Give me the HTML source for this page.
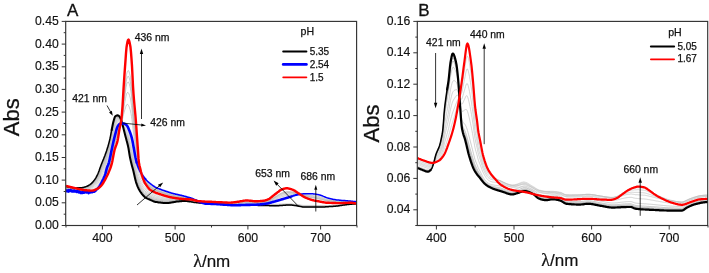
<!DOCTYPE html><html><head><meta charset="utf-8"><style>html,body{margin:0;padding:0;background:#fff;}svg{display:block;will-change:transform;}</style></head><body>
<svg width="709" height="273" viewBox="0 0 709 273" font-family='"Liberation Sans", sans-serif'>
<rect width="709" height="273" fill="#fff"/>
<g clip-path="url(#clipA)">
<path d="M66.0 186.7L66.5 186.8L67.0 186.9L67.5 187.0L68.0 187.1L68.5 187.2L69.0 187.3L69.5 187.4L70.0 187.5L70.5 187.6L71.0 187.7L71.5 187.8L72.0 187.8L72.5 187.9L73.0 187.9L73.5 188.0L74.0 188.0L74.5 188.0L75.0 188.0L75.5 188.0L76.0 188.0L76.5 188.0L77.0 188.0L77.5 188.0L78.0 188.0L78.5 188.0L79.0 188.0L79.5 188.0L80.0 188.1L80.5 188.1L81.0 188.0L81.5 188.0L82.0 187.9L82.5 187.9L83.0 187.8L83.5 187.7L84.0 187.5L84.5 187.4L85.0 187.2L85.5 187.1L86.0 187.0L86.5 186.8L87.0 186.6L87.5 186.4L88.0 186.2L88.5 185.9L89.0 185.6L89.5 185.4L90.0 185.0L90.5 184.7L91.0 184.3L91.5 183.9L92.0 183.5L92.5 183.0L93.0 182.4L93.5 181.8L94.0 181.2L94.5 180.6L95.0 179.9L95.5 179.2L96.0 178.3L96.5 177.4L97.0 176.5L97.5 175.4L98.0 174.4L98.5 173.2L99.0 172.0L99.5 170.6L100.0 169.2L100.5 167.8L101.0 166.4L101.5 165.1L102.0 163.9L102.5 162.6L103.0 161.4L103.5 160.2L104.0 159.0L104.5 157.7L105.0 156.4L105.5 155.0L106.0 153.5L106.5 152.1L107.0 150.5L107.5 148.9L108.0 147.3L108.5 145.6L109.0 143.7L109.5 141.8L110.0 139.7L110.5 137.3L111.0 134.6L111.5 131.9L112.0 129.4L112.5 126.9L113.0 124.5L113.5 122.4L114.0 120.7L114.5 119.1L115.0 117.8L115.5 117.2L116.0 116.7L116.5 116.4L117.0 116.1L117.5 116.0L118.0 116.0L118.5 116.2L119.0 116.5L119.5 117.0L120.0 117.7L120.5 118.6L121.0 119.7L121.5 121.2L122.0 122.8L122.5 124.5L123.0 126.3L123.5 128.2L124.0 130.1L124.5 132.0L125.0 133.8L125.5 135.6L126.0 137.5L126.5 139.3L127.0 141.1L127.5 143.0L128.0 145.0L128.5 147.3L129.0 150.3L129.5 153.3L130.0 156.1L130.5 158.3L131.0 160.4L131.5 162.4L132.0 164.2L132.5 166.1L133.0 168.1L133.5 170.1L134.0 172.3L134.5 174.5L135.0 176.8L135.5 178.9L136.0 180.8L136.5 182.4L137.0 183.8L137.5 185.0L138.0 186.2L138.5 187.2L139.0 188.2L139.5 189.1L140.0 190.0L140.5 190.8L141.0 191.5L141.5 192.2L142.0 192.9L142.5 193.5L143.0 194.1L143.5 194.7L144.0 195.2L144.5 195.7L145.0 196.1L145.5 196.5L146.0 196.8L146.5 197.1L147.0 197.4L147.5 197.6L148.0 197.8L148.5 198.1L149.0 198.3L149.5 198.5L150.0 198.7L150.5 199.0L151.0 199.2L151.5 199.4L152.0 199.7L152.5 199.9L153.0 200.2L153.5 200.4L154.0 200.6L154.5 200.8L155.0 200.9L155.5 201.0L156.0 201.1L156.5 201.2L157.0 201.3L157.5 201.4L158.0 201.5L158.5 201.5L159.0 201.6L159.5 201.7L160.0 201.8L160.5 201.8L161.0 201.9L161.5 202.0L162.0 202.0L162.5 202.1L163.0 202.1L163.5 202.2L164.0 202.2L164.5 202.2L165.0 202.3L165.5 202.3L166.0 202.3L166.5 202.3L167.0 202.3L167.5 202.3L168.0 202.3L168.5 202.3L169.0 202.2L169.5 202.2L170.0 202.1L170.5 202.1L171.0 202.0L171.5 201.9L172.0 201.9L172.5 201.8L173.0 201.7L173.5 201.6L174.0 201.6L174.5 201.5L175.0 201.4L175.5 201.3L176.0 201.3L176.5 201.2L177.0 201.1L177.5 201.1L178.0 201.0L178.5 201.0L179.0 201.0L179.5 200.9L180.0 200.9L180.5 200.9L181.0 200.8L181.5 200.8L182.0 200.8L182.5 200.8L183.0 200.7L183.5 200.7L184.0 200.7L184.5 200.7L185.0 200.7L185.5 200.7L186.0 200.8L186.5 200.8L187.0 200.9L187.5 200.9L188.0 201.0L188.5 201.1L189.0 201.2L189.5 201.3L190.0 201.4L190.5 201.5L191.0 201.6L191.5 201.7L192.0 201.8L192.5 201.9L193.0 202.0L193.5 202.1L194.0 202.2L194.5 202.3L195.0 202.3L195.5 202.4L196.0 202.5L196.5 202.5L197.0 202.6L197.5 202.6L198.0 202.7L198.5 202.8L199.0 202.8L199.5 202.9L200.0 202.9L200.5 203.0L201.0 203.0L201.5 203.1L202.0 203.1L202.5 203.2L203.0 203.2L203.5 203.3L204.0 203.3L204.5 203.4L205.0 203.4L205.5 203.4L206.0 203.5L206.5 203.5L207.0 203.5L207.5 203.6L208.0 203.6L208.5 203.6L209.0 203.7L209.5 203.7L210.0 203.7L210.5 203.8L211.0 203.8L211.5 203.8L212.0 203.8L212.5 203.9L213.0 203.9L213.5 203.9L214.0 203.9L214.5 204.0L215.0 204.0L215.5 204.0L216.0 204.1L216.5 204.1L217.0 204.1L217.5 204.1L218.0 204.2L218.5 204.2L219.0 204.2L219.5 204.2L220.0 204.3L220.5 204.3L221.0 204.3L221.5 204.3L222.0 204.4L222.5 204.4L223.0 204.4L223.5 204.4L224.0 204.4L224.5 204.5L225.0 204.5L225.5 204.5L226.0 204.5L226.5 204.6L227.0 204.6L227.5 204.6L228.0 204.6L228.5 204.6L229.0 204.7L229.5 204.7L230.0 204.7L230.5 204.7L231.0 204.7L231.5 204.8L232.0 204.8L232.5 204.8L233.0 204.8L233.5 204.8L234.0 204.8L234.5 204.9L235.0 204.9L235.5 204.9L236.0 204.9L236.5 204.9L237.0 204.9L237.5 204.9L238.0 205.0L238.5 205.0L239.0 205.0L239.5 205.0L240.0 205.0L240.5 205.0L241.0 205.0L241.5 205.0L242.0 205.0L242.5 205.1L243.0 205.1L243.5 205.1L244.0 205.1L244.5 205.1L245.0 205.1L245.5 205.1L246.0 205.1L246.5 205.1L247.0 205.1L247.5 205.2L248.0 205.2L248.5 205.2L249.0 205.2L249.5 205.2L250.0 205.2L250.5 205.2L251.0 205.2L251.5 205.2L252.0 205.2L252.5 205.2L253.0 205.2L253.5 205.2L254.0 205.3L254.5 205.3L255.0 205.3L255.5 205.3L256.0 205.3L256.5 205.3L257.0 205.3L257.5 205.3L258.0 205.3L258.5 205.3L259.0 205.3L259.5 205.3L260.0 205.3L260.5 205.3L261.0 205.4L261.5 205.4L262.0 205.4L262.5 205.4L263.0 205.4L263.5 205.4L264.0 205.4L264.5 205.4L265.0 205.4L265.5 205.4L266.0 205.4L266.5 205.5L267.0 205.5L267.5 205.5L268.0 205.5L268.5 205.5L269.0 205.5L269.5 205.6L270.0 205.6L270.5 205.6L271.0 205.6L271.5 205.6L272.0 205.6L272.5 205.6L273.0 205.7L273.5 205.7L274.0 205.7L274.5 205.7L275.0 205.7L275.5 205.7L276.0 205.7L276.5 205.7L277.0 205.6L277.5 205.6L278.0 205.6L278.5 205.6L279.0 205.5L279.5 205.5L280.0 205.5L280.5 205.4L281.0 205.4L281.5 205.4L282.0 205.3L282.5 205.3L283.0 205.3L283.5 205.2L284.0 205.2L284.5 205.1L285.0 205.1L285.5 205.1L286.0 205.0L286.5 205.0L287.0 205.0L287.5 205.0L288.0 205.0L288.5 204.9L289.0 204.9L289.5 204.9L290.0 204.9L290.5 204.9L291.0 205.0L291.5 205.0L292.0 205.0L292.5 205.1L293.0 205.2L293.5 205.2L294.0 205.3L294.5 205.4L295.0 205.4L295.5 205.5L296.0 205.6L296.5 205.6L297.0 205.7L297.5 205.8L298.0 205.9L298.5 206.0L299.0 206.1L299.5 206.2L300.0 206.3L300.5 206.4L301.0 206.5L301.5 206.6L302.0 206.7L302.5 206.7L303.0 206.8L303.5 206.9L304.0 206.9L304.5 206.9L305.0 206.9L305.5 206.9L306.0 206.9L306.5 206.9L307.0 206.9L307.5 206.9L308.0 206.9L308.5 206.9L309.0 206.9L309.5 206.9L310.0 206.9L310.5 206.9L311.0 206.9L311.5 206.9L312.0 206.9L312.5 206.9L313.0 206.9L313.5 206.9L314.0 206.9L314.5 206.9L315.0 206.9L315.5 206.9L316.0 206.9L316.5 206.9L317.0 206.9L317.5 206.9L318.0 206.9L318.5 206.9L319.0 206.9L319.5 206.9L320.0 206.9L320.5 206.9L321.0 206.9L321.5 206.9L322.0 206.9L322.5 206.8L323.0 206.8L323.5 206.8L324.0 206.8L324.5 206.8L325.0 206.8L325.5 206.7L326.0 206.7L326.5 206.7L327.0 206.7L327.5 206.7L328.0 206.6L328.5 206.6L329.0 206.6L329.5 206.5L330.0 206.5L330.5 206.5L331.0 206.4L331.5 206.4L332.0 206.4L332.5 206.4L333.0 206.3L333.5 206.3L334.0 206.3L334.5 206.2L335.0 206.2L335.5 206.1L336.0 206.1L336.5 206.0L337.0 206.0L337.5 205.9L338.0 205.8L338.5 205.8L339.0 205.7L339.5 205.6L340.0 205.6L340.5 205.5L341.0 205.4L341.5 205.3L342.0 205.2L342.5 205.2L343.0 205.1L343.5 205.0L344.0 204.9L344.5 204.9L345.0 204.8L345.5 204.7L346.0 204.7L346.5 204.6L347.0 204.6L347.5 204.5L348.0 204.5L348.5 204.4L349.0 204.4L349.5 204.3L350.0 204.3L350.5 204.2L351.0 204.2L351.5 204.1L352.0 204.1L352.5 204.0L353.0 204.0L353.5 204.0L354.0 203.9L354.5 203.9L355.0 203.8L355.5 203.8L356.0 203.8L356.5 203.7L357.0 203.7" fill="none" stroke="#8c8c8c" stroke-width="0.75"/>
<path d="M66.0 186.9L66.5 187.0L67.0 187.1L67.5 187.3L68.0 187.4L68.5 187.5L69.0 187.6L69.5 187.7L70.0 187.7L70.5 187.8L71.0 187.9L71.5 188.0L72.0 188.0L72.5 188.1L73.0 188.1L73.5 188.2L74.0 188.2L74.5 188.2L75.0 188.2L75.5 188.2L76.0 188.2L76.5 188.3L77.0 188.3L77.5 188.3L78.0 188.3L78.5 188.3L79.0 188.3L79.5 188.3L80.0 188.3L80.5 188.3L81.0 188.3L81.5 188.3L82.0 188.2L82.5 188.2L83.0 188.1L83.5 188.0L84.0 187.8L84.5 187.7L85.0 187.6L85.5 187.4L86.0 187.3L86.5 187.2L87.0 187.0L87.5 186.8L88.0 186.6L88.5 186.3L89.0 186.1L89.5 185.8L90.0 185.5L90.5 185.2L91.0 184.9L91.5 184.5L92.0 184.0L92.5 183.6L93.0 183.0L93.5 182.5L94.0 181.9L94.5 181.3L95.0 180.6L95.5 179.9L96.0 179.1L96.5 178.2L97.0 177.3L97.5 176.3L98.0 175.3L98.5 174.1L99.0 172.9L99.5 171.6L100.0 170.2L100.5 168.9L101.0 167.5L101.5 166.2L102.0 165.0L102.5 163.8L103.0 162.6L103.5 161.4L104.0 160.2L104.5 158.9L105.0 157.5L105.5 156.2L106.0 154.7L106.5 153.2L107.0 151.6L107.5 150.0L108.0 148.4L108.5 146.8L109.0 144.9L109.5 143.0L110.0 140.8L110.5 138.4L111.0 135.8L111.5 133.1L112.0 130.6L112.5 128.1L113.0 125.7L113.5 123.6L114.0 121.9L114.5 120.2L115.0 118.9L115.5 118.2L116.0 117.7L116.5 117.2L117.0 116.9L117.5 116.7L118.0 116.7L118.5 116.8L119.0 117.0L119.5 117.4L120.0 118.1L120.5 118.9L121.0 120.0L121.5 121.3L122.0 122.8L122.5 124.4L123.0 126.1L123.5 127.9L124.0 129.7L124.5 131.4L125.0 133.2L125.5 134.9L126.0 136.7L126.5 138.4L127.0 140.1L127.5 141.9L128.0 143.9L128.5 146.1L129.0 148.9L129.5 151.9L130.0 154.5L130.5 156.8L131.0 158.8L131.5 160.7L132.0 162.6L132.5 164.5L133.0 166.5L133.5 168.6L134.0 170.8L134.5 173.1L135.0 175.4L135.5 177.5L136.0 179.4L136.5 181.1L137.0 182.5L137.5 183.7L138.0 184.9L138.5 186.0L139.0 187.0L139.5 187.9L140.0 188.8L140.5 189.6L141.0 190.3L141.5 191.0L142.0 191.7L142.5 192.4L143.0 193.0L143.5 193.5L144.0 194.1L144.5 194.6L145.0 195.0L145.5 195.4L146.0 195.7L146.5 196.0L147.0 196.3L147.5 196.6L148.0 196.8L148.5 197.0L149.0 197.3L149.5 197.5L150.0 197.7L150.5 198.0L151.0 198.2L151.5 198.5L152.0 198.8L152.5 199.0L153.0 199.2L153.5 199.5L154.0 199.7L154.5 199.9L155.0 200.0L155.5 200.1L156.0 200.2L156.5 200.3L157.0 200.4L157.5 200.5L158.0 200.6L158.5 200.7L159.0 200.8L159.5 200.9L160.0 201.0L160.5 201.0L161.0 201.1L161.5 201.2L162.0 201.2L162.5 201.3L163.0 201.4L163.5 201.4L164.0 201.5L164.5 201.5L165.0 201.5L165.5 201.6L166.0 201.6L166.5 201.6L167.0 201.6L167.5 201.6L168.0 201.6L168.5 201.6L169.0 201.6L169.5 201.6L170.0 201.5L170.5 201.5L171.0 201.4L171.5 201.4L172.0 201.3L172.5 201.3L173.0 201.2L173.5 201.1L174.0 201.1L174.5 201.0L175.0 200.9L175.5 200.9L176.0 200.8L176.5 200.8L177.0 200.7L177.5 200.7L178.0 200.6L178.5 200.6L179.0 200.6L179.5 200.6L180.0 200.5L180.5 200.5L181.0 200.5L181.5 200.5L182.0 200.5L182.5 200.4L183.0 200.4L183.5 200.4L184.0 200.4L184.5 200.4L185.0 200.4L185.5 200.5L186.0 200.5L186.5 200.6L187.0 200.6L187.5 200.7L188.0 200.8L188.5 200.9L189.0 201.0L189.5 201.1L190.0 201.2L190.5 201.3L191.0 201.4L191.5 201.5L192.0 201.6L192.5 201.7L193.0 201.8L193.5 201.9L194.0 202.0L194.5 202.1L195.0 202.2L195.5 202.2L196.0 202.3L196.5 202.4L197.0 202.5L197.5 202.5L198.0 202.6L198.5 202.7L199.0 202.8L199.5 202.8L200.0 202.9L200.5 202.9L201.0 203.0L201.5 203.1L202.0 203.1L202.5 203.2L203.0 203.2L203.5 203.3L204.0 203.3L204.5 203.4L205.0 203.4L205.5 203.4L206.0 203.5L206.5 203.5L207.0 203.5L207.5 203.6L208.0 203.6L208.5 203.6L209.0 203.7L209.5 203.7L210.0 203.7L210.5 203.8L211.0 203.8L211.5 203.8L212.0 203.8L212.5 203.9L213.0 203.9L213.5 203.9L214.0 203.9L214.5 204.0L215.0 204.0L215.5 204.0L216.0 204.1L216.5 204.1L217.0 204.1L217.5 204.1L218.0 204.2L218.5 204.2L219.0 204.2L219.5 204.2L220.0 204.3L220.5 204.3L221.0 204.3L221.5 204.3L222.0 204.4L222.5 204.4L223.0 204.4L223.5 204.4L224.0 204.5L224.5 204.5L225.0 204.5L225.5 204.5L226.0 204.6L226.5 204.6L227.0 204.6L227.5 204.6L228.0 204.6L228.5 204.7L229.0 204.7L229.5 204.7L230.0 204.7L230.5 204.7L231.0 204.8L231.5 204.8L232.0 204.8L232.5 204.8L233.0 204.8L233.5 204.8L234.0 204.9L234.5 204.9L235.0 204.9L235.5 204.9L236.0 204.9L236.5 204.9L237.0 204.9L237.5 205.0L238.0 205.0L238.5 205.0L239.0 205.0L239.5 205.0L240.0 205.0L240.5 205.0L241.0 205.0L241.5 205.0L242.0 205.0L242.5 205.1L243.0 205.1L243.5 205.1L244.0 205.1L244.5 205.1L245.0 205.1L245.5 205.1L246.0 205.1L246.5 205.1L247.0 205.1L247.5 205.1L248.0 205.1L248.5 205.1L249.0 205.2L249.5 205.2L250.0 205.2L250.5 205.2L251.0 205.2L251.5 205.2L252.0 205.2L252.5 205.2L253.0 205.2L253.5 205.2L254.0 205.2L254.5 205.2L255.0 205.2L255.5 205.2L256.0 205.2L256.5 205.2L257.0 205.3L257.5 205.3L258.0 205.3L258.5 205.3L259.0 205.3L259.5 205.3L260.0 205.3L260.5 205.3L261.0 205.3L261.5 205.3L262.0 205.3L262.5 205.3L263.0 205.3L263.5 205.3L264.0 205.3L264.5 205.3L265.0 205.3L265.5 205.4L266.0 205.4L266.5 205.4L267.0 205.4L267.5 205.4L268.0 205.4L268.5 205.4L269.0 205.4L269.5 205.5L270.0 205.5L270.5 205.5L271.0 205.5L271.5 205.5L272.0 205.5L272.5 205.5L273.0 205.5L273.5 205.5L274.0 205.6L274.5 205.6L275.0 205.6L275.5 205.6L276.0 205.6L276.5 205.5L277.0 205.5L277.5 205.5L278.0 205.5L278.5 205.5L279.0 205.4L279.5 205.4L280.0 205.4L280.5 205.3L281.0 205.3L281.5 205.3L282.0 205.2L282.5 205.2L283.0 205.2L283.5 205.1L284.0 205.1L284.5 205.1L285.0 205.0L285.5 205.0L286.0 205.0L286.5 204.9L287.0 204.9L287.5 204.9L288.0 204.9L288.5 204.9L289.0 204.9L289.5 204.8L290.0 204.9L290.5 204.9L291.0 204.9L291.5 204.9L292.0 205.0L292.5 205.0L293.0 205.1L293.5 205.1L294.0 205.2L294.5 205.3L295.0 205.3L295.5 205.4L296.0 205.5L296.5 205.5L297.0 205.6L297.5 205.7L298.0 205.8L298.5 205.8L299.0 205.9L299.5 206.1L300.0 206.2L300.5 206.3L301.0 206.4L301.5 206.5L302.0 206.6L302.5 206.6L303.0 206.7L303.5 206.7L304.0 206.8L304.5 206.8L305.0 206.8L305.5 206.8L306.0 206.8L306.5 206.8L307.0 206.8L307.5 206.8L308.0 206.8L308.5 206.8L309.0 206.8L309.5 206.8L310.0 206.8L310.5 206.8L311.0 206.8L311.5 206.8L312.0 206.8L312.5 206.8L313.0 206.8L313.5 206.8L314.0 206.8L314.5 206.8L315.0 206.8L315.5 206.8L316.0 206.8L316.5 206.8L317.0 206.8L317.5 206.8L318.0 206.8L318.5 206.8L319.0 206.8L319.5 206.8L320.0 206.8L320.5 206.8L321.0 206.8L321.5 206.8L322.0 206.8L322.5 206.8L323.0 206.7L323.5 206.7L324.0 206.7L324.5 206.7L325.0 206.7L325.5 206.7L326.0 206.6L326.5 206.6L327.0 206.6L327.5 206.6L328.0 206.5L328.5 206.5L329.0 206.5L329.5 206.5L330.0 206.4L330.5 206.4L331.0 206.4L331.5 206.3L332.0 206.3L332.5 206.3L333.0 206.3L333.5 206.2L334.0 206.2L334.5 206.2L335.0 206.1L335.5 206.1L336.0 206.0L336.5 206.0L337.0 205.9L337.5 205.9L338.0 205.8L338.5 205.7L339.0 205.7L339.5 205.6L340.0 205.5L340.5 205.4L341.0 205.4L341.5 205.3L342.0 205.2L342.5 205.1L343.0 205.1L343.5 205.0L344.0 204.9L344.5 204.8L345.0 204.8L345.5 204.7L346.0 204.6L346.5 204.6L347.0 204.5L347.5 204.5L348.0 204.4L348.5 204.4L349.0 204.3L349.5 204.3L350.0 204.2L350.5 204.2L351.0 204.1L351.5 204.1L352.0 204.1L352.5 204.0L353.0 204.0L353.5 203.9L354.0 203.9L354.5 203.8L355.0 203.8L355.5 203.8L356.0 203.7L356.5 203.7L357.0 203.7" fill="none" stroke="#9c9c9c" stroke-width="0.75"/>
<path d="M66.0 187.2L66.5 187.3L67.0 187.4L67.5 187.5L68.0 187.6L68.5 187.7L69.0 187.8L69.5 187.9L70.0 188.0L70.5 188.0L71.0 188.1L71.5 188.2L72.0 188.2L72.5 188.3L73.0 188.3L73.5 188.4L74.0 188.4L74.5 188.4L75.0 188.4L75.5 188.5L76.0 188.5L76.5 188.5L77.0 188.5L77.5 188.5L78.0 188.5L78.5 188.5L79.0 188.5L79.5 188.5L80.0 188.6L80.5 188.6L81.0 188.6L81.5 188.5L82.0 188.5L82.5 188.4L83.0 188.4L83.5 188.3L84.0 188.2L84.5 188.0L85.0 187.9L85.5 187.8L86.0 187.7L86.5 187.5L87.0 187.4L87.5 187.2L88.0 187.0L88.5 186.8L89.0 186.5L89.5 186.3L90.0 186.0L90.5 185.7L91.0 185.4L91.5 185.0L92.0 184.6L92.5 184.1L93.0 183.6L93.5 183.1L94.0 182.5L94.5 181.9L95.0 181.3L95.5 180.6L96.0 179.8L96.5 179.0L97.0 178.1L97.5 177.1L98.0 176.1L98.5 175.1L99.0 173.9L99.5 172.6L100.0 171.3L100.5 169.9L101.0 168.6L101.5 167.3L102.0 166.1L102.5 164.9L103.0 163.7L103.5 162.6L104.0 161.3L104.5 160.1L105.0 158.7L105.5 157.3L106.0 155.8L106.5 154.3L107.0 152.7L107.5 151.1L108.0 149.6L108.5 147.9L109.0 146.1L109.5 144.1L110.0 142.0L110.5 139.6L111.0 136.9L111.5 134.3L112.0 131.8L112.5 129.3L113.0 126.9L113.5 124.8L114.0 123.0L114.5 121.4L115.0 120.0L115.5 119.2L116.0 118.6L116.5 118.1L117.0 117.6L117.5 117.4L118.0 117.3L118.5 117.4L119.0 117.5L119.5 117.9L120.0 118.5L120.5 119.3L121.0 120.2L121.5 121.5L122.0 122.9L122.5 124.3L123.0 125.9L123.5 127.6L124.0 129.3L124.5 130.9L125.0 132.6L125.5 134.2L126.0 135.9L126.5 137.5L127.0 139.2L127.5 140.9L128.0 142.7L128.5 144.9L129.0 147.6L129.5 150.5L130.0 153.0L130.5 155.2L131.0 157.2L131.5 159.1L132.0 161.0L132.5 162.9L133.0 164.9L133.5 167.1L134.0 169.3L134.5 171.7L135.0 174.0L135.5 176.2L136.0 178.1L136.5 179.8L137.0 181.2L137.5 182.5L138.0 183.6L138.5 184.7L139.0 185.8L139.5 186.7L140.0 187.6L140.5 188.4L141.0 189.1L141.5 189.8L142.0 190.5L142.5 191.2L143.0 191.8L143.5 192.4L144.0 192.9L144.5 193.4L145.0 193.9L145.5 194.3L146.0 194.6L146.5 194.9L147.0 195.2L147.5 195.5L148.0 195.8L148.5 196.0L149.0 196.3L149.5 196.5L150.0 196.8L150.5 197.0L151.0 197.3L151.5 197.5L152.0 197.8L152.5 198.1L153.0 198.3L153.5 198.6L154.0 198.8L154.5 199.0L155.0 199.1L155.5 199.3L156.0 199.4L156.5 199.5L157.0 199.6L157.5 199.7L158.0 199.8L158.5 199.9L159.0 200.0L159.5 200.1L160.0 200.2L160.5 200.2L161.0 200.3L161.5 200.4L162.0 200.5L162.5 200.5L163.0 200.6L163.5 200.7L164.0 200.7L164.5 200.8L165.0 200.8L165.5 200.9L166.0 200.9L166.5 200.9L167.0 201.0L167.5 201.0L168.0 201.0L168.5 201.0L169.0 201.0L169.5 200.9L170.0 200.9L170.5 200.9L171.0 200.8L171.5 200.8L172.0 200.8L172.5 200.7L173.0 200.7L173.5 200.6L174.0 200.6L174.5 200.5L175.0 200.5L175.5 200.4L176.0 200.4L176.5 200.3L177.0 200.3L177.5 200.3L178.0 200.2L178.5 200.2L179.0 200.2L179.5 200.2L180.0 200.2L180.5 200.2L181.0 200.1L181.5 200.1L182.0 200.1L182.5 200.1L183.0 200.1L183.5 200.1L184.0 200.1L184.5 200.1L185.0 200.2L185.5 200.2L186.0 200.2L186.5 200.3L187.0 200.4L187.5 200.4L188.0 200.5L188.5 200.6L189.0 200.7L189.5 200.8L190.0 200.9L190.5 201.0L191.0 201.1L191.5 201.3L192.0 201.4L192.5 201.5L193.0 201.6L193.5 201.7L194.0 201.8L194.5 201.9L195.0 202.0L195.5 202.1L196.0 202.2L196.5 202.3L197.0 202.4L197.5 202.4L198.0 202.5L198.5 202.6L199.0 202.7L199.5 202.8L200.0 202.8L200.5 202.9L201.0 203.0L201.5 203.0L202.0 203.1L202.5 203.2L203.0 203.2L203.5 203.3L204.0 203.3L204.5 203.4L205.0 203.4L205.5 203.4L206.0 203.5L206.5 203.5L207.0 203.6L207.5 203.6L208.0 203.6L208.5 203.6L209.0 203.7L209.5 203.7L210.0 203.7L210.5 203.8L211.0 203.8L211.5 203.8L212.0 203.8L212.5 203.9L213.0 203.9L213.5 203.9L214.0 203.9L214.5 204.0L215.0 204.0L215.5 204.0L216.0 204.1L216.5 204.1L217.0 204.1L217.5 204.1L218.0 204.2L218.5 204.2L219.0 204.2L219.5 204.2L220.0 204.3L220.5 204.3L221.0 204.3L221.5 204.3L222.0 204.4L222.5 204.4L223.0 204.4L223.5 204.4L224.0 204.5L224.5 204.5L225.0 204.5L225.5 204.5L226.0 204.6L226.5 204.6L227.0 204.6L227.5 204.6L228.0 204.7L228.5 204.7L229.0 204.7L229.5 204.7L230.0 204.7L230.5 204.8L231.0 204.8L231.5 204.8L232.0 204.8L232.5 204.8L233.0 204.9L233.5 204.9L234.0 204.9L234.5 204.9L235.0 204.9L235.5 204.9L236.0 204.9L236.5 205.0L237.0 205.0L237.5 205.0L238.0 205.0L238.5 205.0L239.0 205.0L239.5 205.0L240.0 205.0L240.5 205.0L241.0 205.0L241.5 205.0L242.0 205.0L242.5 205.1L243.0 205.1L243.5 205.1L244.0 205.1L244.5 205.1L245.0 205.1L245.5 205.1L246.0 205.1L246.5 205.1L247.0 205.1L247.5 205.1L248.0 205.1L248.5 205.1L249.0 205.1L249.5 205.1L250.0 205.1L250.5 205.2L251.0 205.2L251.5 205.2L252.0 205.2L252.5 205.2L253.0 205.2L253.5 205.2L254.0 205.2L254.5 205.2L255.0 205.2L255.5 205.2L256.0 205.2L256.5 205.2L257.0 205.2L257.5 205.2L258.0 205.2L258.5 205.2L259.0 205.2L259.5 205.2L260.0 205.2L260.5 205.2L261.0 205.2L261.5 205.2L262.0 205.2L262.5 205.3L263.0 205.3L263.5 205.3L264.0 205.3L264.5 205.3L265.0 205.3L265.5 205.3L266.0 205.3L266.5 205.3L267.0 205.3L267.5 205.3L268.0 205.3L268.5 205.3L269.0 205.3L269.5 205.4L270.0 205.4L270.5 205.4L271.0 205.4L271.5 205.4L272.0 205.4L272.5 205.4L273.0 205.4L273.5 205.4L274.0 205.4L274.5 205.4L275.0 205.4L275.5 205.4L276.0 205.4L276.5 205.4L277.0 205.4L277.5 205.4L278.0 205.4L278.5 205.3L279.0 205.3L279.5 205.3L280.0 205.3L280.5 205.2L281.0 205.2L281.5 205.2L282.0 205.1L282.5 205.1L283.0 205.1L283.5 205.0L284.0 205.0L284.5 205.0L285.0 204.9L285.5 204.9L286.0 204.9L286.5 204.9L287.0 204.8L287.5 204.8L288.0 204.8L288.5 204.8L289.0 204.8L289.5 204.8L290.0 204.8L290.5 204.8L291.0 204.8L291.5 204.8L292.0 204.9L292.5 204.9L293.0 205.0L293.5 205.0L294.0 205.1L294.5 205.2L295.0 205.2L295.5 205.3L296.0 205.4L296.5 205.4L297.0 205.5L297.5 205.6L298.0 205.7L298.5 205.7L299.0 205.8L299.5 205.9L300.0 206.1L300.5 206.2L301.0 206.3L301.5 206.4L302.0 206.4L302.5 206.5L303.0 206.6L303.5 206.6L304.0 206.6L304.5 206.6L305.0 206.6L305.5 206.6L306.0 206.6L306.5 206.6L307.0 206.6L307.5 206.6L308.0 206.6L308.5 206.6L309.0 206.6L309.5 206.6L310.0 206.6L310.5 206.6L311.0 206.6L311.5 206.6L312.0 206.6L312.5 206.6L313.0 206.6L313.5 206.6L314.0 206.6L314.5 206.6L315.0 206.7L315.5 206.7L316.0 206.7L316.5 206.7L317.0 206.7L317.5 206.7L318.0 206.7L318.5 206.7L319.0 206.7L319.5 206.7L320.0 206.7L320.5 206.7L321.0 206.7L321.5 206.7L322.0 206.7L322.5 206.7L323.0 206.6L323.5 206.6L324.0 206.6L324.5 206.6L325.0 206.6L325.5 206.6L326.0 206.6L326.5 206.5L327.0 206.5L327.5 206.5L328.0 206.5L328.5 206.4L329.0 206.4L329.5 206.4L330.0 206.4L330.5 206.3L331.0 206.3L331.5 206.3L332.0 206.3L332.5 206.2L333.0 206.2L333.5 206.2L334.0 206.1L334.5 206.1L335.0 206.1L335.5 206.0L336.0 206.0L336.5 205.9L337.0 205.9L337.5 205.8L338.0 205.7L338.5 205.7L339.0 205.6L339.5 205.5L340.0 205.5L340.5 205.4L341.0 205.3L341.5 205.2L342.0 205.2L342.5 205.1L343.0 205.0L343.5 204.9L344.0 204.9L344.5 204.8L345.0 204.7L345.5 204.7L346.0 204.6L346.5 204.6L347.0 204.5L347.5 204.4L348.0 204.4L348.5 204.3L349.0 204.3L349.5 204.3L350.0 204.2L350.5 204.2L351.0 204.1L351.5 204.1L352.0 204.0L352.5 204.0L353.0 203.9L353.5 203.9L354.0 203.9L354.5 203.8L355.0 203.8L355.5 203.8L356.0 203.7L356.5 203.7L357.0 203.6" fill="none" stroke="#a8a8a8" stroke-width="0.75"/>
<path d="M66.0 187.5L66.5 187.6L67.0 187.7L67.5 187.8L68.0 187.9L68.5 188.0L69.0 188.1L69.5 188.1L70.0 188.2L70.5 188.3L71.0 188.4L71.5 188.4L72.0 188.5L72.5 188.5L73.0 188.6L73.5 188.6L74.0 188.7L74.5 188.7L75.0 188.7L75.5 188.7L76.0 188.7L76.5 188.7L77.0 188.8L77.5 188.8L78.0 188.8L78.5 188.8L79.0 188.8L79.5 188.8L80.0 188.9L80.5 188.9L81.0 188.9L81.5 188.9L82.0 188.8L82.5 188.8L83.0 188.7L83.5 188.6L84.0 188.5L84.5 188.4L85.0 188.3L85.5 188.2L86.0 188.1L86.5 187.9L87.0 187.8L87.5 187.6L88.0 187.4L88.5 187.2L89.0 187.0L89.5 186.8L90.0 186.5L90.5 186.3L91.0 186.0L91.5 185.6L92.0 185.2L92.5 184.8L93.0 184.3L93.5 183.8L94.0 183.3L94.5 182.7L95.0 182.1L95.5 181.4L96.0 180.7L96.5 179.9L97.0 179.0L97.5 178.1L98.0 177.2L98.5 176.1L99.0 175.0L99.5 173.8L100.0 172.5L100.5 171.2L101.0 169.9L101.5 168.6L102.0 167.4L102.5 166.2L103.0 165.1L103.5 163.9L104.0 162.7L104.5 161.4L105.0 160.1L105.5 158.7L106.0 157.2L106.5 155.6L107.0 154.0L107.5 152.4L108.0 150.9L108.5 149.3L109.0 147.5L109.5 145.5L110.0 143.3L110.5 140.9L111.0 138.3L111.5 135.7L112.0 133.2L112.5 130.7L113.0 128.4L113.5 126.2L114.0 124.4L114.5 122.7L115.0 121.3L115.5 120.4L116.0 119.7L116.5 119.0L117.0 118.5L117.5 118.2L118.0 118.0L118.5 118.0L119.0 118.1L119.5 118.4L120.0 118.9L120.5 119.6L121.0 120.5L121.5 121.6L122.0 122.9L122.5 124.2L123.0 125.7L123.5 127.2L124.0 128.8L124.5 130.3L125.0 131.8L125.5 133.3L126.0 134.9L126.5 136.5L127.0 138.0L127.5 139.6L128.0 141.4L128.5 143.5L129.0 146.1L129.5 148.8L130.0 151.2L130.5 153.3L131.0 155.3L131.5 157.2L132.0 159.1L132.5 161.1L133.0 163.1L133.5 165.3L134.0 167.6L134.5 170.0L135.0 172.4L135.5 174.6L136.0 176.5L136.5 178.2L137.0 179.7L137.5 181.0L138.0 182.2L138.5 183.3L139.0 184.3L139.5 185.3L140.0 186.1L140.5 187.0L141.0 187.7L141.5 188.5L142.0 189.2L142.5 189.8L143.0 190.5L143.5 191.1L144.0 191.6L144.5 192.1L145.0 192.6L145.5 193.0L146.0 193.4L146.5 193.7L147.0 194.0L147.5 194.3L148.0 194.6L148.5 194.8L149.0 195.1L149.5 195.4L150.0 195.6L150.5 195.9L151.0 196.2L151.5 196.4L152.0 196.7L152.5 197.0L153.0 197.2L153.5 197.5L154.0 197.7L154.5 197.9L155.0 198.1L155.5 198.2L156.0 198.4L156.5 198.5L157.0 198.6L157.5 198.7L158.0 198.8L158.5 198.9L159.0 199.0L159.5 199.1L160.0 199.2L160.5 199.3L161.0 199.4L161.5 199.5L162.0 199.6L162.5 199.6L163.0 199.7L163.5 199.8L164.0 199.8L164.5 199.9L165.0 200.0L165.5 200.0L166.0 200.1L166.5 200.1L167.0 200.2L167.5 200.2L168.0 200.2L168.5 200.2L169.0 200.2L169.5 200.2L170.0 200.2L170.5 200.2L171.0 200.2L171.5 200.1L172.0 200.1L172.5 200.1L173.0 200.0L173.5 200.0L174.0 200.0L174.5 199.9L175.0 199.9L175.5 199.9L176.0 199.8L176.5 199.8L177.0 199.8L177.5 199.8L178.0 199.8L178.5 199.7L179.0 199.7L179.5 199.7L180.0 199.7L180.5 199.7L181.0 199.7L181.5 199.7L182.0 199.7L182.5 199.7L183.0 199.7L183.5 199.8L184.0 199.8L184.5 199.8L185.0 199.8L185.5 199.9L186.0 199.9L186.5 200.0L187.0 200.1L187.5 200.2L188.0 200.2L188.5 200.3L189.0 200.4L189.5 200.5L190.0 200.7L190.5 200.8L191.0 200.9L191.5 201.0L192.0 201.1L192.5 201.2L193.0 201.3L193.5 201.5L194.0 201.6L194.5 201.7L195.0 201.8L195.5 201.9L196.0 202.0L196.5 202.1L197.0 202.2L197.5 202.3L198.0 202.4L198.5 202.5L199.0 202.6L199.5 202.7L200.0 202.8L200.5 202.9L201.0 202.9L201.5 203.0L202.0 203.1L202.5 203.2L203.0 203.2L203.5 203.3L204.0 203.3L204.5 203.4L205.0 203.4L205.5 203.5L206.0 203.5L206.5 203.5L207.0 203.6L207.5 203.6L208.0 203.6L208.5 203.7L209.0 203.7L209.5 203.7L210.0 203.7L210.5 203.8L211.0 203.8L211.5 203.8L212.0 203.8L212.5 203.9L213.0 203.9L213.5 203.9L214.0 204.0L214.5 204.0L215.0 204.0L215.5 204.0L216.0 204.1L216.5 204.1L217.0 204.1L217.5 204.1L218.0 204.2L218.5 204.2L219.0 204.2L219.5 204.2L220.0 204.3L220.5 204.3L221.0 204.3L221.5 204.4L222.0 204.4L222.5 204.4L223.0 204.4L223.5 204.5L224.0 204.5L224.5 204.5L225.0 204.5L225.5 204.6L226.0 204.6L226.5 204.6L227.0 204.6L227.5 204.7L228.0 204.7L228.5 204.7L229.0 204.7L229.5 204.7L230.0 204.8L230.5 204.8L231.0 204.8L231.5 204.8L232.0 204.8L232.5 204.9L233.0 204.9L233.5 204.9L234.0 204.9L234.5 204.9L235.0 204.9L235.5 205.0L236.0 205.0L236.5 205.0L237.0 205.0L237.5 205.0L238.0 205.0L238.5 205.0L239.0 205.0L239.5 205.0L240.0 205.0L240.5 205.0L241.0 205.0L241.5 205.0L242.0 205.0L242.5 205.0L243.0 205.1L243.5 205.1L244.0 205.1L244.5 205.1L245.0 205.1L245.5 205.1L246.0 205.1L246.5 205.1L247.0 205.1L247.5 205.1L248.0 205.1L248.5 205.1L249.0 205.1L249.5 205.1L250.0 205.1L250.5 205.1L251.0 205.1L251.5 205.1L252.0 205.1L252.5 205.1L253.0 205.1L253.5 205.1L254.0 205.2L254.5 205.2L255.0 205.2L255.5 205.2L256.0 205.2L256.5 205.2L257.0 205.2L257.5 205.2L258.0 205.2L258.5 205.2L259.0 205.2L259.5 205.2L260.0 205.2L260.5 205.2L261.0 205.2L261.5 205.2L262.0 205.2L262.5 205.2L263.0 205.2L263.5 205.2L264.0 205.2L264.5 205.2L265.0 205.2L265.5 205.2L266.0 205.2L266.5 205.2L267.0 205.2L267.5 205.2L268.0 205.2L268.5 205.2L269.0 205.2L269.5 205.2L270.0 205.2L270.5 205.3L271.0 205.3L271.5 205.3L272.0 205.3L272.5 205.3L273.0 205.3L273.5 205.3L274.0 205.3L274.5 205.3L275.0 205.3L275.5 205.3L276.0 205.3L276.5 205.3L277.0 205.3L277.5 205.3L278.0 205.2L278.5 205.2L279.0 205.2L279.5 205.2L280.0 205.1L280.5 205.1L281.0 205.1L281.5 205.0L282.0 205.0L282.5 205.0L283.0 205.0L283.5 204.9L284.0 204.9L284.5 204.9L285.0 204.8L285.5 204.8L286.0 204.8L286.5 204.8L287.0 204.7L287.5 204.7L288.0 204.7L288.5 204.7L289.0 204.7L289.5 204.7L290.0 204.7L290.5 204.7L291.0 204.7L291.5 204.8L292.0 204.8L292.5 204.8L293.0 204.9L293.5 204.9L294.0 205.0L294.5 205.1L295.0 205.1L295.5 205.2L296.0 205.3L296.5 205.3L297.0 205.4L297.5 205.5L298.0 205.5L298.5 205.6L299.0 205.7L299.5 205.8L300.0 205.9L300.5 206.0L301.0 206.1L301.5 206.2L302.0 206.3L302.5 206.4L303.0 206.4L303.5 206.5L304.0 206.5L304.5 206.5L305.0 206.5L305.5 206.5L306.0 206.5L306.5 206.5L307.0 206.5L307.5 206.5L308.0 206.5L308.5 206.5L309.0 206.5L309.5 206.5L310.0 206.5L310.5 206.5L311.0 206.5L311.5 206.5L312.0 206.5L312.5 206.5L313.0 206.5L313.5 206.5L314.0 206.5L314.5 206.5L315.0 206.5L315.5 206.5L316.0 206.5L316.5 206.5L317.0 206.5L317.5 206.5L318.0 206.5L318.5 206.5L319.0 206.5L319.5 206.5L320.0 206.5L320.5 206.5L321.0 206.5L321.5 206.5L322.0 206.5L322.5 206.5L323.0 206.5L323.5 206.5L324.0 206.5L324.5 206.5L325.0 206.5L325.5 206.5L326.0 206.5L326.5 206.4L327.0 206.4L327.5 206.4L328.0 206.4L328.5 206.4L329.0 206.3L329.5 206.3L330.0 206.3L330.5 206.3L331.0 206.2L331.5 206.2L332.0 206.2L332.5 206.1L333.0 206.1L333.5 206.1L334.0 206.1L334.5 206.0L335.0 206.0L335.5 205.9L336.0 205.9L336.5 205.9L337.0 205.8L337.5 205.7L338.0 205.7L338.5 205.6L339.0 205.5L339.5 205.5L340.0 205.4L340.5 205.3L341.0 205.3L341.5 205.2L342.0 205.1L342.5 205.0L343.0 205.0L343.5 204.9L344.0 204.8L344.5 204.8L345.0 204.7L345.5 204.6L346.0 204.6L346.5 204.5L347.0 204.5L347.5 204.4L348.0 204.4L348.5 204.3L349.0 204.3L349.5 204.2L350.0 204.2L350.5 204.1L351.0 204.1L351.5 204.0L352.0 204.0L352.5 204.0L353.0 203.9L353.5 203.9L354.0 203.8L354.5 203.8L355.0 203.8L355.5 203.7L356.0 203.7L356.5 203.7L357.0 203.6" fill="none" stroke="#b0b0b0" stroke-width="0.75"/>
<path d="M66.0 187.8L66.5 187.9L67.0 188.0L67.5 188.1L68.0 188.2L68.5 188.3L69.0 188.4L69.5 188.4L70.0 188.5L70.5 188.6L71.0 188.7L71.5 188.7L72.0 188.8L72.5 188.8L73.0 188.9L73.5 188.9L74.0 188.9L74.5 189.0L75.0 189.0L75.5 189.0L76.0 189.0L76.5 189.0L77.0 189.1L77.5 189.1L78.0 189.1L78.5 189.1L79.0 189.1L79.5 189.2L80.0 189.2L80.5 189.2L81.0 189.2L81.5 189.2L82.0 189.2L82.5 189.1L83.0 189.1L83.5 189.0L84.0 188.9L84.5 188.8L85.0 188.8L85.5 188.7L86.0 188.5L86.5 188.4L87.0 188.3L87.5 188.1L88.0 188.0L88.5 187.8L89.0 187.6L89.5 187.4L90.0 187.2L90.5 186.9L91.0 186.6L91.5 186.3L92.0 186.0L92.5 185.6L93.0 185.1L93.5 184.7L94.0 184.1L94.5 183.6L95.0 183.0L95.5 182.4L96.0 181.7L96.5 180.9L97.0 180.1L97.5 179.2L98.0 178.3L98.5 177.3L99.0 176.3L99.5 175.1L100.0 173.9L100.5 172.6L101.0 171.4L101.5 170.1L102.0 168.9L102.5 167.8L103.0 166.6L103.5 165.5L104.0 164.3L104.5 163.0L105.0 161.7L105.5 160.3L106.0 158.7L106.5 157.0L107.0 155.4L107.5 153.9L108.0 152.4L108.5 150.9L109.0 149.1L109.5 147.1L110.0 144.9L110.5 142.5L111.0 139.8L111.5 137.2L112.0 134.8L112.5 132.3L113.0 130.0L113.5 127.8L114.0 126.0L114.5 124.2L115.0 122.8L115.5 121.8L116.0 121.0L116.5 120.2L117.0 119.5L117.5 119.1L118.0 118.9L118.5 118.8L119.0 118.8L119.5 119.0L120.0 119.5L120.5 120.1L121.0 120.8L121.5 121.8L122.0 123.0L122.5 124.1L123.0 125.4L123.5 126.8L124.0 128.2L124.5 129.6L125.0 131.0L125.5 132.4L126.0 133.8L126.5 135.3L127.0 136.7L127.5 138.2L128.0 139.9L128.5 141.9L129.0 144.3L129.5 146.9L130.0 149.2L130.5 151.2L131.0 153.1L131.5 155.0L132.0 156.9L132.5 158.9L133.0 161.1L133.5 163.3L134.0 165.6L134.5 168.1L135.0 170.5L135.5 172.8L136.0 174.7L136.5 176.5L137.0 177.9L137.5 179.3L138.0 180.5L138.5 181.6L139.0 182.7L139.5 183.6L140.0 184.5L140.5 185.4L141.0 186.1L141.5 186.9L142.0 187.6L142.5 188.3L143.0 188.9L143.5 189.5L144.0 190.1L144.5 190.6L145.0 191.1L145.5 191.5L146.0 191.9L146.5 192.3L147.0 192.6L147.5 192.9L148.0 193.2L148.5 193.5L149.0 193.8L149.5 194.0L150.0 194.3L150.5 194.6L151.0 194.9L151.5 195.2L152.0 195.5L152.5 195.7L153.0 196.0L153.5 196.3L154.0 196.5L154.5 196.7L155.0 196.9L155.5 197.1L156.0 197.2L156.5 197.3L157.0 197.5L157.5 197.6L158.0 197.7L158.5 197.8L159.0 197.9L159.5 198.0L160.0 198.1L160.5 198.2L161.0 198.3L161.5 198.4L162.0 198.5L162.5 198.6L163.0 198.7L163.5 198.8L164.0 198.9L164.5 198.9L165.0 199.0L165.5 199.1L166.0 199.1L166.5 199.2L167.0 199.2L167.5 199.3L168.0 199.3L168.5 199.4L169.0 199.4L169.5 199.4L170.0 199.4L170.5 199.4L171.0 199.4L171.5 199.4L172.0 199.4L172.5 199.4L173.0 199.3L173.5 199.3L174.0 199.3L174.5 199.3L175.0 199.3L175.5 199.3L176.0 199.2L176.5 199.2L177.0 199.2L177.5 199.2L178.0 199.2L178.5 199.2L179.0 199.2L179.5 199.2L180.0 199.2L180.5 199.2L181.0 199.3L181.5 199.3L182.0 199.3L182.5 199.3L183.0 199.3L183.5 199.3L184.0 199.4L184.5 199.4L185.0 199.5L185.5 199.5L186.0 199.6L186.5 199.7L187.0 199.7L187.5 199.8L188.0 199.9L188.5 200.0L189.0 200.1L189.5 200.2L190.0 200.3L190.5 200.5L191.0 200.6L191.5 200.7L192.0 200.8L192.5 200.9L193.0 201.1L193.5 201.2L194.0 201.3L194.5 201.4L195.0 201.6L195.5 201.7L196.0 201.8L196.5 201.9L197.0 202.1L197.5 202.2L198.0 202.3L198.5 202.4L199.0 202.5L199.5 202.6L200.0 202.7L200.5 202.8L201.0 202.9L201.5 203.0L202.0 203.1L202.5 203.2L203.0 203.2L203.5 203.3L204.0 203.4L204.5 203.4L205.0 203.4L205.5 203.5L206.0 203.5L206.5 203.5L207.0 203.6L207.5 203.6L208.0 203.6L208.5 203.7L209.0 203.7L209.5 203.7L210.0 203.8L210.5 203.8L211.0 203.8L211.5 203.8L212.0 203.9L212.5 203.9L213.0 203.9L213.5 203.9L214.0 204.0L214.5 204.0L215.0 204.0L215.5 204.0L216.0 204.1L216.5 204.1L217.0 204.1L217.5 204.1L218.0 204.2L218.5 204.2L219.0 204.2L219.5 204.2L220.0 204.3L220.5 204.3L221.0 204.3L221.5 204.4L222.0 204.4L222.5 204.4L223.0 204.4L223.5 204.5L224.0 204.5L224.5 204.5L225.0 204.6L225.5 204.6L226.0 204.6L226.5 204.6L227.0 204.7L227.5 204.7L228.0 204.7L228.5 204.7L229.0 204.8L229.5 204.8L230.0 204.8L230.5 204.8L231.0 204.8L231.5 204.9L232.0 204.9L232.5 204.9L233.0 204.9L233.5 204.9L234.0 204.9L234.5 205.0L235.0 205.0L235.5 205.0L236.0 205.0L236.5 205.0L237.0 205.0L237.5 205.0L238.0 205.0L238.5 205.0L239.0 205.0L239.5 205.0L240.0 205.0L240.5 205.0L241.0 205.0L241.5 205.0L242.0 205.0L242.5 205.0L243.0 205.0L243.5 205.1L244.0 205.1L244.5 205.1L245.0 205.1L245.5 205.1L246.0 205.1L246.5 205.1L247.0 205.1L247.5 205.1L248.0 205.1L248.5 205.1L249.0 205.1L249.5 205.1L250.0 205.1L250.5 205.1L251.0 205.1L251.5 205.1L252.0 205.1L252.5 205.1L253.0 205.1L253.5 205.1L254.0 205.1L254.5 205.1L255.0 205.1L255.5 205.1L256.0 205.1L256.5 205.1L257.0 205.1L257.5 205.1L258.0 205.1L258.5 205.1L259.0 205.1L259.5 205.1L260.0 205.1L260.5 205.1L261.0 205.1L261.5 205.1L262.0 205.1L262.5 205.1L263.0 205.1L263.5 205.1L264.0 205.1L264.5 205.1L265.0 205.1L265.5 205.1L266.0 205.1L266.5 205.1L267.0 205.1L267.5 205.1L268.0 205.1L268.5 205.1L269.0 205.1L269.5 205.1L270.0 205.1L270.5 205.1L271.0 205.1L271.5 205.1L272.0 205.1L272.5 205.1L273.0 205.1L273.5 205.1L274.0 205.1L274.5 205.1L275.0 205.1L275.5 205.1L276.0 205.1L276.5 205.1L277.0 205.1L277.5 205.1L278.0 205.1L278.5 205.1L279.0 205.0L279.5 205.0L280.0 205.0L280.5 205.0L281.0 204.9L281.5 204.9L282.0 204.9L282.5 204.9L283.0 204.8L283.5 204.8L284.0 204.8L284.5 204.7L285.0 204.7L285.5 204.7L286.0 204.7L286.5 204.6L287.0 204.6L287.5 204.6L288.0 204.6L288.5 204.6L289.0 204.6L289.5 204.6L290.0 204.6L290.5 204.6L291.0 204.6L291.5 204.6L292.0 204.7L292.5 204.7L293.0 204.8L293.5 204.8L294.0 204.9L294.5 204.9L295.0 205.0L295.5 205.1L296.0 205.1L296.5 205.2L297.0 205.3L297.5 205.3L298.0 205.4L298.5 205.5L299.0 205.6L299.5 205.7L300.0 205.8L300.5 205.9L301.0 206.0L301.5 206.1L302.0 206.1L302.5 206.2L303.0 206.3L303.5 206.3L304.0 206.3L304.5 206.3L305.0 206.3L305.5 206.3L306.0 206.3L306.5 206.3L307.0 206.3L307.5 206.3L308.0 206.3L308.5 206.3L309.0 206.3L309.5 206.3L310.0 206.3L310.5 206.3L311.0 206.3L311.5 206.3L312.0 206.3L312.5 206.3L313.0 206.3L313.5 206.4L314.0 206.4L314.5 206.4L315.0 206.4L315.5 206.4L316.0 206.4L316.5 206.4L317.0 206.4L317.5 206.4L318.0 206.4L318.5 206.4L319.0 206.4L319.5 206.4L320.0 206.4L320.5 206.4L321.0 206.4L321.5 206.4L322.0 206.4L322.5 206.4L323.0 206.4L323.5 206.4L324.0 206.4L324.5 206.4L325.0 206.4L325.5 206.4L326.0 206.3L326.5 206.3L327.0 206.3L327.5 206.3L328.0 206.3L328.5 206.3L329.0 206.2L329.5 206.2L330.0 206.2L330.5 206.2L331.0 206.1L331.5 206.1L332.0 206.1L332.5 206.1L333.0 206.0L333.5 206.0L334.0 206.0L334.5 205.9L335.0 205.9L335.5 205.9L336.0 205.8L336.5 205.8L337.0 205.7L337.5 205.7L338.0 205.6L338.5 205.5L339.0 205.5L339.5 205.4L340.0 205.3L340.5 205.3L341.0 205.2L341.5 205.1L342.0 205.0L342.5 205.0L343.0 204.9L343.5 204.8L344.0 204.8L344.5 204.7L345.0 204.6L345.5 204.6L346.0 204.5L346.5 204.5L347.0 204.4L347.5 204.4L348.0 204.3L348.5 204.3L349.0 204.2L349.5 204.2L350.0 204.1L350.5 204.1L351.0 204.0L351.5 204.0L352.0 204.0L352.5 203.9L353.0 203.9L353.5 203.8L354.0 203.8L354.5 203.8L355.0 203.7L355.5 203.7L356.0 203.7L356.5 203.6L357.0 203.6" fill="none" stroke="#b8b8b8" stroke-width="0.75"/>
<path d="M66.0 188.2L66.5 188.3L67.0 188.4L67.5 188.5L68.0 188.5L68.5 188.6L69.0 188.7L69.5 188.8L70.0 188.8L70.5 188.9L71.0 189.0L71.5 189.0L72.0 189.1L72.5 189.1L73.0 189.2L73.5 189.2L74.0 189.3L74.5 189.3L75.0 189.3L75.5 189.3L76.0 189.4L76.5 189.4L77.0 189.4L77.5 189.4L78.0 189.5L78.5 189.5L79.0 189.5L79.5 189.5L80.0 189.6L80.5 189.6L81.0 189.6L81.5 189.6L82.0 189.6L82.5 189.6L83.0 189.5L83.5 189.5L84.0 189.4L84.5 189.3L85.0 189.3L85.5 189.2L86.0 189.1L86.5 189.0L87.0 188.9L87.5 188.7L88.0 188.6L88.5 188.4L89.0 188.2L89.5 188.1L90.0 187.9L90.5 187.6L91.0 187.4L91.5 187.1L92.0 186.8L92.5 186.5L93.0 186.0L93.5 185.6L94.0 185.1L94.5 184.6L95.0 184.1L95.5 183.5L96.0 182.8L96.5 182.1L97.0 181.3L97.5 180.5L98.0 179.7L98.5 178.7L99.0 177.7L99.5 176.6L100.0 175.5L100.5 174.2L101.0 173.0L101.5 171.8L102.0 170.6L102.5 169.5L103.0 168.3L103.5 167.2L104.0 166.0L104.5 164.8L105.0 163.5L105.5 162.0L106.0 160.4L106.5 158.7L107.0 157.1L107.5 155.6L108.0 154.2L108.5 152.6L109.0 150.9L109.5 148.8L110.0 146.6L110.5 144.2L111.0 141.6L111.5 139.0L112.0 136.6L112.5 134.2L113.0 131.8L113.5 129.6L114.0 127.7L114.5 126.0L115.0 124.4L115.5 123.3L116.0 122.4L116.5 121.4L117.0 120.6L117.5 120.1L118.0 119.8L118.5 119.6L119.0 119.6L119.5 119.7L120.0 120.0L120.5 120.5L121.0 121.2L121.5 122.0L122.0 123.0L122.5 124.0L123.0 125.2L123.5 126.4L124.0 127.6L124.5 128.8L125.0 130.1L125.5 131.3L126.0 132.6L126.5 133.9L127.0 135.2L127.5 136.6L128.0 138.2L128.5 140.1L129.0 142.4L129.5 144.7L130.0 146.9L130.5 148.8L131.0 150.7L131.5 152.6L132.0 154.5L132.5 156.5L133.0 158.7L133.5 161.0L134.0 163.4L134.5 165.9L135.0 168.4L135.5 170.7L136.0 172.7L136.5 174.5L137.0 176.0L137.5 177.4L138.0 178.6L138.5 179.8L139.0 180.8L139.5 181.8L140.0 182.7L140.5 183.5L141.0 184.3L141.5 185.1L142.0 185.8L142.5 186.5L143.0 187.2L143.5 187.8L144.0 188.4L144.5 188.9L145.0 189.4L145.5 189.9L146.0 190.3L146.5 190.7L147.0 191.0L147.5 191.4L148.0 191.7L148.5 192.0L149.0 192.3L149.5 192.6L150.0 192.9L150.5 193.2L151.0 193.5L151.5 193.7L152.0 194.0L152.5 194.3L153.0 194.6L153.5 194.9L154.0 195.1L154.5 195.4L155.0 195.6L155.5 195.7L156.0 195.9L156.5 196.1L157.0 196.2L157.5 196.3L158.0 196.5L158.5 196.6L159.0 196.7L159.5 196.8L160.0 196.9L160.5 197.0L161.0 197.1L161.5 197.3L162.0 197.4L162.5 197.5L163.0 197.6L163.5 197.7L164.0 197.8L164.5 197.8L165.0 197.9L165.5 198.0L166.0 198.1L166.5 198.2L167.0 198.2L167.5 198.3L168.0 198.3L168.5 198.4L169.0 198.4L169.5 198.5L170.0 198.5L170.5 198.5L171.0 198.5L171.5 198.5L172.0 198.5L172.5 198.6L173.0 198.6L173.5 198.6L174.0 198.6L174.5 198.6L175.0 198.6L175.5 198.6L176.0 198.6L176.5 198.6L177.0 198.6L177.5 198.6L178.0 198.6L178.5 198.6L179.0 198.6L179.5 198.7L180.0 198.7L180.5 198.7L181.0 198.7L181.5 198.8L182.0 198.8L182.5 198.8L183.0 198.8L183.5 198.9L184.0 198.9L184.5 199.0L185.0 199.0L185.5 199.1L186.0 199.2L186.5 199.3L187.0 199.4L187.5 199.5L188.0 199.6L188.5 199.7L189.0 199.8L189.5 199.9L190.0 200.0L190.5 200.1L191.0 200.2L191.5 200.4L192.0 200.5L192.5 200.6L193.0 200.7L193.5 200.9L194.0 201.0L194.5 201.2L195.0 201.3L195.5 201.5L196.0 201.6L196.5 201.8L197.0 201.9L197.5 202.0L198.0 202.2L198.5 202.3L199.0 202.4L199.5 202.5L200.0 202.6L200.5 202.8L201.0 202.9L201.5 203.0L202.0 203.1L202.5 203.2L203.0 203.2L203.5 203.3L204.0 203.4L204.5 203.4L205.0 203.5L205.5 203.5L206.0 203.5L206.5 203.6L207.0 203.6L207.5 203.6L208.0 203.7L208.5 203.7L209.0 203.7L209.5 203.7L210.0 203.8L210.5 203.8L211.0 203.8L211.5 203.8L212.0 203.9L212.5 203.9L213.0 203.9L213.5 203.9L214.0 204.0L214.5 204.0L215.0 204.0L215.5 204.0L216.0 204.0L216.5 204.1L217.0 204.1L217.5 204.1L218.0 204.2L218.5 204.2L219.0 204.2L219.5 204.3L220.0 204.3L220.5 204.3L221.0 204.3L221.5 204.4L222.0 204.4L222.5 204.4L223.0 204.5L223.5 204.5L224.0 204.5L224.5 204.5L225.0 204.6L225.5 204.6L226.0 204.6L226.5 204.7L227.0 204.7L227.5 204.7L228.0 204.7L228.5 204.8L229.0 204.8L229.5 204.8L230.0 204.8L230.5 204.9L231.0 204.9L231.5 204.9L232.0 204.9L232.5 204.9L233.0 204.9L233.5 205.0L234.0 205.0L234.5 205.0L235.0 205.0L235.5 205.0L236.0 205.0L236.5 205.0L237.0 205.0L237.5 205.0L238.0 205.0L238.5 205.0L239.0 205.0L239.5 205.0L240.0 205.0L240.5 205.0L241.0 205.0L241.5 205.0L242.0 205.0L242.5 205.0L243.0 205.0L243.5 205.0L244.0 205.0L244.5 205.0L245.0 205.0L245.5 205.0L246.0 205.1L246.5 205.1L247.0 205.1L247.5 205.1L248.0 205.1L248.5 205.1L249.0 205.1L249.5 205.1L250.0 205.1L250.5 205.1L251.0 205.1L251.5 205.1L252.0 205.1L252.5 205.1L253.0 205.1L253.5 205.1L254.0 205.1L254.5 205.1L255.0 205.1L255.5 205.1L256.0 205.1L256.5 205.1L257.0 205.1L257.5 205.1L258.0 205.0L258.5 205.0L259.0 205.0L259.5 205.0L260.0 205.0L260.5 205.0L261.0 205.0L261.5 205.0L262.0 205.0L262.5 205.0L263.0 205.0L263.5 205.0L264.0 205.0L264.5 205.0L265.0 205.0L265.5 205.0L266.0 205.0L266.5 205.0L267.0 205.0L267.5 205.0L268.0 205.0L268.5 205.0L269.0 205.0L269.5 205.0L270.0 204.9L270.5 204.9L271.0 204.9L271.5 204.9L272.0 204.9L272.5 205.0L273.0 205.0L273.5 205.0L274.0 205.0L274.5 205.0L275.0 205.0L275.5 205.0L276.0 205.0L276.5 204.9L277.0 204.9L277.5 204.9L278.0 204.9L278.5 204.9L279.0 204.9L279.5 204.8L280.0 204.8L280.5 204.8L281.0 204.8L281.5 204.8L282.0 204.7L282.5 204.7L283.0 204.7L283.5 204.7L284.0 204.6L284.5 204.6L285.0 204.6L285.5 204.6L286.0 204.5L286.5 204.5L287.0 204.5L287.5 204.5L288.0 204.5L288.5 204.5L289.0 204.5L289.5 204.5L290.0 204.5L290.5 204.5L291.0 204.5L291.5 204.5L292.0 204.6L292.5 204.6L293.0 204.6L293.5 204.7L294.0 204.8L294.5 204.8L295.0 204.9L295.5 204.9L296.0 205.0L296.5 205.0L297.0 205.1L297.5 205.2L298.0 205.2L298.5 205.3L299.0 205.4L299.5 205.5L300.0 205.6L300.5 205.7L301.0 205.8L301.5 205.9L302.0 206.0L302.5 206.0L303.0 206.1L303.5 206.1L304.0 206.2L304.5 206.2L305.0 206.2L305.5 206.2L306.0 206.2L306.5 206.2L307.0 206.2L307.5 206.2L308.0 206.2L308.5 206.2L309.0 206.2L309.5 206.2L310.0 206.2L310.5 206.2L311.0 206.2L311.5 206.2L312.0 206.2L312.5 206.2L313.0 206.2L313.5 206.2L314.0 206.2L314.5 206.2L315.0 206.2L315.5 206.2L316.0 206.2L316.5 206.2L317.0 206.2L317.5 206.2L318.0 206.2L318.5 206.2L319.0 206.2L319.5 206.2L320.0 206.2L320.5 206.2L321.0 206.3L321.5 206.3L322.0 206.3L322.5 206.3L323.0 206.3L323.5 206.3L324.0 206.2L324.5 206.2L325.0 206.2L325.5 206.2L326.0 206.2L326.5 206.2L327.0 206.2L327.5 206.2L328.0 206.2L328.5 206.1L329.0 206.1L329.5 206.1L330.0 206.1L330.5 206.1L331.0 206.0L331.5 206.0L332.0 206.0L332.5 206.0L333.0 205.9L333.5 205.9L334.0 205.9L334.5 205.9L335.0 205.8L335.5 205.8L336.0 205.7L336.5 205.7L337.0 205.6L337.5 205.6L338.0 205.5L338.5 205.5L339.0 205.4L339.5 205.3L340.0 205.3L340.5 205.2L341.0 205.1L341.5 205.1L342.0 205.0L342.5 204.9L343.0 204.8L343.5 204.8L344.0 204.7L344.5 204.6L345.0 204.6L345.5 204.5L346.0 204.5L346.5 204.4L347.0 204.4L347.5 204.3L348.0 204.3L348.5 204.2L349.0 204.2L349.5 204.1L350.0 204.1L350.5 204.0L351.0 204.0L351.5 204.0L352.0 203.9L352.5 203.9L353.0 203.9L353.5 203.8L354.0 203.8L354.5 203.7L355.0 203.7L355.5 203.7L356.0 203.6L356.5 203.6L357.0 203.6" fill="none" stroke="#bcbcbc" stroke-width="0.75"/>
<path d="M66.0 188.6L66.5 188.7L67.0 188.8L67.5 188.9L68.0 188.9L68.5 189.0L69.0 189.1L69.5 189.2L70.0 189.2L70.5 189.3L71.0 189.3L71.5 189.4L72.0 189.4L72.5 189.5L73.0 189.5L73.5 189.6L74.0 189.6L74.5 189.6L75.0 189.7L75.5 189.7L76.0 189.7L76.5 189.8L77.0 189.8L77.5 189.8L78.0 189.8L78.5 189.9L79.0 189.9L79.5 190.0L80.0 190.0L80.5 190.0L81.0 190.0L81.5 190.1L82.0 190.1L82.5 190.0L83.0 190.0L83.5 190.0L84.0 189.9L84.5 189.9L85.0 189.8L85.5 189.7L86.0 189.7L86.5 189.6L87.0 189.5L87.5 189.4L88.0 189.3L88.5 189.1L89.0 189.0L89.5 188.8L90.0 188.6L90.5 188.5L91.0 188.3L91.5 188.0L92.0 187.8L92.5 187.4L93.0 187.1L93.5 186.6L94.0 186.2L94.5 185.7L95.0 185.2L95.5 184.7L96.0 184.1L96.5 183.4L97.0 182.7L97.5 181.9L98.0 181.1L98.5 180.2L99.0 179.3L99.5 178.3L100.0 177.2L100.5 176.0L101.0 174.9L101.5 173.7L102.0 172.5L102.5 171.4L103.0 170.3L103.5 169.2L104.0 168.0L104.5 166.8L105.0 165.5L105.5 164.0L106.0 162.3L106.5 160.5L107.0 158.9L107.5 157.4L108.0 156.1L108.5 154.6L109.0 152.8L109.5 150.8L110.0 148.6L110.5 146.1L111.0 143.5L111.5 141.0L112.0 138.6L112.5 136.2L113.0 133.8L113.5 131.6L114.0 129.7L114.5 127.9L115.0 126.3L115.5 125.0L116.0 123.9L116.5 122.8L117.0 121.9L117.5 121.2L118.0 120.8L118.5 120.6L119.0 120.4L119.5 120.5L120.0 120.7L120.5 121.1L121.0 121.6L121.5 122.3L122.0 123.1L122.5 123.9L123.0 124.8L123.5 125.9L124.0 126.9L124.5 128.0L125.0 129.0L125.5 130.1L126.0 131.2L126.5 132.4L127.0 133.5L127.5 134.9L128.0 136.4L128.5 138.1L129.0 140.2L129.5 142.4L130.0 144.4L130.5 146.2L131.0 148.0L131.5 149.9L132.0 151.7L132.5 153.8L133.0 156.1L133.5 158.5L134.0 160.9L134.5 163.5L135.0 166.1L135.5 168.4L136.0 170.5L136.5 172.3L137.0 173.9L137.5 175.3L138.0 176.6L138.5 177.7L139.0 178.8L139.5 179.8L140.0 180.7L140.5 181.5L141.0 182.4L141.5 183.1L142.0 183.9L142.5 184.6L143.0 185.3L143.5 185.9L144.0 186.5L144.5 187.1L145.0 187.6L145.5 188.0L146.0 188.5L146.5 188.9L147.0 189.3L147.5 189.6L148.0 190.0L148.5 190.3L149.0 190.6L149.5 190.9L150.0 191.2L150.5 191.5L151.0 191.9L151.5 192.2L152.0 192.5L152.5 192.8L153.0 193.1L153.5 193.4L154.0 193.6L154.5 193.9L155.0 194.1L155.5 194.3L156.0 194.5L156.5 194.6L157.0 194.8L157.5 194.9L158.0 195.1L158.5 195.2L159.0 195.3L159.5 195.5L160.0 195.6L160.5 195.7L161.0 195.8L161.5 195.9L162.0 196.1L162.5 196.2L163.0 196.3L163.5 196.4L164.0 196.5L164.5 196.6L165.0 196.7L165.5 196.8L166.0 196.9L166.5 197.0L167.0 197.1L167.5 197.2L168.0 197.2L168.5 197.3L169.0 197.4L169.5 197.4L170.0 197.5L170.5 197.5L171.0 197.6L171.5 197.6L172.0 197.6L172.5 197.7L173.0 197.7L173.5 197.7L174.0 197.7L174.5 197.7L175.0 197.8L175.5 197.8L176.0 197.8L176.5 197.8L177.0 197.9L177.5 197.9L178.0 197.9L178.5 197.9L179.0 198.0L179.5 198.0L180.0 198.1L180.5 198.1L181.0 198.1L181.5 198.2L182.0 198.2L182.5 198.3L183.0 198.3L183.5 198.4L184.0 198.4L184.5 198.5L185.0 198.6L185.5 198.7L186.0 198.7L186.5 198.8L187.0 198.9L187.5 199.0L188.0 199.1L188.5 199.3L189.0 199.4L189.5 199.5L190.0 199.6L190.5 199.7L191.0 199.9L191.5 200.0L192.0 200.1L192.5 200.3L193.0 200.4L193.5 200.5L194.0 200.7L194.5 200.9L195.0 201.0L195.5 201.2L196.0 201.4L196.5 201.5L197.0 201.7L197.5 201.9L198.0 202.0L198.5 202.2L199.0 202.3L199.5 202.4L200.0 202.6L200.5 202.7L201.0 202.8L201.5 202.9L202.0 203.1L202.5 203.2L203.0 203.3L203.5 203.3L204.0 203.4L204.5 203.4L205.0 203.5L205.5 203.5L206.0 203.5L206.5 203.6L207.0 203.6L207.5 203.6L208.0 203.7L208.5 203.7L209.0 203.7L209.5 203.8L210.0 203.8L210.5 203.8L211.0 203.8L211.5 203.8L212.0 203.9L212.5 203.9L213.0 203.9L213.5 203.9L214.0 204.0L214.5 204.0L215.0 204.0L215.5 204.0L216.0 204.0L216.5 204.1L217.0 204.1L217.5 204.1L218.0 204.2L218.5 204.2L219.0 204.2L219.5 204.3L220.0 204.3L220.5 204.3L221.0 204.4L221.5 204.4L222.0 204.4L222.5 204.5L223.0 204.5L223.5 204.5L224.0 204.5L224.5 204.6L225.0 204.6L225.5 204.6L226.0 204.6L226.5 204.7L227.0 204.7L227.5 204.7L228.0 204.8L228.5 204.8L229.0 204.8L229.5 204.8L230.0 204.9L230.5 204.9L231.0 204.9L231.5 204.9L232.0 205.0L232.5 205.0L233.0 205.0L233.5 205.0L234.0 205.0L234.5 205.0L235.0 205.0L235.5 205.0L236.0 205.0L236.5 205.0L237.0 205.1L237.5 205.1L238.0 205.1L238.5 205.1L239.0 205.0L239.5 205.0L240.0 205.0L240.5 205.0L241.0 205.0L241.5 205.0L242.0 205.0L242.5 205.0L243.0 205.0L243.5 205.0L244.0 205.0L244.5 205.0L245.0 205.0L245.5 205.0L246.0 205.0L246.5 205.0L247.0 205.0L247.5 205.0L248.0 205.0L248.5 205.0L249.0 205.0L249.5 205.0L250.0 205.0L250.5 205.0L251.0 205.0L251.5 205.0L252.0 205.0L252.5 205.0L253.0 205.0L253.5 205.0L254.0 205.0L254.5 205.0L255.0 205.0L255.5 205.0L256.0 205.0L256.5 205.0L257.0 205.0L257.5 205.0L258.0 205.0L258.5 205.0L259.0 205.0L259.5 205.0L260.0 204.9L260.5 204.9L261.0 204.9L261.5 204.9L262.0 204.9L262.5 204.9L263.0 204.9L263.5 204.9L264.0 204.9L264.5 204.9L265.0 204.8L265.5 204.8L266.0 204.8L266.5 204.8L267.0 204.8L267.5 204.8L268.0 204.8L268.5 204.8L269.0 204.8L269.5 204.8L270.0 204.8L270.5 204.8L271.0 204.8L271.5 204.8L272.0 204.8L272.5 204.8L273.0 204.8L273.5 204.8L274.0 204.8L274.5 204.8L275.0 204.8L275.5 204.8L276.0 204.8L276.5 204.7L277.0 204.7L277.5 204.7L278.0 204.7L278.5 204.7L279.0 204.7L279.5 204.7L280.0 204.6L280.5 204.6L281.0 204.6L281.5 204.6L282.0 204.6L282.5 204.5L283.0 204.5L283.5 204.5L284.0 204.5L284.5 204.5L285.0 204.4L285.5 204.4L286.0 204.4L286.5 204.4L287.0 204.4L287.5 204.4L288.0 204.4L288.5 204.4L289.0 204.3L289.5 204.3L290.0 204.3L290.5 204.4L291.0 204.4L291.5 204.4L292.0 204.4L292.5 204.5L293.0 204.5L293.5 204.6L294.0 204.6L294.5 204.7L295.0 204.7L295.5 204.8L296.0 204.8L296.5 204.9L297.0 204.9L297.5 205.0L298.0 205.1L298.5 205.2L299.0 205.2L299.5 205.3L300.0 205.4L300.5 205.5L301.0 205.6L301.5 205.7L302.0 205.8L302.5 205.8L303.0 205.9L303.5 205.9L304.0 206.0L304.5 206.0L305.0 206.0L305.5 206.0L306.0 206.0L306.5 206.0L307.0 206.0L307.5 206.0L308.0 206.0L308.5 206.0L309.0 206.0L309.5 206.0L310.0 206.0L310.5 206.0L311.0 206.0L311.5 206.0L312.0 206.0L312.5 206.0L313.0 206.0L313.5 206.0L314.0 206.0L314.5 206.0L315.0 206.0L315.5 206.0L316.0 206.0L316.5 206.0L317.0 206.0L317.5 206.0L318.0 206.0L318.5 206.0L319.0 206.0L319.5 206.1L320.0 206.1L320.5 206.1L321.0 206.1L321.5 206.1L322.0 206.1L322.5 206.1L323.0 206.1L323.5 206.1L324.0 206.1L324.5 206.1L325.0 206.1L325.5 206.1L326.0 206.1L326.5 206.1L327.0 206.1L327.5 206.0L328.0 206.0L328.5 206.0L329.0 206.0L329.5 206.0L330.0 206.0L330.5 205.9L331.0 205.9L331.5 205.9L332.0 205.9L332.5 205.9L333.0 205.8L333.5 205.8L334.0 205.8L334.5 205.8L335.0 205.7L335.5 205.7L336.0 205.6L336.5 205.6L337.0 205.5L337.5 205.5L338.0 205.4L338.5 205.4L339.0 205.3L339.5 205.2L340.0 205.2L340.5 205.1L341.0 205.0L341.5 205.0L342.0 204.9L342.5 204.8L343.0 204.8L343.5 204.7L344.0 204.6L344.5 204.6L345.0 204.5L345.5 204.5L346.0 204.4L346.5 204.4L347.0 204.3L347.5 204.3L348.0 204.2L348.5 204.2L349.0 204.1L349.5 204.1L350.0 204.0L350.5 204.0L351.0 204.0L351.5 203.9L352.0 203.9L352.5 203.8L353.0 203.8L353.5 203.8L354.0 203.7L354.5 203.7L355.0 203.7L355.5 203.6L356.0 203.6L356.5 203.6L357.0 203.6" fill="none" stroke="#c0c0c0" stroke-width="0.75"/>
<path d="M66.0 189.2L66.5 189.3L67.0 189.3L67.5 189.4L68.0 189.5L68.5 189.5L69.0 189.6L69.5 189.6L70.0 189.7L70.5 189.8L71.0 189.8L71.5 189.9L72.0 189.9L72.5 190.0L73.0 190.0L73.5 190.0L74.0 190.1L74.5 190.1L75.0 190.1L75.5 190.2L76.0 190.2L76.5 190.2L77.0 190.3L77.5 190.3L78.0 190.4L78.5 190.4L79.0 190.4L79.5 190.5L80.0 190.5L80.5 190.6L81.0 190.6L81.5 190.6L82.0 190.6L82.5 190.7L83.0 190.6L83.5 190.6L84.0 190.6L84.5 190.6L85.0 190.5L85.5 190.5L86.0 190.4L86.5 190.4L87.0 190.3L87.5 190.2L88.0 190.1L88.5 190.0L89.0 189.9L89.5 189.8L90.0 189.7L90.5 189.5L91.0 189.4L91.5 189.2L92.0 189.0L92.5 188.7L93.0 188.4L93.5 188.0L94.0 187.6L94.5 187.2L95.0 186.7L95.5 186.2L96.0 185.7L96.5 185.1L97.0 184.4L97.5 183.8L98.0 183.0L98.5 182.2L99.0 181.4L99.5 180.5L100.0 179.5L100.5 178.4L101.0 177.2L101.5 176.1L102.0 175.0L102.5 173.8L103.0 172.8L103.5 171.7L104.0 170.6L104.5 169.4L105.0 168.1L105.5 166.5L106.0 164.8L106.5 162.9L107.0 161.2L107.5 159.8L108.0 158.5L108.5 157.1L109.0 155.4L109.5 153.4L110.0 151.1L110.5 148.6L111.0 146.1L111.5 143.6L112.0 141.2L112.5 138.8L113.0 136.4L113.5 134.2L114.0 132.3L114.5 130.4L115.0 128.7L115.5 127.3L116.0 126.0L116.5 124.6L117.0 123.5L117.5 122.7L118.0 122.2L118.5 121.8L119.0 121.5L119.5 121.4L120.0 121.5L120.5 121.8L121.0 122.1L121.5 122.6L122.0 123.1L122.5 123.7L123.0 124.4L123.5 125.2L124.0 126.0L124.5 126.8L125.0 127.7L125.5 128.5L126.0 129.4L126.5 130.4L127.0 131.4L127.5 132.6L128.0 133.9L128.5 135.5L129.0 137.3L129.5 139.2L130.0 141.1L130.5 142.8L131.0 144.5L131.5 146.3L132.0 148.2L132.5 150.4L133.0 152.7L133.5 155.2L134.0 157.7L134.5 160.4L135.0 163.1L135.5 165.5L136.0 167.6L136.5 169.4L137.0 171.1L137.5 172.5L138.0 173.8L138.5 175.0L139.0 176.1L139.5 177.1L140.0 178.1L140.5 178.9L141.0 179.8L141.5 180.6L142.0 181.3L142.5 182.1L143.0 182.8L143.5 183.4L144.0 184.1L144.5 184.6L145.0 185.2L145.5 185.7L146.0 186.1L146.5 186.6L147.0 187.0L147.5 187.4L148.0 187.7L148.5 188.1L149.0 188.4L149.5 188.8L150.0 189.1L150.5 189.4L151.0 189.8L151.5 190.1L152.0 190.4L152.5 190.8L153.0 191.1L153.5 191.4L154.0 191.6L154.5 191.9L155.0 192.2L155.5 192.4L156.0 192.6L156.5 192.8L157.0 192.9L157.5 193.1L158.0 193.3L158.5 193.4L159.0 193.6L159.5 193.7L160.0 193.8L160.5 194.0L161.0 194.1L161.5 194.3L162.0 194.4L162.5 194.5L163.0 194.7L163.5 194.8L164.0 194.9L164.5 195.0L165.0 195.2L165.5 195.3L166.0 195.4L166.5 195.5L167.0 195.6L167.5 195.7L168.0 195.8L168.5 195.9L169.0 196.0L169.5 196.1L170.0 196.2L170.5 196.2L171.0 196.3L171.5 196.4L172.0 196.4L172.5 196.5L173.0 196.5L173.5 196.6L174.0 196.6L174.5 196.7L175.0 196.7L175.5 196.8L176.0 196.8L176.5 196.9L177.0 196.9L177.5 197.0L178.0 197.0L178.5 197.1L179.0 197.1L179.5 197.2L180.0 197.2L180.5 197.3L181.0 197.4L181.5 197.4L182.0 197.5L182.5 197.6L183.0 197.6L183.5 197.7L184.0 197.8L184.5 197.9L185.0 198.0L185.5 198.1L186.0 198.2L186.5 198.3L187.0 198.4L187.5 198.5L188.0 198.6L188.5 198.7L189.0 198.9L189.5 199.0L190.0 199.1L190.5 199.2L191.0 199.4L191.5 199.5L192.0 199.6L192.5 199.8L193.0 199.9L193.5 200.1L194.0 200.3L194.5 200.5L195.0 200.7L195.5 200.9L196.0 201.1L196.5 201.3L197.0 201.5L197.5 201.6L198.0 201.8L198.5 202.0L199.0 202.2L199.5 202.3L200.0 202.5L200.5 202.6L201.0 202.8L201.5 202.9L202.0 203.0L202.5 203.2L203.0 203.3L203.5 203.4L204.0 203.4L204.5 203.5L205.0 203.5L205.5 203.5L206.0 203.6L206.5 203.6L207.0 203.6L207.5 203.7L208.0 203.7L208.5 203.7L209.0 203.7L209.5 203.8L210.0 203.8L210.5 203.8L211.0 203.8L211.5 203.9L212.0 203.9L212.5 203.9L213.0 203.9L213.5 203.9L214.0 204.0L214.5 204.0L215.0 204.0L215.5 204.0L216.0 204.0L216.5 204.1L217.0 204.1L217.5 204.1L218.0 204.2L218.5 204.2L219.0 204.2L219.5 204.3L220.0 204.3L220.5 204.3L221.0 204.4L221.5 204.4L222.0 204.4L222.5 204.5L223.0 204.5L223.5 204.5L224.0 204.6L224.5 204.6L225.0 204.6L225.5 204.7L226.0 204.7L226.5 204.7L227.0 204.7L227.5 204.8L228.0 204.8L228.5 204.8L229.0 204.9L229.5 204.9L230.0 204.9L230.5 204.9L231.0 205.0L231.5 205.0L232.0 205.0L232.5 205.0L233.0 205.0L233.5 205.1L234.0 205.1L234.5 205.1L235.0 205.1L235.5 205.1L236.0 205.1L236.5 205.1L237.0 205.1L237.5 205.1L238.0 205.1L238.5 205.1L239.0 205.1L239.5 205.1L240.0 205.1L240.5 205.1L241.0 205.0L241.5 205.0L242.0 205.0L242.5 205.0L243.0 205.0L243.5 205.0L244.0 205.0L244.5 205.0L245.0 205.0L245.5 205.0L246.0 205.0L246.5 205.0L247.0 205.0L247.5 205.0L248.0 205.0L248.5 205.0L249.0 205.0L249.5 205.0L250.0 205.0L250.5 205.0L251.0 205.0L251.5 205.0L252.0 205.0L252.5 205.0L253.0 205.0L253.5 205.0L254.0 204.9L254.5 204.9L255.0 204.9L255.5 204.9L256.0 204.9L256.5 204.9L257.0 204.9L257.5 204.9L258.0 204.9L258.5 204.9L259.0 204.9L259.5 204.8L260.0 204.8L260.5 204.8L261.0 204.8L261.5 204.8L262.0 204.8L262.5 204.8L263.0 204.7L263.5 204.7L264.0 204.7L264.5 204.7L265.0 204.7L265.5 204.7L266.0 204.7L266.5 204.7L267.0 204.6L267.5 204.6L268.0 204.6L268.5 204.6L269.0 204.6L269.5 204.6L270.0 204.5L270.5 204.5L271.0 204.5L271.5 204.5L272.0 204.5L272.5 204.5L273.0 204.5L273.5 204.5L274.0 204.5L274.5 204.5L275.0 204.5L275.5 204.5L276.0 204.5L276.5 204.5L277.0 204.5L277.5 204.5L278.0 204.5L278.5 204.4L279.0 204.4L279.5 204.4L280.0 204.4L280.5 204.4L281.0 204.4L281.5 204.4L282.0 204.3L282.5 204.3L283.0 204.3L283.5 204.3L284.0 204.3L284.5 204.3L285.0 204.3L285.5 204.2L286.0 204.2L286.5 204.2L287.0 204.2L287.5 204.2L288.0 204.2L288.5 204.2L289.0 204.2L289.5 204.2L290.0 204.2L290.5 204.2L291.0 204.2L291.5 204.2L292.0 204.3L292.5 204.3L293.0 204.3L293.5 204.4L294.0 204.4L294.5 204.5L295.0 204.5L295.5 204.6L296.0 204.6L296.5 204.7L297.0 204.7L297.5 204.8L298.0 204.9L298.5 204.9L299.0 205.0L299.5 205.1L300.0 205.2L300.5 205.3L301.0 205.4L301.5 205.5L302.0 205.5L302.5 205.6L303.0 205.6L303.5 205.7L304.0 205.7L304.5 205.7L305.0 205.7L305.5 205.7L306.0 205.7L306.5 205.7L307.0 205.7L307.5 205.7L308.0 205.7L308.5 205.7L309.0 205.7L309.5 205.7L310.0 205.7L310.5 205.7L311.0 205.7L311.5 205.7L312.0 205.7L312.5 205.7L313.0 205.7L313.5 205.7L314.0 205.7L314.5 205.7L315.0 205.7L315.5 205.7L316.0 205.8L316.5 205.8L317.0 205.8L317.5 205.8L318.0 205.8L318.5 205.8L319.0 205.8L319.5 205.8L320.0 205.8L320.5 205.8L321.0 205.8L321.5 205.9L322.0 205.9L322.5 205.9L323.0 205.9L323.5 205.9L324.0 205.9L324.5 205.9L325.0 205.9L325.5 205.9L326.0 205.9L326.5 205.9L327.0 205.9L327.5 205.9L328.0 205.9L328.5 205.8L329.0 205.8L329.5 205.8L330.0 205.8L330.5 205.8L331.0 205.8L331.5 205.7L332.0 205.7L332.5 205.7L333.0 205.7L333.5 205.7L334.0 205.6L334.5 205.6L335.0 205.6L335.5 205.6L336.0 205.5L336.5 205.5L337.0 205.4L337.5 205.4L338.0 205.3L338.5 205.3L339.0 205.2L339.5 205.1L340.0 205.1L340.5 205.0L341.0 204.9L341.5 204.9L342.0 204.8L342.5 204.7L343.0 204.7L343.5 204.6L344.0 204.6L344.5 204.5L345.0 204.4L345.5 204.4L346.0 204.3L346.5 204.3L347.0 204.2L347.5 204.2L348.0 204.1L348.5 204.1L349.0 204.1L349.5 204.0L350.0 204.0L350.5 203.9L351.0 203.9L351.5 203.9L352.0 203.8L352.5 203.8L353.0 203.8L353.5 203.7L354.0 203.7L354.5 203.7L355.0 203.6L355.5 203.6L356.0 203.6L356.5 203.5L357.0 203.5" fill="none" stroke="#c4c4c4" stroke-width="0.75"/>
<path d="M66.0 189.8L66.5 189.9L67.0 189.9L67.5 190.0L68.0 190.0L68.5 190.1L69.0 190.2L69.5 190.2L70.0 190.3L70.5 190.3L71.0 190.3L71.5 190.4L72.0 190.4L72.5 190.5L73.0 190.5L73.5 190.6L74.0 190.6L74.5 190.6L75.0 190.7L75.5 190.7L76.0 190.8L76.5 190.8L77.0 190.9L77.5 190.9L78.0 191.0L78.5 191.0L79.0 191.1L79.5 191.1L80.0 191.2L80.5 191.2L81.0 191.3L81.5 191.3L82.0 191.3L82.5 191.4L83.0 191.4L83.5 191.4L84.0 191.4L84.5 191.4L85.0 191.4L85.5 191.3L86.0 191.3L86.5 191.3L87.0 191.2L87.5 191.2L88.0 191.1L88.5 191.1L89.0 191.0L89.5 190.9L90.0 190.8L90.5 190.7L91.0 190.6L91.5 190.5L92.0 190.4L92.5 190.1L93.0 189.9L93.5 189.6L94.0 189.2L94.5 188.8L95.0 188.5L95.5 188.0L96.0 187.6L96.5 187.0L97.0 186.5L97.5 185.9L98.0 185.2L98.5 184.5L99.0 183.8L99.5 183.0L100.0 182.1L100.5 181.1L101.0 180.0L101.5 178.9L102.0 177.8L102.5 176.7L103.0 175.6L103.5 174.6L104.0 173.5L104.5 172.3L105.0 171.0L105.5 169.5L106.0 167.6L106.5 165.7L107.0 164.0L107.5 162.6L108.0 161.4L108.5 160.1L109.0 158.4L109.5 156.3L110.0 154.0L110.5 151.5L111.0 149.0L111.5 146.5L112.0 144.2L112.5 141.8L113.0 139.5L113.5 137.2L114.0 135.2L114.5 133.3L115.0 131.4L115.5 129.8L116.0 128.3L116.5 126.7L117.0 125.4L117.5 124.4L118.0 123.8L118.5 123.2L119.0 122.8L119.5 122.6L120.0 122.5L120.5 122.6L121.0 122.7L121.5 122.9L122.0 123.2L122.5 123.6L123.0 124.0L123.5 124.5L124.0 125.0L124.5 125.5L125.0 126.1L125.5 126.7L126.0 127.4L126.5 128.1L127.0 128.9L127.5 129.9L128.0 131.1L128.5 132.5L129.0 134.1L129.5 135.7L130.0 137.3L130.5 138.8L131.0 140.5L131.5 142.2L132.0 144.1L132.5 146.4L133.0 148.8L133.5 151.4L134.0 154.0L134.5 156.8L135.0 159.6L135.5 162.1L136.0 164.2L136.5 166.1L137.0 167.8L137.5 169.4L138.0 170.7L138.5 171.9L139.0 173.0L139.5 174.1L140.0 175.0L140.5 175.9L141.0 176.8L141.5 177.6L142.0 178.4L142.5 179.2L143.0 179.9L143.5 180.6L144.0 181.2L144.5 181.8L145.0 182.4L145.5 182.9L146.0 183.4L146.5 183.9L147.0 184.3L147.5 184.8L148.0 185.2L148.5 185.6L149.0 185.9L149.5 186.3L150.0 186.7L150.5 187.0L151.0 187.4L151.5 187.7L152.0 188.1L152.5 188.4L153.0 188.8L153.5 189.1L154.0 189.4L154.5 189.7L155.0 189.9L155.5 190.2L156.0 190.4L156.5 190.6L157.0 190.8L157.5 191.0L158.0 191.2L158.5 191.3L159.0 191.5L159.5 191.7L160.0 191.8L160.5 192.0L161.0 192.1L161.5 192.3L162.0 192.5L162.5 192.6L163.0 192.8L163.5 192.9L164.0 193.1L164.5 193.2L165.0 193.4L165.5 193.5L166.0 193.6L166.5 193.8L167.0 193.9L167.5 194.0L168.0 194.2L168.5 194.3L169.0 194.4L169.5 194.5L170.0 194.6L170.5 194.7L171.0 194.8L171.5 194.9L172.0 195.0L172.5 195.1L173.0 195.2L173.5 195.3L174.0 195.4L174.5 195.5L175.0 195.5L175.5 195.6L176.0 195.7L176.5 195.8L177.0 195.8L177.5 195.9L178.0 196.0L178.5 196.1L179.0 196.2L179.5 196.2L180.0 196.3L180.5 196.4L181.0 196.5L181.5 196.6L182.0 196.7L182.5 196.8L183.0 196.9L183.5 197.0L184.0 197.1L184.5 197.2L185.0 197.3L185.5 197.4L186.0 197.5L186.5 197.6L187.0 197.8L187.5 197.9L188.0 198.0L188.5 198.1L189.0 198.3L189.5 198.4L190.0 198.5L190.5 198.7L191.0 198.8L191.5 198.9L192.0 199.1L192.5 199.2L193.0 199.4L193.5 199.6L194.0 199.8L194.5 200.0L195.0 200.2L195.5 200.5L196.0 200.7L196.5 200.9L197.0 201.2L197.5 201.4L198.0 201.6L198.5 201.8L199.0 202.0L199.5 202.2L200.0 202.3L200.5 202.5L201.0 202.7L201.5 202.9L202.0 203.0L202.5 203.1L203.0 203.3L203.5 203.4L204.0 203.4L204.5 203.5L205.0 203.5L205.5 203.6L206.0 203.6L206.5 203.6L207.0 203.7L207.5 203.7L208.0 203.7L208.5 203.7L209.0 203.8L209.5 203.8L210.0 203.8L210.5 203.8L211.0 203.8L211.5 203.9L212.0 203.9L212.5 203.9L213.0 203.9L213.5 203.9L214.0 204.0L214.5 204.0L215.0 204.0L215.5 204.0L216.0 204.0L216.5 204.1L217.0 204.1L217.5 204.1L218.0 204.2L218.5 204.2L219.0 204.2L219.5 204.3L220.0 204.3L220.5 204.3L221.0 204.4L221.5 204.4L222.0 204.5L222.5 204.5L223.0 204.5L223.5 204.6L224.0 204.6L224.5 204.6L225.0 204.7L225.5 204.7L226.0 204.7L226.5 204.8L227.0 204.8L227.5 204.8L228.0 204.8L228.5 204.9L229.0 204.9L229.5 204.9L230.0 205.0L230.5 205.0L231.0 205.0L231.5 205.0L232.0 205.1L232.5 205.1L233.0 205.1L233.5 205.1L234.0 205.1L234.5 205.1L235.0 205.1L235.5 205.1L236.0 205.1L236.5 205.1L237.0 205.1L237.5 205.1L238.0 205.1L238.5 205.1L239.0 205.1L239.5 205.1L240.0 205.1L240.5 205.1L241.0 205.0L241.5 205.0L242.0 205.0L242.5 205.0L243.0 205.0L243.5 205.0L244.0 205.0L244.5 205.0L245.0 205.0L245.5 205.0L246.0 205.0L246.5 205.0L247.0 205.0L247.5 205.0L248.0 205.0L248.5 204.9L249.0 204.9L249.5 204.9L250.0 204.9L250.5 204.9L251.0 204.9L251.5 204.9L252.0 204.9L252.5 204.9L253.0 204.9L253.5 204.9L254.0 204.9L254.5 204.9L255.0 204.9L255.5 204.8L256.0 204.8L256.5 204.8L257.0 204.8L257.5 204.8L258.0 204.8L258.5 204.8L259.0 204.7L259.5 204.7L260.0 204.7L260.5 204.7L261.0 204.7L261.5 204.6L262.0 204.6L262.5 204.6L263.0 204.6L263.5 204.5L264.0 204.5L264.5 204.5L265.0 204.5L265.5 204.5L266.0 204.5L266.5 204.4L267.0 204.4L267.5 204.4L268.0 204.4L268.5 204.4L269.0 204.3L269.5 204.3L270.0 204.3L270.5 204.3L271.0 204.3L271.5 204.2L272.0 204.2L272.5 204.2L273.0 204.2L273.5 204.2L274.0 204.2L274.5 204.2L275.0 204.2L275.5 204.2L276.0 204.2L276.5 204.2L277.0 204.2L277.5 204.2L278.0 204.2L278.5 204.2L279.0 204.2L279.5 204.1L280.0 204.1L280.5 204.1L281.0 204.1L281.5 204.1L282.0 204.1L282.5 204.1L283.0 204.1L283.5 204.1L284.0 204.1L284.5 204.0L285.0 204.0L285.5 204.0L286.0 204.0L286.5 204.0L287.0 204.0L287.5 204.0L288.0 204.0L288.5 204.0L289.0 204.0L289.5 204.0L290.0 204.0L290.5 204.0L291.0 204.0L291.5 204.0L292.0 204.1L292.5 204.1L293.0 204.1L293.5 204.2L294.0 204.2L294.5 204.2L295.0 204.3L295.5 204.3L296.0 204.4L296.5 204.4L297.0 204.5L297.5 204.5L298.0 204.6L298.5 204.7L299.0 204.8L299.5 204.8L300.0 204.9L300.5 205.0L301.0 205.1L301.5 205.2L302.0 205.2L302.5 205.3L303.0 205.4L303.5 205.4L304.0 205.4L304.5 205.4L305.0 205.4L305.5 205.4L306.0 205.4L306.5 205.4L307.0 205.4L307.5 205.4L308.0 205.4L308.5 205.4L309.0 205.4L309.5 205.4L310.0 205.4L310.5 205.4L311.0 205.4L311.5 205.4L312.0 205.4L312.5 205.4L313.0 205.4L313.5 205.4L314.0 205.4L314.5 205.4L315.0 205.4L315.5 205.5L316.0 205.5L316.5 205.5L317.0 205.5L317.5 205.5L318.0 205.5L318.5 205.5L319.0 205.5L319.5 205.5L320.0 205.6L320.5 205.6L321.0 205.6L321.5 205.6L322.0 205.6L322.5 205.6L323.0 205.6L323.5 205.7L324.0 205.7L324.5 205.7L325.0 205.7L325.5 205.7L326.0 205.7L326.5 205.7L327.0 205.7L327.5 205.7L328.0 205.7L328.5 205.7L329.0 205.6L329.5 205.6L330.0 205.6L330.5 205.6L331.0 205.6L331.5 205.6L332.0 205.6L332.5 205.5L333.0 205.5L333.5 205.5L334.0 205.5L334.5 205.5L335.0 205.4L335.5 205.4L336.0 205.4L336.5 205.3L337.0 205.3L337.5 205.2L338.0 205.2L338.5 205.1L339.0 205.1L339.5 205.0L340.0 205.0L340.5 204.9L341.0 204.8L341.5 204.8L342.0 204.7L342.5 204.6L343.0 204.6L343.5 204.5L344.0 204.5L344.5 204.4L345.0 204.3L345.5 204.3L346.0 204.2L346.5 204.2L347.0 204.1L347.5 204.1L348.0 204.1L348.5 204.0L349.0 204.0L349.5 203.9L350.0 203.9L350.5 203.9L351.0 203.8L351.5 203.8L352.0 203.8L352.5 203.7L353.0 203.7L353.5 203.7L354.0 203.6L354.5 203.6L355.0 203.6L355.5 203.6L356.0 203.5L356.5 203.5L357.0 203.5" fill="none" stroke="#c8c8c8" stroke-width="0.75"/>
<path d="M66.0 189.5L66.5 189.5L67.0 189.6L67.5 189.6L68.0 189.7L68.5 189.8L69.0 189.8L69.5 189.9L70.0 189.9L70.5 190.0L71.0 190.1L71.5 190.1L72.0 190.2L72.5 190.2L73.0 190.3L73.5 190.4L74.0 190.4L74.5 190.5L75.0 190.5L75.5 190.6L76.0 190.7L76.5 190.7L77.0 190.8L77.5 190.9L78.0 191.0L78.5 191.1L79.0 191.1L79.5 191.2L80.0 191.3L80.5 191.4L81.0 191.5L81.5 191.5L82.0 191.6L82.5 191.7L83.0 191.7L83.5 191.8L84.0 191.8L84.5 191.9L85.0 191.9L85.5 191.9L86.0 191.9L86.5 191.9L87.0 191.9L87.5 191.9L88.0 191.9L88.5 191.9L89.0 191.9L89.5 191.9L90.0 191.9L90.5 191.9L91.0 191.9L91.5 191.9L92.0 191.8L92.5 191.7L93.0 191.5L93.5 191.3L94.0 191.1L94.5 190.8L95.0 190.6L95.5 190.2L96.0 189.9L96.5 189.5L97.0 189.1L97.5 188.7L98.0 188.2L98.5 187.7L99.0 187.1L99.5 186.6L100.0 185.9L100.5 185.1L101.0 184.2L101.5 183.3L102.0 182.4L102.5 181.4L103.0 180.5L103.5 179.5L104.0 178.5L104.5 177.4L105.0 176.2L105.5 174.8L106.0 173.1L106.5 171.4L107.0 169.8L107.5 168.5L108.0 167.5L108.5 166.3L109.0 164.7L109.5 162.9L110.0 160.8L110.5 158.6L111.0 156.4L111.5 154.2L112.0 152.0L112.5 149.6L113.0 147.2L113.5 144.8L114.0 142.6L114.5 140.5L115.0 138.6L115.5 136.8L116.0 135.1L116.5 133.4L117.0 131.8L117.5 130.4L118.0 129.1L118.5 127.8L119.0 126.5L119.5 125.4L120.0 124.5L120.5 123.8L121.0 123.1L121.5 122.1L122.0 120.7L122.5 119.0L123.0 116.8L123.5 114.6L124.0 112.7L124.5 110.9L125.0 109.2L125.5 107.7L126.0 106.1L126.5 104.9L127.0 104.5L127.5 104.4L128.0 104.6L128.5 105.4L129.0 106.4L129.5 107.8L130.0 109.4L130.5 111.1L131.0 113.6L131.5 116.5L132.0 119.8L132.5 124.1L133.0 128.7L133.5 132.7L134.0 136.3L134.5 139.9L135.0 143.5L135.5 146.8L136.0 150.1L136.5 153.4L137.0 156.6L137.5 159.6L138.0 162.4L138.5 165.4L139.0 167.5L139.5 168.9L140.0 170.1L140.5 171.3L141.0 172.5L141.5 173.7L142.0 174.7L142.5 175.7L143.0 176.7L143.5 177.6L144.0 178.4L144.5 179.2L145.0 179.8L145.5 180.5L146.0 181.1L146.5 181.6L147.0 182.2L147.5 182.7L148.0 183.2L148.5 183.7L149.0 184.2L149.5 184.6L150.0 185.0L150.5 185.4L151.0 185.8L151.5 186.1L152.0 186.5L152.5 186.8L153.0 187.2L153.5 187.5L154.0 187.8L154.5 188.1L155.0 188.4L155.5 188.6L156.0 188.9L156.5 189.1L157.0 189.3L157.5 189.5L158.0 189.7L158.5 189.9L159.0 190.1L159.5 190.3L160.0 190.4L160.5 190.6L161.0 190.8L161.5 191.0L162.0 191.2L162.5 191.3L163.0 191.5L163.5 191.7L164.0 191.9L164.5 192.0L165.0 192.2L165.5 192.4L166.0 192.5L166.5 192.7L167.0 192.9L167.5 193.0L168.0 193.2L168.5 193.3L169.0 193.5L169.5 193.6L170.0 193.8L170.5 193.9L171.0 194.1L171.5 194.2L172.0 194.3L172.5 194.4L173.0 194.6L173.5 194.7L174.0 194.8L174.5 194.9L175.0 195.0L175.5 195.1L176.0 195.2L176.5 195.3L177.0 195.4L177.5 195.5L178.0 195.6L178.5 195.7L179.0 195.8L179.5 195.9L180.0 196.0L180.5 196.1L181.0 196.2L181.5 196.3L182.0 196.4L182.5 196.5L183.0 196.6L183.5 196.7L184.0 196.8L184.5 197.0L185.0 197.1L185.5 197.2L186.0 197.3L186.5 197.4L187.0 197.5L187.5 197.6L188.0 197.7L188.5 197.8L189.0 198.0L189.5 198.1L190.0 198.2L190.5 198.3L191.0 198.4L191.5 198.6L192.0 198.7L192.5 198.9L193.0 199.0L193.5 199.2L194.0 199.4L194.5 199.6L195.0 199.9L195.5 200.1L196.0 200.3L196.5 200.6L197.0 200.8L197.5 201.0L198.0 201.2L198.5 201.4L199.0 201.6L199.5 201.8L200.0 201.9L200.5 202.1L201.0 202.3L201.5 202.4L202.0 202.6L202.5 202.7L203.0 202.8L203.5 202.9L204.0 203.0L204.5 203.0L205.0 203.0L205.5 203.1L206.0 203.1L206.5 203.1L207.0 203.2L207.5 203.2L208.0 203.2L208.5 203.2L209.0 203.3L209.5 203.3L210.0 203.3L210.5 203.3L211.0 203.3L211.5 203.4L212.0 203.4L212.5 203.4L213.0 203.4L213.5 203.4L214.0 203.4L214.5 203.5L215.0 203.5L215.5 203.5L216.0 203.5L216.5 203.6L217.0 203.6L217.5 203.6L218.0 203.6L218.5 203.7L219.0 203.7L219.5 203.8L220.0 203.8L220.5 203.8L221.0 203.9L221.5 203.9L222.0 203.9L222.5 204.0L223.0 204.0L223.5 204.0L224.0 204.1L224.5 204.1L225.0 204.1L225.5 204.1L226.0 204.2L226.5 204.2L227.0 204.2L227.5 204.3L228.0 204.3L228.5 204.3L229.0 204.4L229.5 204.4L230.0 204.4L230.5 204.4L231.0 204.4L231.5 204.4L232.0 204.5L232.5 204.5L233.0 204.5L233.5 204.4L234.0 204.4L234.5 204.4L235.0 204.4L235.5 204.4L236.0 204.4L236.5 204.3L237.0 204.3L237.5 204.3L238.0 204.3L238.5 204.2L239.0 204.2L239.5 204.2L240.0 204.1L240.5 204.1L241.0 204.1L241.5 204.0L242.0 204.0L242.5 204.0L243.0 203.9L243.5 203.9L244.0 203.9L244.5 203.8L245.0 203.8L245.5 203.8L246.0 203.8L246.5 203.8L247.0 203.8L247.5 203.8L248.0 203.8L248.5 203.8L249.0 203.8L249.5 203.8L250.0 203.8L250.5 203.8L251.0 203.8L251.5 203.8L252.0 203.8L252.5 203.8L253.0 203.8L253.5 203.8L254.0 203.8L254.5 203.8L255.0 203.8L255.5 203.8L256.0 203.8L256.5 203.8L257.0 203.7L257.5 203.7L258.0 203.7L258.5 203.6L259.0 203.6L259.5 203.6L260.0 203.5L260.5 203.5L261.0 203.4L261.5 203.4L262.0 203.3L262.5 203.3L263.0 203.2L263.5 203.2L264.0 203.1L264.5 203.0L265.0 203.0L265.5 202.9L266.0 202.8L266.5 202.7L267.0 202.6L267.5 202.4L268.0 202.3L268.5 202.2L269.0 202.0L269.5 201.8L270.0 201.6L270.5 201.4L271.0 201.2L271.5 201.0L272.0 200.8L272.5 200.6L273.0 200.4L273.5 200.2L274.0 200.0L274.5 199.8L275.0 199.6L275.5 199.4L276.0 199.1L276.5 198.9L277.0 198.7L277.5 198.5L278.0 198.3L278.5 198.1L279.0 197.9L279.5 197.7L280.0 197.4L280.5 197.2L281.0 197.1L281.5 196.9L282.0 196.7L282.5 196.6L283.0 196.4L283.5 196.3L284.0 196.1L284.5 196.0L285.0 195.8L285.5 195.7L286.0 195.6L286.5 195.4L287.0 195.3L287.5 195.2L288.0 195.1L288.5 195.1L289.0 195.0L289.5 194.9L290.0 194.8L290.5 194.7L291.0 194.7L291.5 194.6L292.0 194.5L292.5 194.4L293.0 194.3L293.5 194.3L294.0 194.2L294.5 194.2L295.0 194.2L295.5 194.1L296.0 194.1L296.5 194.1L297.0 194.1L297.5 194.2L298.0 194.2L298.5 194.2L299.0 194.2L299.5 194.2L300.0 194.2L300.5 194.3L301.0 194.3L301.5 194.3L302.0 194.4L302.5 194.4L303.0 194.5L303.5 194.5L304.0 194.6L304.5 194.7L305.0 194.7L305.5 194.8L306.0 194.8L306.5 194.9L307.0 195.0L307.5 195.0L308.0 195.1L308.5 195.1L309.0 195.2L309.5 195.2L310.0 195.3L310.5 195.3L311.0 195.3L311.5 195.4L312.0 195.4L312.5 195.5L313.0 195.5L313.5 195.6L314.0 195.6L314.5 195.7L315.0 195.8L315.5 195.9L316.0 196.0L316.5 196.0L317.0 196.1L317.5 196.2L318.0 196.3L318.5 196.4L319.0 196.5L319.5 196.6L320.0 196.7L320.5 196.9L321.0 197.0L321.5 197.2L322.0 197.4L322.5 197.5L323.0 197.7L323.5 197.9L324.0 198.1L324.5 198.3L325.0 198.4L325.5 198.6L326.0 198.8L326.5 198.9L327.0 199.1L327.5 199.2L328.0 199.3L328.5 199.4L329.0 199.5L329.5 199.6L330.0 199.7L330.5 199.8L331.0 199.9L331.5 200.0L332.0 200.1L332.5 200.1L333.0 200.2L333.5 200.3L334.0 200.4L334.5 200.5L335.0 200.5L335.5 200.6L336.0 200.6L336.5 200.7L337.0 200.7L337.5 200.8L338.0 200.8L338.5 200.9L339.0 200.9L339.5 200.9L340.0 201.0L340.5 201.0L341.0 201.0L341.5 201.1L342.0 201.1L342.5 201.1L343.0 201.1L343.5 201.2L344.0 201.2L344.5 201.2L345.0 201.2L345.5 201.3L346.0 201.3L346.5 201.3L347.0 201.3L347.5 201.4L348.0 201.4L348.5 201.4L349.0 201.5L349.5 201.5L350.0 201.5L350.5 201.6L351.0 201.6L351.5 201.6L352.0 201.7L352.5 201.7L353.0 201.8L353.5 201.8L354.0 201.9L354.5 202.0L355.0 202.0L355.5 202.1L356.0 202.2L356.5 202.2L357.0 202.3" fill="none" stroke="#b4b4b4" stroke-width="0.7"/>
<path d="M66.0 188.8L66.5 188.9L67.0 188.9L67.5 189.0L68.0 189.1L68.5 189.1L69.0 189.2L69.5 189.3L70.0 189.4L70.5 189.4L71.0 189.5L71.5 189.6L72.0 189.7L72.5 189.7L73.0 189.8L73.5 189.9L74.0 189.9L74.5 190.0L75.0 190.1L75.5 190.2L76.0 190.2L76.5 190.3L77.0 190.4L77.5 190.5L78.0 190.6L78.5 190.7L79.0 190.7L79.5 190.8L80.0 190.9L80.5 191.0L81.0 191.1L81.5 191.2L82.0 191.2L82.5 191.3L83.0 191.4L83.5 191.4L84.0 191.5L84.5 191.5L85.0 191.6L85.5 191.6L86.0 191.6L86.5 191.6L87.0 191.6L87.5 191.7L88.0 191.7L88.5 191.7L89.0 191.7L89.5 191.7L90.0 191.7L90.5 191.6L91.0 191.6L91.5 191.6L92.0 191.6L92.5 191.5L93.0 191.3L93.5 191.1L94.0 190.9L94.5 190.7L95.0 190.4L95.5 190.1L96.0 189.8L96.5 189.5L97.0 189.1L97.5 188.7L98.0 188.3L98.5 187.8L99.0 187.3L99.5 186.7L100.0 186.1L100.5 185.3L101.0 184.5L101.5 183.7L102.0 182.8L102.5 181.9L103.0 181.0L103.5 180.1L104.0 179.1L104.5 178.0L105.0 176.9L105.5 175.6L106.0 174.0L106.5 172.4L107.0 171.0L107.5 169.8L108.0 168.7L108.5 167.5L109.0 166.0L109.5 164.3L110.0 162.4L110.5 160.3L111.0 158.2L111.5 156.2L112.0 154.0L112.5 151.7L113.0 149.2L113.5 146.7L114.0 144.4L114.5 142.3L115.0 140.5L115.5 138.8L116.0 137.1L116.5 135.5L117.0 133.9L117.5 132.4L118.0 130.9L118.5 129.2L119.0 127.5L119.5 126.0L120.0 124.9L120.5 123.9L121.0 122.9L121.5 121.4L122.0 119.2L122.5 116.6L123.0 113.2L123.5 109.8L124.0 106.8L124.5 103.9L125.0 101.2L125.5 98.7L126.0 96.1L126.5 94.1L127.0 93.1L127.5 92.5L128.0 92.4L128.5 92.9L129.0 93.9L129.5 95.4L130.0 97.1L130.5 99.1L131.0 102.0L131.5 105.6L132.0 109.7L132.5 115.0L133.0 120.6L133.5 125.4L134.0 129.5L134.5 133.4L135.0 137.3L135.5 141.1L136.0 144.9L136.5 148.9L137.0 152.9L137.5 156.6L138.0 160.2L138.5 164.0L139.0 166.7L139.5 168.2L140.0 169.6L140.5 171.0L141.0 172.4L141.5 173.6L142.0 174.8L142.5 176.0L143.0 177.1L143.5 178.0L144.0 178.9L144.5 179.7L145.0 180.4L145.5 181.1L146.0 181.8L146.5 182.4L147.0 182.9L147.5 183.5L148.0 184.0L148.5 184.5L149.0 185.0L149.5 185.5L150.0 185.9L150.5 186.3L151.0 186.6L151.5 187.0L152.0 187.3L152.5 187.7L153.0 188.0L153.5 188.3L154.0 188.6L154.5 188.9L155.0 189.1L155.5 189.4L156.0 189.6L156.5 189.8L157.0 190.0L157.5 190.2L158.0 190.4L158.5 190.6L159.0 190.8L159.5 191.0L160.0 191.1L160.5 191.3L161.0 191.5L161.5 191.7L162.0 191.9L162.5 192.0L163.0 192.2L163.5 192.4L164.0 192.5L164.5 192.7L165.0 192.9L165.5 193.0L166.0 193.2L166.5 193.4L167.0 193.5L167.5 193.7L168.0 193.8L168.5 194.0L169.0 194.1L169.5 194.3L170.0 194.4L170.5 194.5L171.0 194.7L171.5 194.8L172.0 194.9L172.5 195.0L173.0 195.2L173.5 195.3L174.0 195.4L174.5 195.5L175.0 195.6L175.5 195.7L176.0 195.8L176.5 195.9L177.0 196.0L177.5 196.1L178.0 196.2L178.5 196.3L179.0 196.3L179.5 196.4L180.0 196.5L180.5 196.6L181.0 196.7L181.5 196.8L182.0 196.9L182.5 197.0L183.0 197.1L183.5 197.2L184.0 197.3L184.5 197.4L185.0 197.5L185.5 197.5L186.0 197.6L186.5 197.7L187.0 197.8L187.5 197.9L188.0 198.0L188.5 198.1L189.0 198.2L189.5 198.3L190.0 198.4L190.5 198.5L191.0 198.6L191.5 198.8L192.0 198.9L192.5 199.0L193.0 199.2L193.5 199.4L194.0 199.6L194.5 199.8L195.0 200.0L195.5 200.2L196.0 200.4L196.5 200.6L197.0 200.8L197.5 201.0L198.0 201.2L198.5 201.4L199.0 201.5L199.5 201.7L200.0 201.8L200.5 202.0L201.0 202.1L201.5 202.2L202.0 202.3L202.5 202.5L203.0 202.6L203.5 202.6L204.0 202.7L204.5 202.7L205.0 202.8L205.5 202.8L206.0 202.8L206.5 202.9L207.0 202.9L207.5 202.9L208.0 202.9L208.5 202.9L209.0 203.0L209.5 203.0L210.0 203.0L210.5 203.0L211.0 203.0L211.5 203.1L212.0 203.1L212.5 203.1L213.0 203.1L213.5 203.1L214.0 203.2L214.5 203.2L215.0 203.2L215.5 203.2L216.0 203.3L216.5 203.3L217.0 203.3L217.5 203.3L218.0 203.4L218.5 203.4L219.0 203.4L219.5 203.5L220.0 203.5L220.5 203.5L221.0 203.6L221.5 203.6L222.0 203.6L222.5 203.7L223.0 203.7L223.5 203.7L224.0 203.7L224.5 203.8L225.0 203.8L225.5 203.8L226.0 203.9L226.5 203.9L227.0 203.9L227.5 203.9L228.0 204.0L228.5 204.0L229.0 204.0L229.5 204.0L230.0 204.1L230.5 204.1L231.0 204.1L231.5 204.1L232.0 204.1L232.5 204.1L233.0 204.1L233.5 204.1L234.0 204.0L234.5 204.0L235.0 204.0L235.5 204.0L236.0 203.9L236.5 203.9L237.0 203.9L237.5 203.8L238.0 203.8L238.5 203.8L239.0 203.7L239.5 203.7L240.0 203.6L240.5 203.6L241.0 203.5L241.5 203.5L242.0 203.4L242.5 203.4L243.0 203.3L243.5 203.3L244.0 203.3L244.5 203.2L245.0 203.2L245.5 203.2L246.0 203.2L246.5 203.2L247.0 203.1L247.5 203.1L248.0 203.2L248.5 203.2L249.0 203.2L249.5 203.2L250.0 203.2L250.5 203.2L251.0 203.2L251.5 203.3L252.0 203.3L252.5 203.3L253.0 203.3L253.5 203.3L254.0 203.3L254.5 203.3L255.0 203.3L255.5 203.3L256.0 203.3L256.5 203.3L257.0 203.3L257.5 203.2L258.0 203.2L258.5 203.2L259.0 203.1L259.5 203.1L260.0 203.1L260.5 203.0L261.0 203.0L261.5 202.9L262.0 202.9L262.5 202.8L263.0 202.8L263.5 202.7L264.0 202.7L264.5 202.6L265.0 202.5L265.5 202.4L266.0 202.3L266.5 202.2L267.0 202.0L267.5 201.9L268.0 201.8L268.5 201.6L269.0 201.4L269.5 201.2L270.0 201.0L270.5 200.8L271.0 200.5L271.5 200.3L272.0 200.0L272.5 199.8L273.0 199.5L273.5 199.3L274.0 199.1L274.5 198.8L275.0 198.6L275.5 198.3L276.0 198.1L276.5 197.8L277.0 197.6L277.5 197.4L278.0 197.1L278.5 196.9L279.0 196.6L279.5 196.4L280.0 196.1L280.5 195.9L281.0 195.7L281.5 195.5L282.0 195.3L282.5 195.2L283.0 195.0L283.5 194.9L284.0 194.7L284.5 194.6L285.0 194.4L285.5 194.3L286.0 194.2L286.5 194.1L287.0 194.0L287.5 193.9L288.0 193.9L288.5 193.8L289.0 193.8L289.5 193.7L290.0 193.7L290.5 193.6L291.0 193.6L291.5 193.6L292.0 193.5L292.5 193.5L293.0 193.5L293.5 193.5L294.0 193.5L294.5 193.5L295.0 193.5L295.5 193.6L296.0 193.7L296.5 193.7L297.0 193.8L297.5 193.9L298.0 194.0L298.5 194.0L299.0 194.1L299.5 194.2L300.0 194.3L300.5 194.3L301.0 194.4L301.5 194.5L302.0 194.6L302.5 194.7L303.0 194.8L303.5 194.9L304.0 195.0L304.5 195.1L305.0 195.2L305.5 195.3L306.0 195.4L306.5 195.5L307.0 195.6L307.5 195.7L308.0 195.7L308.5 195.8L309.0 195.9L309.5 196.0L310.0 196.0L310.5 196.1L311.0 196.2L311.5 196.2L312.0 196.3L312.5 196.3L313.0 196.4L313.5 196.5L314.0 196.5L314.5 196.6L315.0 196.7L315.5 196.8L316.0 196.9L316.5 197.0L317.0 197.1L317.5 197.2L318.0 197.3L318.5 197.3L319.0 197.4L319.5 197.5L320.0 197.7L320.5 197.8L321.0 197.9L321.5 198.1L322.0 198.2L322.5 198.4L323.0 198.6L323.5 198.7L324.0 198.9L324.5 199.1L325.0 199.2L325.5 199.4L326.0 199.5L326.5 199.6L327.0 199.8L327.5 199.9L328.0 200.0L328.5 200.0L329.0 200.1L329.5 200.2L330.0 200.3L330.5 200.4L331.0 200.5L331.5 200.5L332.0 200.6L332.5 200.7L333.0 200.7L333.5 200.8L334.0 200.9L334.5 200.9L335.0 201.0L335.5 201.0L336.0 201.1L336.5 201.1L337.0 201.2L337.5 201.2L338.0 201.3L338.5 201.3L339.0 201.3L339.5 201.4L340.0 201.4L340.5 201.4L341.0 201.4L341.5 201.5L342.0 201.5L342.5 201.5L343.0 201.5L343.5 201.5L344.0 201.5L344.5 201.6L345.0 201.6L345.5 201.6L346.0 201.6L346.5 201.6L347.0 201.6L347.5 201.7L348.0 201.7L348.5 201.7L349.0 201.7L349.5 201.7L350.0 201.8L350.5 201.8L351.0 201.8L351.5 201.9L352.0 201.9L352.5 202.0L353.0 202.0L353.5 202.1L354.0 202.1L354.5 202.2L355.0 202.3L355.5 202.3L356.0 202.4L356.5 202.5L357.0 202.6" fill="none" stroke="#b4b4b4" stroke-width="0.7"/>
<path d="M66.0 188.2L66.5 188.3L67.0 188.4L67.5 188.5L68.0 188.5L68.5 188.6L69.0 188.7L69.5 188.8L70.0 188.9L70.5 189.0L71.0 189.0L71.5 189.1L72.0 189.2L72.5 189.3L73.0 189.4L73.5 189.4L74.0 189.5L74.5 189.6L75.0 189.7L75.5 189.8L76.0 189.8L76.5 189.9L77.0 190.0L77.5 190.1L78.0 190.2L78.5 190.3L79.0 190.4L79.5 190.5L80.0 190.6L80.5 190.7L81.0 190.8L81.5 190.9L82.0 190.9L82.5 191.0L83.0 191.1L83.5 191.1L84.0 191.2L84.5 191.3L85.0 191.3L85.5 191.3L86.0 191.4L86.5 191.4L87.0 191.4L87.5 191.4L88.0 191.4L88.5 191.4L89.0 191.4L89.5 191.4L90.0 191.4L90.5 191.4L91.0 191.4L91.5 191.4L92.0 191.4L92.5 191.3L93.0 191.2L93.5 191.0L94.0 190.8L94.5 190.6L95.0 190.3L95.5 190.0L96.0 189.7L96.5 189.4L97.0 189.1L97.5 188.7L98.0 188.3L98.5 187.8L99.0 187.3L99.5 186.8L100.0 186.2L100.5 185.5L101.0 184.8L101.5 184.0L102.0 183.2L102.5 182.3L103.0 181.5L103.5 180.5L104.0 179.6L104.5 178.6L105.0 177.5L105.5 176.2L106.0 174.8L106.5 173.3L107.0 172.0L107.5 170.8L108.0 169.7L108.5 168.6L109.0 167.2L109.5 165.5L110.0 163.7L110.5 161.8L111.0 159.9L111.5 157.9L112.0 155.8L112.5 153.4L113.0 150.9L113.5 148.4L114.0 146.0L114.5 143.9L115.0 142.1L115.5 140.4L116.0 138.9L116.5 137.3L117.0 135.7L117.5 134.1L118.0 132.4L118.5 130.4L119.0 128.4L119.5 126.6L120.0 125.3L120.5 124.0L121.0 122.7L121.5 120.8L122.0 118.0L122.5 114.6L123.0 110.2L123.5 105.8L124.0 101.8L124.5 98.0L125.0 94.4L125.5 91.0L126.0 87.5L126.5 84.7L127.0 83.3L127.5 82.4L128.0 81.9L128.5 82.2L129.0 83.2L129.5 84.7L130.0 86.5L130.5 88.7L131.0 92.0L131.5 96.2L132.0 101.0L132.5 107.1L133.0 113.7L133.5 119.0L134.0 123.6L134.5 127.8L135.0 132.0L135.5 136.1L136.0 140.4L136.5 145.1L137.0 149.7L137.5 154.0L138.0 158.3L138.5 162.9L139.0 166.0L139.5 167.7L140.0 169.2L140.5 170.7L141.0 172.2L141.5 173.6L142.0 174.9L142.5 176.2L143.0 177.4L143.5 178.4L144.0 179.4L144.5 180.2L145.0 181.0L145.5 181.7L146.0 182.4L146.5 183.0L147.0 183.6L147.5 184.1L148.0 184.7L148.5 185.2L149.0 185.7L149.5 186.2L150.0 186.6L150.5 187.0L151.0 187.4L151.5 187.7L152.0 188.1L152.5 188.4L153.0 188.7L153.5 189.0L154.0 189.3L154.5 189.5L155.0 189.8L155.5 190.0L156.0 190.2L156.5 190.5L157.0 190.7L157.5 190.9L158.0 191.0L158.5 191.2L159.0 191.4L159.5 191.6L160.0 191.8L160.5 191.9L161.0 192.1L161.5 192.3L162.0 192.4L162.5 192.6L163.0 192.8L163.5 193.0L164.0 193.1L164.5 193.3L165.0 193.5L165.5 193.6L166.0 193.8L166.5 193.9L167.0 194.1L167.5 194.2L168.0 194.4L168.5 194.5L169.0 194.7L169.5 194.8L170.0 194.9L170.5 195.1L171.0 195.2L171.5 195.3L172.0 195.4L172.5 195.5L173.0 195.7L173.5 195.8L174.0 195.9L174.5 196.0L175.0 196.1L175.5 196.2L176.0 196.3L176.5 196.4L177.0 196.4L177.5 196.5L178.0 196.6L178.5 196.7L179.0 196.8L179.5 196.9L180.0 197.0L180.5 197.1L181.0 197.1L181.5 197.2L182.0 197.3L182.5 197.4L183.0 197.5L183.5 197.5L184.0 197.6L184.5 197.7L185.0 197.8L185.5 197.9L186.0 197.9L186.5 198.0L187.0 198.1L187.5 198.2L188.0 198.3L188.5 198.4L189.0 198.4L189.5 198.5L190.0 198.6L190.5 198.7L191.0 198.8L191.5 198.9L192.0 199.1L192.5 199.2L193.0 199.3L193.5 199.5L194.0 199.7L194.5 199.9L195.0 200.1L195.5 200.3L196.0 200.5L196.5 200.6L197.0 200.8L197.5 201.0L198.0 201.2L198.5 201.3L199.0 201.5L199.5 201.6L200.0 201.7L200.5 201.8L201.0 201.9L201.5 202.1L202.0 202.2L202.5 202.3L203.0 202.3L203.5 202.4L204.0 202.5L204.5 202.5L205.0 202.5L205.5 202.6L206.0 202.6L206.5 202.6L207.0 202.6L207.5 202.7L208.0 202.7L208.5 202.7L209.0 202.7L209.5 202.7L210.0 202.8L210.5 202.8L211.0 202.8L211.5 202.8L212.0 202.8L212.5 202.9L213.0 202.9L213.5 202.9L214.0 202.9L214.5 202.9L215.0 203.0L215.5 203.0L216.0 203.0L216.5 203.0L217.0 203.1L217.5 203.1L218.0 203.1L218.5 203.2L219.0 203.2L219.5 203.2L220.0 203.3L220.5 203.3L221.0 203.3L221.5 203.3L222.0 203.4L222.5 203.4L223.0 203.4L223.5 203.5L224.0 203.5L224.5 203.5L225.0 203.5L225.5 203.6L226.0 203.6L226.5 203.6L227.0 203.6L227.5 203.7L228.0 203.7L228.5 203.7L229.0 203.7L229.5 203.8L230.0 203.8L230.5 203.8L231.0 203.8L231.5 203.8L232.0 203.8L232.5 203.8L233.0 203.7L233.5 203.7L234.0 203.7L234.5 203.7L235.0 203.6L235.5 203.6L236.0 203.5L236.5 203.5L237.0 203.5L237.5 203.4L238.0 203.4L238.5 203.3L239.0 203.3L239.5 203.2L240.0 203.2L240.5 203.1L241.0 203.1L241.5 203.0L242.0 203.0L242.5 202.9L243.0 202.9L243.5 202.8L244.0 202.8L244.5 202.7L245.0 202.7L245.5 202.7L246.0 202.6L246.5 202.6L247.0 202.6L247.5 202.6L248.0 202.6L248.5 202.6L249.0 202.7L249.5 202.7L250.0 202.7L250.5 202.7L251.0 202.8L251.5 202.8L252.0 202.8L252.5 202.8L253.0 202.8L253.5 202.9L254.0 202.9L254.5 202.9L255.0 202.9L255.5 202.9L256.0 202.9L256.5 202.9L257.0 202.8L257.5 202.8L258.0 202.8L258.5 202.8L259.0 202.7L259.5 202.7L260.0 202.7L260.5 202.6L261.0 202.6L261.5 202.5L262.0 202.5L262.5 202.4L263.0 202.4L263.5 202.3L264.0 202.3L264.5 202.2L265.0 202.1L265.5 202.0L266.0 201.9L266.5 201.7L267.0 201.6L267.5 201.4L268.0 201.3L268.5 201.1L269.0 200.9L269.5 200.7L270.0 200.5L270.5 200.2L271.0 199.9L271.5 199.7L272.0 199.4L272.5 199.1L273.0 198.8L273.5 198.5L274.0 198.3L274.5 198.0L275.0 197.7L275.5 197.5L276.0 197.2L276.5 196.9L277.0 196.6L277.5 196.4L278.0 196.1L278.5 195.8L279.0 195.6L279.5 195.3L280.0 195.0L280.5 194.7L281.0 194.5L281.5 194.3L282.0 194.2L282.5 194.0L283.0 193.8L283.5 193.7L284.0 193.5L284.5 193.4L285.0 193.2L285.5 193.1L286.0 193.0L286.5 192.9L287.0 192.9L287.5 192.8L288.0 192.8L288.5 192.7L289.0 192.7L289.5 192.7L290.0 192.7L290.5 192.7L291.0 192.7L291.5 192.7L292.0 192.7L292.5 192.7L293.0 192.8L293.5 192.8L294.0 192.9L294.5 192.9L295.0 193.0L295.5 193.1L296.0 193.2L296.5 193.4L297.0 193.5L297.5 193.6L298.0 193.8L298.5 193.9L299.0 194.0L299.5 194.1L300.0 194.3L300.5 194.4L301.0 194.5L301.5 194.7L302.0 194.8L302.5 195.0L303.0 195.1L303.5 195.3L304.0 195.4L304.5 195.5L305.0 195.6L305.5 195.8L306.0 195.9L306.5 196.0L307.0 196.1L307.5 196.2L308.0 196.3L308.5 196.4L309.0 196.5L309.5 196.6L310.0 196.7L310.5 196.8L311.0 196.9L311.5 196.9L312.0 197.0L312.5 197.1L313.0 197.2L313.5 197.2L314.0 197.3L314.5 197.4L315.0 197.5L315.5 197.6L316.0 197.7L316.5 197.8L317.0 197.9L317.5 198.0L318.0 198.0L318.5 198.1L319.0 198.2L319.5 198.3L320.0 198.4L320.5 198.6L321.0 198.7L321.5 198.8L322.0 199.0L322.5 199.1L323.0 199.3L323.5 199.4L324.0 199.6L324.5 199.7L325.0 199.9L325.5 200.0L326.0 200.1L326.5 200.3L327.0 200.4L327.5 200.4L328.0 200.5L328.5 200.6L329.0 200.7L329.5 200.7L330.0 200.8L330.5 200.9L331.0 201.0L331.5 201.0L332.0 201.1L332.5 201.1L333.0 201.2L333.5 201.3L334.0 201.3L334.5 201.4L335.0 201.4L335.5 201.4L336.0 201.5L336.5 201.5L337.0 201.6L337.5 201.6L338.0 201.6L338.5 201.7L339.0 201.7L339.5 201.7L340.0 201.7L340.5 201.7L341.0 201.8L341.5 201.8L342.0 201.8L342.5 201.8L343.0 201.8L343.5 201.8L344.0 201.8L344.5 201.8L345.0 201.9L345.5 201.9L346.0 201.9L346.5 201.9L347.0 201.9L347.5 201.9L348.0 201.9L348.5 201.9L349.0 201.9L349.5 202.0L350.0 202.0L350.5 202.0L351.0 202.0L351.5 202.1L352.0 202.1L352.5 202.1L353.0 202.2L353.5 202.3L354.0 202.3L354.5 202.4L355.0 202.5L355.5 202.5L356.0 202.6L356.5 202.7L357.0 202.8" fill="none" stroke="#b4b4b4" stroke-width="0.7"/>
<path d="M66.0 187.9L66.5 188.0L67.0 188.1L67.5 188.2L68.0 188.3L68.5 188.3L69.0 188.4L69.5 188.5L70.0 188.6L70.5 188.7L71.0 188.8L71.5 188.9L72.0 189.0L72.5 189.0L73.0 189.1L73.5 189.2L74.0 189.3L74.5 189.4L75.0 189.5L75.5 189.6L76.0 189.6L76.5 189.7L77.0 189.8L77.5 189.9L78.0 190.0L78.5 190.1L79.0 190.2L79.5 190.3L80.0 190.4L80.5 190.5L81.0 190.6L81.5 190.7L82.0 190.8L82.5 190.8L83.0 190.9L83.5 191.0L84.0 191.1L84.5 191.1L85.0 191.1L85.5 191.2L86.0 191.2L86.5 191.2L87.0 191.3L87.5 191.3L88.0 191.3L88.5 191.3L89.0 191.3L89.5 191.3L90.0 191.3L90.5 191.3L91.0 191.3L91.5 191.3L92.0 191.3L92.5 191.2L93.0 191.1L93.5 190.9L94.0 190.7L94.5 190.5L95.0 190.3L95.5 190.0L96.0 189.7L96.5 189.4L97.0 189.1L97.5 188.7L98.0 188.3L98.5 187.9L99.0 187.4L99.5 186.9L100.0 186.3L100.5 185.6L101.0 184.9L101.5 184.2L102.0 183.4L102.5 182.6L103.0 181.7L103.5 180.8L104.0 179.9L104.5 178.9L105.0 177.8L105.5 176.6L106.0 175.2L106.5 173.8L107.0 172.5L107.5 171.4L108.0 170.3L108.5 169.1L109.0 167.8L109.5 166.2L110.0 164.5L110.5 162.6L111.0 160.7L111.5 158.8L112.0 156.7L112.5 154.4L113.0 151.8L113.5 149.3L114.0 146.9L114.5 144.8L115.0 142.9L115.5 141.3L116.0 139.8L116.5 138.2L117.0 136.6L117.5 135.1L118.0 133.2L118.5 131.1L119.0 128.9L119.5 127.0L120.0 125.4L120.5 124.1L121.0 122.6L121.5 120.5L122.0 117.3L122.5 113.5L123.0 108.5L123.5 103.5L124.0 99.1L124.5 94.8L125.0 90.7L125.5 86.8L126.0 82.9L126.5 79.7L127.0 78.0L127.5 76.9L128.0 76.2L128.5 76.4L129.0 77.4L129.5 78.9L130.0 80.8L130.5 83.1L131.0 86.6L131.5 91.2L132.0 96.3L132.5 102.9L133.0 109.9L133.5 115.6L134.0 120.4L134.5 124.8L135.0 129.1L135.5 133.4L136.0 138.0L136.5 143.0L137.0 147.9L137.5 152.6L138.0 157.2L138.5 162.3L139.0 165.6L139.5 167.4L140.0 168.9L140.5 170.6L141.0 172.2L141.5 173.6L142.0 175.0L142.5 176.3L143.0 177.5L143.5 178.6L144.0 179.6L144.5 180.5L145.0 181.3L145.5 182.0L146.0 182.7L146.5 183.3L147.0 183.9L147.5 184.5L148.0 185.1L148.5 185.6L149.0 186.1L149.5 186.6L150.0 187.0L150.5 187.4L151.0 187.8L151.5 188.1L152.0 188.4L152.5 188.8L153.0 189.1L153.5 189.3L154.0 189.6L154.5 189.9L155.0 190.1L155.5 190.4L156.0 190.6L156.5 190.8L157.0 191.0L157.5 191.2L158.0 191.4L158.5 191.6L159.0 191.7L159.5 191.9L160.0 192.1L160.5 192.3L161.0 192.4L161.5 192.6L162.0 192.8L162.5 192.9L163.0 193.1L163.5 193.3L164.0 193.4L164.5 193.6L165.0 193.8L165.5 193.9L166.0 194.1L166.5 194.2L167.0 194.4L167.5 194.5L168.0 194.7L168.5 194.8L169.0 195.0L169.5 195.1L170.0 195.2L170.5 195.4L171.0 195.5L171.5 195.6L172.0 195.7L172.5 195.8L173.0 195.9L173.5 196.0L174.0 196.1L174.5 196.2L175.0 196.3L175.5 196.4L176.0 196.5L176.5 196.6L177.0 196.7L177.5 196.8L178.0 196.9L178.5 197.0L179.0 197.0L179.5 197.1L180.0 197.2L180.5 197.3L181.0 197.4L181.5 197.4L182.0 197.5L182.5 197.6L183.0 197.7L183.5 197.7L184.0 197.8L184.5 197.9L185.0 198.0L185.5 198.0L186.0 198.1L186.5 198.2L187.0 198.3L187.5 198.3L188.0 198.4L188.5 198.5L189.0 198.6L189.5 198.6L190.0 198.7L190.5 198.8L191.0 198.9L191.5 199.0L192.0 199.1L192.5 199.3L193.0 199.4L193.5 199.6L194.0 199.7L194.5 199.9L195.0 200.1L195.5 200.3L196.0 200.5L196.5 200.7L197.0 200.8L197.5 201.0L198.0 201.2L198.5 201.3L199.0 201.4L199.5 201.5L200.0 201.6L200.5 201.8L201.0 201.9L201.5 202.0L202.0 202.1L202.5 202.1L203.0 202.2L203.5 202.3L204.0 202.3L204.5 202.4L205.0 202.4L205.5 202.4L206.0 202.4L206.5 202.5L207.0 202.5L207.5 202.5L208.0 202.5L208.5 202.6L209.0 202.6L209.5 202.6L210.0 202.6L210.5 202.6L211.0 202.7L211.5 202.7L212.0 202.7L212.5 202.7L213.0 202.8L213.5 202.8L214.0 202.8L214.5 202.8L215.0 202.8L215.5 202.9L216.0 202.9L216.5 202.9L217.0 202.9L217.5 203.0L218.0 203.0L218.5 203.0L219.0 203.1L219.5 203.1L220.0 203.1L220.5 203.1L221.0 203.2L221.5 203.2L222.0 203.2L222.5 203.3L223.0 203.3L223.5 203.3L224.0 203.3L224.5 203.4L225.0 203.4L225.5 203.4L226.0 203.4L226.5 203.5L227.0 203.5L227.5 203.5L228.0 203.5L228.5 203.6L229.0 203.6L229.5 203.6L230.0 203.6L230.5 203.6L231.0 203.6L231.5 203.6L232.0 203.6L232.5 203.6L233.0 203.6L233.5 203.5L234.0 203.5L234.5 203.5L235.0 203.4L235.5 203.4L236.0 203.3L236.5 203.3L237.0 203.3L237.5 203.2L238.0 203.2L238.5 203.1L239.0 203.1L239.5 203.0L240.0 203.0L240.5 202.9L241.0 202.8L241.5 202.8L242.0 202.7L242.5 202.6L243.0 202.6L243.5 202.5L244.0 202.5L244.5 202.4L245.0 202.4L245.5 202.4L246.0 202.3L246.5 202.3L247.0 202.3L247.5 202.3L248.0 202.3L248.5 202.4L249.0 202.4L249.5 202.4L250.0 202.4L250.5 202.5L251.0 202.5L251.5 202.5L252.0 202.6L252.5 202.6L253.0 202.6L253.5 202.6L254.0 202.6L254.5 202.7L255.0 202.7L255.5 202.7L256.0 202.6L256.5 202.6L257.0 202.6L257.5 202.6L258.0 202.6L258.5 202.5L259.0 202.5L259.5 202.5L260.0 202.4L260.5 202.4L261.0 202.4L261.5 202.3L262.0 202.3L262.5 202.2L263.0 202.2L263.5 202.1L264.0 202.1L264.5 202.0L265.0 201.9L265.5 201.8L266.0 201.6L266.5 201.5L267.0 201.4L267.5 201.2L268.0 201.0L268.5 200.9L269.0 200.7L269.5 200.4L270.0 200.2L270.5 199.9L271.0 199.6L271.5 199.3L272.0 199.0L272.5 198.7L273.0 198.4L273.5 198.1L274.0 197.8L274.5 197.6L275.0 197.3L275.5 197.0L276.0 196.7L276.5 196.4L277.0 196.1L277.5 195.8L278.0 195.5L278.5 195.3L279.0 195.0L279.5 194.7L280.0 194.4L280.5 194.1L281.0 193.9L281.5 193.7L282.0 193.5L282.5 193.3L283.0 193.2L283.5 193.0L284.0 192.9L284.5 192.7L285.0 192.6L285.5 192.5L286.0 192.4L286.5 192.3L287.0 192.2L287.5 192.2L288.0 192.2L288.5 192.2L289.0 192.2L289.5 192.2L290.0 192.2L290.5 192.2L291.0 192.2L291.5 192.3L292.0 192.3L292.5 192.3L293.0 192.4L293.5 192.4L294.0 192.5L294.5 192.6L295.0 192.7L295.5 192.9L296.0 193.0L296.5 193.2L297.0 193.3L297.5 193.5L298.0 193.7L298.5 193.8L299.0 194.0L299.5 194.1L300.0 194.3L300.5 194.4L301.0 194.6L301.5 194.8L302.0 194.9L302.5 195.1L303.0 195.3L303.5 195.4L304.0 195.6L304.5 195.7L305.0 195.9L305.5 196.0L306.0 196.1L306.5 196.3L307.0 196.4L307.5 196.5L308.0 196.6L308.5 196.8L309.0 196.9L309.5 197.0L310.0 197.1L310.5 197.2L311.0 197.3L311.5 197.3L312.0 197.4L312.5 197.5L313.0 197.6L313.5 197.7L314.0 197.7L314.5 197.8L315.0 197.9L315.5 198.0L316.0 198.1L316.5 198.2L317.0 198.3L317.5 198.4L318.0 198.5L318.5 198.6L319.0 198.7L319.5 198.8L320.0 198.9L320.5 199.0L321.0 199.1L321.5 199.3L322.0 199.4L322.5 199.5L323.0 199.7L323.5 199.8L324.0 200.0L324.5 200.1L325.0 200.2L325.5 200.4L326.0 200.5L326.5 200.6L327.0 200.7L327.5 200.8L328.0 200.8L328.5 200.9L329.0 201.0L329.5 201.0L330.0 201.1L330.5 201.2L331.0 201.2L331.5 201.3L332.0 201.3L332.5 201.4L333.0 201.4L333.5 201.5L334.0 201.5L334.5 201.6L335.0 201.6L335.5 201.7L336.0 201.7L336.5 201.7L337.0 201.8L337.5 201.8L338.0 201.8L338.5 201.8L339.0 201.9L339.5 201.9L340.0 201.9L340.5 201.9L341.0 201.9L341.5 202.0L342.0 202.0L342.5 202.0L343.0 202.0L343.5 202.0L344.0 202.0L344.5 202.0L345.0 202.0L345.5 202.0L346.0 202.0L346.5 202.0L347.0 202.0L347.5 202.0L348.0 202.0L348.5 202.1L349.0 202.1L349.5 202.1L350.0 202.1L350.5 202.1L351.0 202.1L351.5 202.2L352.0 202.2L352.5 202.2L353.0 202.3L353.5 202.4L354.0 202.4L354.5 202.5L355.0 202.6L355.5 202.7L356.0 202.7L356.5 202.8L357.0 202.9" fill="none" stroke="#b4b4b4" stroke-width="0.7"/>
<path d="M66.0 187.6L66.5 187.7L67.0 187.8L67.5 187.9L68.0 188.0L68.5 188.1L69.0 188.2L69.5 188.3L70.0 188.3L70.5 188.4L71.0 188.5L71.5 188.6L72.0 188.7L72.5 188.8L73.0 188.9L73.5 189.0L74.0 189.1L74.5 189.2L75.0 189.3L75.5 189.3L76.0 189.4L76.5 189.5L77.0 189.6L77.5 189.7L78.0 189.8L78.5 189.9L79.0 190.0L79.5 190.1L80.0 190.2L80.5 190.3L81.0 190.4L81.5 190.5L82.0 190.6L82.5 190.7L83.0 190.8L83.5 190.8L84.0 190.9L84.5 191.0L85.0 191.0L85.5 191.0L86.0 191.1L86.5 191.1L87.0 191.1L87.5 191.1L88.0 191.2L88.5 191.2L89.0 191.2L89.5 191.2L90.0 191.2L90.5 191.2L91.0 191.2L91.5 191.2L92.0 191.2L92.5 191.1L93.0 191.0L93.5 190.8L94.0 190.6L94.5 190.4L95.0 190.2L95.5 189.9L96.0 189.7L96.5 189.4L97.0 189.0L97.5 188.7L98.0 188.3L98.5 187.9L99.0 187.4L99.5 186.9L100.0 186.4L100.5 185.8L101.0 185.1L101.5 184.3L102.0 183.6L102.5 182.8L103.0 181.9L103.5 181.1L104.0 180.1L104.5 179.1L105.0 178.1L105.5 176.9L106.0 175.7L106.5 174.3L107.0 173.1L107.5 171.9L108.0 170.9L108.5 169.7L109.0 168.4L109.5 166.9L110.0 165.2L110.5 163.5L111.0 161.6L111.5 159.7L112.0 157.7L112.5 155.3L113.0 152.8L113.5 150.2L114.0 147.7L114.5 145.6L115.0 143.8L115.5 142.2L116.0 140.7L116.5 139.2L117.0 137.6L117.5 136.0L118.0 134.1L118.5 131.8L119.0 129.4L119.5 127.3L120.0 125.6L120.5 124.1L121.0 122.5L121.5 120.1L122.0 116.7L122.5 112.4L123.0 106.9L123.5 101.3L124.0 96.3L124.5 91.5L125.0 87.0L125.5 82.7L126.0 78.2L126.5 74.7L127.0 72.7L127.5 71.3L128.0 70.6L128.5 70.7L129.0 71.6L129.5 73.2L130.0 75.1L130.5 77.5L131.0 81.3L131.5 86.1L132.0 91.5L132.5 98.7L133.0 106.2L133.5 112.2L134.0 117.2L134.5 121.8L135.0 126.2L135.5 130.8L136.0 135.6L136.5 140.9L137.0 146.2L137.5 151.3L138.0 156.2L138.5 161.7L139.0 165.3L139.5 167.1L140.0 168.7L140.5 170.4L141.0 172.1L141.5 173.6L142.0 175.0L142.5 176.4L143.0 177.7L143.5 178.8L144.0 179.8L144.5 180.7L145.0 181.5L145.5 182.3L146.0 183.0L146.5 183.7L147.0 184.3L147.5 184.9L148.0 185.4L148.5 186.0L149.0 186.5L149.5 187.0L150.0 187.4L150.5 187.8L151.0 188.2L151.5 188.5L152.0 188.8L152.5 189.1L153.0 189.4L153.5 189.7L154.0 190.0L154.5 190.2L155.0 190.5L155.5 190.7L156.0 190.9L156.5 191.1L157.0 191.3L157.5 191.5L158.0 191.7L158.5 191.9L159.0 192.1L159.5 192.2L160.0 192.4L160.5 192.6L161.0 192.8L161.5 192.9L162.0 193.1L162.5 193.3L163.0 193.4L163.5 193.6L164.0 193.8L164.5 193.9L165.0 194.1L165.5 194.2L166.0 194.4L166.5 194.6L167.0 194.7L167.5 194.8L168.0 195.0L168.5 195.1L169.0 195.3L169.5 195.4L170.0 195.5L170.5 195.7L171.0 195.8L171.5 195.9L172.0 196.0L172.5 196.1L173.0 196.2L173.5 196.3L174.0 196.4L174.5 196.5L175.0 196.6L175.5 196.7L176.0 196.8L176.5 196.9L177.0 197.0L177.5 197.0L178.0 197.1L178.5 197.2L179.0 197.3L179.5 197.4L180.0 197.4L180.5 197.5L181.0 197.6L181.5 197.7L182.0 197.7L182.5 197.8L183.0 197.9L183.5 197.9L184.0 198.0L184.5 198.1L185.0 198.1L185.5 198.2L186.0 198.3L186.5 198.3L187.0 198.4L187.5 198.5L188.0 198.5L188.5 198.6L189.0 198.7L189.5 198.7L190.0 198.8L190.5 198.9L191.0 199.0L191.5 199.1L192.0 199.2L192.5 199.4L193.0 199.5L193.5 199.7L194.0 199.8L194.5 200.0L195.0 200.2L195.5 200.3L196.0 200.5L196.5 200.7L197.0 200.8L197.5 201.0L198.0 201.2L198.5 201.3L199.0 201.4L199.5 201.5L200.0 201.6L200.5 201.7L201.0 201.8L201.5 201.9L202.0 202.0L202.5 202.0L203.0 202.1L203.5 202.2L204.0 202.2L204.5 202.2L205.0 202.3L205.5 202.3L206.0 202.3L206.5 202.3L207.0 202.4L207.5 202.4L208.0 202.4L208.5 202.4L209.0 202.5L209.5 202.5L210.0 202.5L210.5 202.5L211.0 202.5L211.5 202.6L212.0 202.6L212.5 202.6L213.0 202.6L213.5 202.6L214.0 202.7L214.5 202.7L215.0 202.7L215.5 202.7L216.0 202.8L216.5 202.8L217.0 202.8L217.5 202.8L218.0 202.9L218.5 202.9L219.0 202.9L219.5 203.0L220.0 203.0L220.5 203.0L221.0 203.0L221.5 203.1L222.0 203.1L222.5 203.1L223.0 203.1L223.5 203.2L224.0 203.2L224.5 203.2L225.0 203.2L225.5 203.3L226.0 203.3L226.5 203.3L227.0 203.3L227.5 203.4L228.0 203.4L228.5 203.4L229.0 203.4L229.5 203.4L230.0 203.5L230.5 203.5L231.0 203.5L231.5 203.4L232.0 203.4L232.5 203.4L233.0 203.4L233.5 203.3L234.0 203.3L234.5 203.3L235.0 203.2L235.5 203.2L236.0 203.1L236.5 203.1L237.0 203.0L237.5 203.0L238.0 202.9L238.5 202.9L239.0 202.8L239.5 202.8L240.0 202.7L240.5 202.6L241.0 202.6L241.5 202.5L242.0 202.4L242.5 202.4L243.0 202.3L243.5 202.3L244.0 202.2L244.5 202.2L245.0 202.1L245.5 202.1L246.0 202.1L246.5 202.0L247.0 202.0L247.5 202.1L248.0 202.1L248.5 202.1L249.0 202.1L249.5 202.1L250.0 202.2L250.5 202.2L251.0 202.2L251.5 202.3L252.0 202.3L252.5 202.3L253.0 202.4L253.5 202.4L254.0 202.4L254.5 202.4L255.0 202.4L255.5 202.4L256.0 202.4L256.5 202.4L257.0 202.4L257.5 202.4L258.0 202.4L258.5 202.3L259.0 202.3L259.5 202.3L260.0 202.2L260.5 202.2L261.0 202.2L261.5 202.1L262.0 202.1L262.5 202.0L263.0 202.0L263.5 201.9L264.0 201.8L264.5 201.8L265.0 201.7L265.5 201.5L266.0 201.4L266.5 201.3L267.0 201.1L267.5 201.0L268.0 200.8L268.5 200.6L269.0 200.4L269.5 200.2L270.0 199.9L270.5 199.6L271.0 199.3L271.5 199.0L272.0 198.6L272.5 198.3L273.0 198.0L273.5 197.7L274.0 197.4L274.5 197.1L275.0 196.8L275.5 196.5L276.0 196.2L276.5 195.9L277.0 195.6L277.5 195.3L278.0 195.0L278.5 194.7L279.0 194.4L279.5 194.1L280.0 193.7L280.5 193.5L281.0 193.2L281.5 193.0L282.0 192.9L282.5 192.7L283.0 192.5L283.5 192.4L284.0 192.2L284.5 192.1L285.0 192.0L285.5 191.8L286.0 191.8L286.5 191.7L287.0 191.6L287.5 191.6L288.0 191.6L288.5 191.6L289.0 191.6L289.5 191.6L290.0 191.7L290.5 191.7L291.0 191.8L291.5 191.8L292.0 191.9L292.5 191.9L293.0 192.0L293.5 192.1L294.0 192.2L294.5 192.3L295.0 192.5L295.5 192.6L296.0 192.8L296.5 193.0L297.0 193.2L297.5 193.4L298.0 193.5L298.5 193.7L299.0 193.9L299.5 194.1L300.0 194.3L300.5 194.5L301.0 194.7L301.5 194.9L302.0 195.1L302.5 195.2L303.0 195.4L303.5 195.6L304.0 195.8L304.5 195.9L305.0 196.1L305.5 196.3L306.0 196.4L306.5 196.5L307.0 196.7L307.5 196.8L308.0 197.0L308.5 197.1L309.0 197.2L309.5 197.3L310.0 197.4L310.5 197.5L311.0 197.6L311.5 197.7L312.0 197.8L312.5 197.9L313.0 198.0L313.5 198.1L314.0 198.2L314.5 198.3L315.0 198.4L315.5 198.4L316.0 198.5L316.5 198.6L317.0 198.7L317.5 198.8L318.0 198.9L318.5 199.0L319.0 199.1L319.5 199.2L320.0 199.3L320.5 199.4L321.0 199.5L321.5 199.7L322.0 199.8L322.5 199.9L323.0 200.1L323.5 200.2L324.0 200.3L324.5 200.5L325.0 200.6L325.5 200.7L326.0 200.8L326.5 200.9L327.0 201.0L327.5 201.1L328.0 201.1L328.5 201.2L329.0 201.3L329.5 201.3L330.0 201.4L330.5 201.4L331.0 201.5L331.5 201.5L332.0 201.6L332.5 201.6L333.0 201.7L333.5 201.7L334.0 201.8L334.5 201.8L335.0 201.8L335.5 201.9L336.0 201.9L336.5 201.9L337.0 202.0L337.5 202.0L338.0 202.0L338.5 202.0L339.0 202.1L339.5 202.1L340.0 202.1L340.5 202.1L341.0 202.1L341.5 202.1L342.0 202.1L342.5 202.2L343.0 202.2L343.5 202.2L344.0 202.2L344.5 202.2L345.0 202.2L345.5 202.2L346.0 202.2L346.5 202.2L347.0 202.2L347.5 202.2L348.0 202.2L348.5 202.2L349.0 202.2L349.5 202.2L350.0 202.2L350.5 202.2L351.0 202.2L351.5 202.3L352.0 202.3L352.5 202.3L353.0 202.4L353.5 202.5L354.0 202.5L354.5 202.6L355.0 202.7L355.5 202.8L356.0 202.9L356.5 202.9L357.0 203.0" fill="none" stroke="#b4b4b4" stroke-width="0.7"/>
<path d="M66.0 186.4L66.5 186.5L67.0 186.6L67.5 186.8L68.0 186.9L68.5 187.0L69.0 187.1L69.5 187.2L70.0 187.3L70.5 187.4L71.0 187.5L71.5 187.5L72.0 187.6L72.5 187.7L73.0 187.7L73.5 187.7L74.0 187.8L74.5 187.8L75.0 187.8L75.5 187.8L76.0 187.8L76.5 187.8L77.0 187.8L77.5 187.8L78.0 187.8L78.5 187.8L79.0 187.8L79.5 187.8L80.0 187.8L80.5 187.8L81.0 187.8L81.5 187.7L82.0 187.7L82.5 187.6L83.0 187.5L83.5 187.4L84.0 187.2L84.5 187.1L85.0 186.9L85.5 186.8L86.0 186.6L86.5 186.4L87.0 186.2L87.5 186.0L88.0 185.8L88.5 185.5L89.0 185.2L89.5 184.9L90.0 184.6L90.5 184.2L91.0 183.8L91.5 183.4L92.0 182.9L92.5 182.4L93.0 181.8L93.5 181.2L94.0 180.6L94.5 179.9L95.0 179.2L95.5 178.4L96.0 177.6L96.5 176.6L97.0 175.6L97.5 174.6L98.0 173.5L98.5 172.3L99.0 171.0L99.5 169.6L100.0 168.1L100.5 166.7L101.0 165.3L101.5 164.0L102.0 162.7L102.5 161.5L103.0 160.3L103.5 159.1L104.0 157.8L104.5 156.5L105.0 155.2L105.5 153.8L106.0 152.4L106.5 151.0L107.0 149.4L107.5 147.8L108.0 146.2L108.5 144.4L109.0 142.6L109.5 140.6L110.0 138.5L110.5 136.1L111.0 133.4L111.5 130.7L112.0 128.2" fill="none" stroke="#000" stroke-width="1.5" stroke-linejoin="round"/><path d="M111.5 130.7L112.0 128.2L112.5 125.7L113.0 123.3L113.5 121.2L114.0 119.5L114.5 117.9L115.0 116.7L115.5 116.1L116.0 115.8L116.5 115.5L117.0 115.4L117.5 115.3L118.0 115.4L118.5 115.7L119.0 116.0L119.5 116.5L120.0 117.3L120.5 118.3L121.0 119.5L121.5 121.0L122.0 122.8L122.5 124.6L123.0 126.4L123.5 128.5L124.0 130.5L124.5 132.5L125.0 134.4L125.5 136.4L126.0 138.3L126.5 140.3L127.0 142.1L127.5 144.0L128.0 146.1L128.5 148.5L129.0 151.6L129.5 154.8L130.0 157.6L130.5 159.9L131.0 162.0L131.5 164.0L132.0 165.9L132.5 167.7L133.0 169.6L133.5 171.6L134.0 173.8L134.5 176.0L135.0 178.2L135.5 180.2L136.0 182.1L136.5 183.7L137.0 185.0L137.5 186.3L138.0 187.4L138.5 188.5L139.0 189.4L139.5 190.3L140.0 191.2L140.5 192.0L141.0 192.7L141.5 193.4L142.0 194.1L142.5 194.7L143.0 195.3L143.5 195.8L144.0 196.3L144.5 196.8L145.0 197.2L145.5 197.6L146.0 197.9L146.5 198.2L147.0 198.4L147.5 198.6L148.0 198.9L148.5 199.1L149.0 199.3L149.5 199.5L150.0 199.7L150.5 199.9L151.0 200.2L151.5 200.4L152.0 200.6L152.5 200.9L153.0 201.1L153.5 201.3L154.0 201.5L154.5 201.7L155.0 201.8L155.5 201.9L156.0 202.0L156.5 202.1L157.0 202.1L157.5 202.2L158.0 202.3L158.5 202.4L159.0 202.4L159.5 202.5L160.0 202.6L160.5 202.6L161.0 202.7L161.5 202.7L162.0 202.8L162.5 202.8L163.0 202.9L163.5 202.9L164.0 202.9L164.5 203.0L165.0 203.0L165.5 203.0L166.0 203.0L166.5 203.0L167.0 203.0L167.5 203.0L168.0 202.9L168.5 202.9L169.0 202.9L169.5 202.8L170.0 202.7L170.5 202.7L171.0 202.6L171.5 202.5L172.0 202.4L172.5 202.3L173.0 202.2L173.5 202.2L174.0 202.1L174.5 202.0L175.0 201.9L175.5 201.8L176.0 201.7L176.5 201.6L177.0 201.6L177.5 201.5L178.0 201.5L178.5 201.4L179.0 201.4L179.5 201.3L180.0 201.3L180.5 201.2L181.0 201.2L181.5 201.2L182.0 201.1L182.5 201.1L183.0 201.1L183.5 201.0L184.0 201.0L184.5 201.0L185.0 201.0L185.5 201.0L186.0 201.0L186.5 201.1L187.0 201.1L187.5 201.2L188.0 201.3L188.5 201.3L189.0 201.4L189.5 201.5L190.0 201.6" fill="none" stroke="#000" stroke-width="2.0" stroke-linejoin="round"/><path d="M189.5 201.5L190.0 201.6L190.5 201.7L191.0 201.8L191.5 201.9L192.0 202.0L192.5 202.1L193.0 202.2L193.5 202.3L194.0 202.4L194.5 202.4L195.0 202.5L195.5 202.6L196.0 202.6L196.5 202.7L197.0 202.7L197.5 202.7L198.0 202.8L198.5 202.8L199.0 202.9L199.5 202.9L200.0 203.0L200.5 203.0L201.0 203.1L201.5 203.1L202.0 203.1L202.5 203.2L203.0 203.2L203.5 203.3L204.0 203.3L204.5 203.3L205.0 203.4L205.5 203.4L206.0 203.4L206.5 203.5L207.0 203.5L207.5 203.6L208.0 203.6L208.5 203.6L209.0 203.7L209.5 203.7L210.0 203.7L210.5 203.7L211.0 203.8L211.5 203.8L212.0 203.8L212.5 203.9L213.0 203.9L213.5 203.9L214.0 203.9L214.5 204.0L215.0 204.0L215.5 204.0L216.0 204.1L216.5 204.1L217.0 204.1L217.5 204.1L218.0 204.2L218.5 204.2L219.0 204.2L219.5 204.2L220.0 204.3L220.5 204.3L221.0 204.3L221.5 204.3L222.0 204.3L222.5 204.4L223.0 204.4L223.5 204.4L224.0 204.4L224.5 204.5L225.0 204.5L225.5 204.5L226.0 204.5L226.5 204.5L227.0 204.6L227.5 204.6L228.0 204.6L228.5 204.6L229.0 204.6L229.5 204.7L230.0 204.7L230.5 204.7L231.0 204.7L231.5 204.7L232.0 204.8L232.5 204.8L233.0 204.8L233.5 204.8L234.0 204.8L234.5 204.8L235.0 204.9L235.5 204.9L236.0 204.9L236.5 204.9L237.0 204.9L237.5 204.9L238.0 204.9L238.5 205.0L239.0 205.0L239.5 205.0L240.0 205.0L240.5 205.0L241.0 205.0L241.5 205.0L242.0 205.1L242.5 205.1L243.0 205.1L243.5 205.1L244.0 205.1L244.5 205.1L245.0 205.1L245.5 205.1L246.0 205.1L246.5 205.1L247.0 205.2L247.5 205.2L248.0 205.2L248.5 205.2L249.0 205.2L249.5 205.2L250.0 205.2L250.5 205.2L251.0 205.2L251.5 205.2L252.0 205.2L252.5 205.3L253.0 205.3L253.5 205.3L254.0 205.3L254.5 205.3L255.0 205.3L255.5 205.3L256.0 205.3L256.5 205.3L257.0 205.3L257.5 205.3L258.0 205.4L258.5 205.4L259.0 205.4L259.5 205.4L260.0 205.4L260.5 205.4L261.0 205.4L261.5 205.4L262.0 205.4L262.5 205.4L263.0 205.5L263.5 205.5L264.0 205.5L264.5 205.5L265.0 205.5L265.5 205.5L266.0 205.5L266.5 205.5L267.0 205.6L267.5 205.6L268.0 205.6L268.5 205.6L269.0 205.6L269.5 205.7L270.0 205.7L270.5 205.7L271.0 205.7L271.5 205.7L272.0 205.8L272.5 205.8L273.0 205.8L273.5 205.8L274.0 205.8L274.5 205.8L275.0 205.8L275.5 205.8L276.0 205.8L276.5 205.8L277.0 205.8L277.5 205.7L278.0 205.7L278.5 205.7L279.0 205.7L279.5 205.6L280.0 205.6L280.5 205.5L281.0 205.5L281.5 205.5L282.0 205.4L282.5 205.4L283.0 205.3L283.5 205.3L284.0 205.3L284.5 205.2L285.0 205.2L285.5 205.2L286.0 205.1L286.5 205.1L287.0 205.1L287.5 205.0L288.0 205.0L288.5 205.0L289.0 205.0L289.5 205.0L290.0 205.0L290.5 205.0L291.0 205.0L291.5 205.1L292.0 205.1L292.5 205.2L293.0 205.2L293.5 205.3L294.0 205.4L294.5 205.4L295.0 205.5L295.5 205.6L296.0 205.7L296.5 205.7L297.0 205.8L297.5 205.9L298.0 206.0L298.5 206.1L299.0 206.2L299.5 206.3L300.0 206.4L300.5 206.5L301.0 206.6L301.5 206.7L302.0 206.8L302.5 206.9L303.0 206.9L303.5 207.0L304.0 207.0L304.5 207.0L305.0 207.0L305.5 207.0L306.0 207.0L306.5 207.0L307.0 207.0L307.5 207.0L308.0 207.0L308.5 207.0L309.0 207.0L309.5 207.0L310.0 207.0L310.5 207.0L311.0 207.0L311.5 207.0L312.0 207.0L312.5 207.0L313.0 207.0L313.5 207.0L314.0 207.0L314.5 207.0L315.0 207.0L315.5 207.0L316.0 207.0L316.5 207.0L317.0 207.0L317.5 207.0L318.0 207.0L318.5 207.0L319.0 207.0L319.5 207.0L320.0 207.0L320.5 207.0L321.0 207.0L321.5 207.0L322.0 207.0L322.5 206.9L323.0 206.9L323.5 206.9L324.0 206.9L324.5 206.9L325.0 206.9L325.5 206.8L326.0 206.8L326.5 206.8L327.0 206.8L327.5 206.7L328.0 206.7L328.5 206.7L329.0 206.6L329.5 206.6L330.0 206.6L330.5 206.6L331.0 206.5L331.5 206.5L332.0 206.5L332.5 206.4L333.0 206.4L333.5 206.3L334.0 206.3L334.5 206.3L335.0 206.2L335.5 206.2L336.0 206.1L336.5 206.1L337.0 206.0L337.5 206.0L338.0 205.9L338.5 205.8L339.0 205.8L339.5 205.7L340.0 205.6L340.5 205.5L341.0 205.4L341.5 205.4L342.0 205.3L342.5 205.2L343.0 205.1L343.5 205.1L344.0 205.0L344.5 204.9L345.0 204.8L345.5 204.8L346.0 204.7L346.5 204.7L347.0 204.6L347.5 204.5L348.0 204.5L348.5 204.4L349.0 204.4L349.5 204.3L350.0 204.3L350.5 204.2L351.0 204.2L351.5 204.2L352.0 204.1L352.5 204.1L353.0 204.0L353.5 204.0L354.0 203.9L354.5 203.9L355.0 203.9L355.5 203.8L356.0 203.8L356.5 203.7L357.0 203.7" fill="none" stroke="#000" stroke-width="1.5" stroke-linejoin="round"/>
<path d="M66.0 190.8L66.5 191.1L67.0 190.4L67.5 190.8L68.0 191.5L68.5 191.6L69.0 190.2L69.5 190.4L70.0 190.2L70.5 190.9L71.0 190.2L71.5 191.0L72.0 191.4L72.5 190.8L73.0 191.5L73.5 191.4L74.0 190.5L74.5 191.5L75.0 191.0L75.5 191.3L76.0 191.1L76.5 191.9L77.0 191.5L77.5 191.1L78.0 191.8L78.5 192.3L79.0 191.5L79.5 191.4L80.0 191.8L80.5 192.9L81.0 193.0L81.5 192.5L82.0 193.0L82.5 192.9L83.0 192.1L83.5 191.7L84.0 192.7L84.5 192.6L85.0 192.2L85.5 192.0L86.0 192.3L86.5 192.4L87.0 192.1L87.5 192.1L88.0 192.4L88.5 193.1L89.0 192.6L89.5 192.0L90.0 192.0L90.5 192.3L91.0 191.8L91.5 191.8L92.0 192.2L92.5 191.3L93.0 191.8L93.5 191.4L94.0 191.7L94.5 191.5L95.0 191.1L95.5 190.8L96.0 190.1L96.5 189.7L97.0 189.2L97.5 188.7L98.0 188.1L98.5 187.6L99.0 186.9L99.5 186.3L100.0 185.6L100.5 184.7L101.0 183.7L101.5 182.6L102.0 181.6L102.5 180.5L103.0 179.5L103.5 178.5L104.0 177.4L104.5 176.3L105.0 175.0L105.5 173.4L106.0 171.4L106.5 169.4L107.0 167.6L107.5 166.3L108.0 165.2L108.5 164.0L109.0 162.3L109.5 160.2L110.0 157.9L110.5 155.4L111.0 152.9L111.5 150.5L112.0 148.2L112.5 145.8L113.0 143.5L113.5 141.3L114.0 139.1L114.5 137.1L115.0 135.1L115.5 133.3L116.0 131.4L116.5 129.5L117.0 127.9L117.5 126.7L118.0 125.9L118.5 125.1L119.0 124.5L119.5 124.1L120.0 123.8L120.5 123.6L121.0 123.5L121.5 123.4L122.0 123.3L122.5 123.3L123.0 123.4L123.5 123.5L124.0 123.6L124.5 123.8L125.0 124.0L125.5 124.3L126.0 124.7L126.5 125.1L127.0 125.6L127.5 126.4L128.0 127.4L128.5 128.5L129.0 129.7L129.5 130.9L130.0 132.2L130.5 133.6L131.0 135.1L131.5 136.8L132.0 138.7L132.5 141.0L133.0 143.6L133.5 146.4L134.0 149.1L134.5 152.0L135.0 154.9L135.5 157.5L136.0 159.7L136.5 161.7L137.0 163.5" fill="none" stroke="#0000ff" stroke-width="2.6" stroke-linejoin="round"/><path d="M136.5 161.7L137.0 163.5L137.5 165.1L138.0 166.5L138.5 167.8L139.0 168.9L139.5 170.0L140.0 171.0L140.5 171.9L141.0 172.8L141.5 173.7L142.0 174.5L142.5 175.3L143.0 176.1L143.5 176.8L144.0 177.5L144.5 178.1L145.0 178.7L145.5 179.3L146.0 179.8" fill="none" stroke="#0000ff" stroke-width="2.1" stroke-linejoin="round"/><path d="M145.5 179.3L146.0 179.8L146.5 180.3L147.0 180.8L147.5 181.3L148.0 181.7L148.5 182.2L149.0 182.6L149.5 183.0L150.0 183.4L150.5 183.8L151.0 184.2L151.5 184.6L152.0 184.9L152.5 185.3L153.0 185.7L153.5 186.0L154.0 186.3L154.5 186.7L155.0 187.0L155.5 187.2L156.0 187.5L156.5 187.7L157.0 188.0L157.5 188.2L158.0 188.4L158.5 188.6L159.0 188.8L159.5 189.0L160.0 189.1L160.5 189.3L161.0 189.5L161.5 189.7L162.0 189.9L162.5 190.1L163.0 190.2L163.5 190.4L164.0 190.6L164.5 190.8L165.0 191.0L165.5 191.1L166.0 191.3L166.5 191.5L167.0 191.6L167.5 191.8L168.0 192.0L168.5 192.1L169.0 192.3L169.5 192.5L170.0 192.6L170.5 192.8L171.0 192.9L171.5 193.1L172.0 193.2L172.5 193.3L173.0 193.5L173.5 193.6L174.0 193.7L174.5 193.8L175.0 194.0L175.5 194.1L176.0 194.2L176.5 194.3L177.0 194.4L177.5 194.5L178.0 194.6L178.5 194.7L179.0 194.9L179.5 195.0L180.0 195.1L180.5 195.2L181.0 195.3L181.5 195.4L182.0 195.5L182.5 195.7L183.0 195.8L183.5 195.9L184.0 196.1L184.5 196.2L185.0 196.3L185.5 196.5L186.0 196.6L186.5 196.8L187.0 196.9L187.5 197.1L188.0 197.2L188.5 197.3L189.0 197.5L189.5 197.6L190.0 197.8L190.5 197.9L191.0 198.0L191.5 198.2L192.0 198.4L192.5 198.5L193.0 198.7L193.5 198.9L194.0 199.2L194.5 199.4L195.0 199.7L195.5 200.0L196.0 200.2" fill="none" stroke="#0000ff" stroke-width="1.6" stroke-linejoin="round"/><path d="M195.5 200.0L196.0 200.2L196.5 200.5L197.0 200.8L197.5 201.1L198.0 201.3L198.5 201.5L199.0 201.8L199.5 202.0L200.0 202.2L200.5 202.4L201.0 202.6L201.5 202.8L202.0 203.0L202.5 203.1L203.0 203.3L203.5 203.4L204.0 203.5L204.5 203.5L205.0 203.6" fill="none" stroke="#0000ff" stroke-width="2.1" stroke-linejoin="round"/><path d="M204.5 203.5L205.0 203.6L205.5 203.6L206.0 203.6L206.5 203.7L207.0 203.7L207.5 203.7L208.0 203.8L208.5 203.8L209.0 203.8L209.5 203.8L210.0 203.8L210.5 203.8L211.0 203.9L211.5 203.9L212.0 203.9L212.5 203.9L213.0 203.9L213.5 203.9L214.0 204.0L214.5 204.0L215.0 204.0L215.5 204.0L216.0 204.0L216.5 204.1L217.0 204.1L217.5 204.1L218.0 204.2L218.5 204.2L219.0 204.2L219.5 204.3L220.0 204.3L220.5 204.4L221.0 204.4L221.5 204.5L222.0 204.5L222.5 204.5L223.0 204.6L223.5 204.6L224.0 204.6L224.5 204.7L225.0 204.7L225.5 204.7L226.0 204.8L226.5 204.8L227.0 204.8L227.5 204.9L228.0 204.9L228.5 204.9L229.0 205.0L229.5 205.0L230.0 205.0L230.5 205.1L231.0 205.1L231.5 205.1L232.0 205.1L232.5 205.2L233.0 205.2L233.5 205.2L234.0 205.2L234.5 205.2L235.0 205.2L235.5 205.2L236.0 205.2L236.5 205.2L237.0 205.2L237.5 205.2L238.0 205.2L238.5 205.1L239.0 205.1L239.5 205.1L240.0 205.1L240.5 205.1L241.0 205.1L241.5 205.0L242.0 205.0L242.5 205.0L243.0 205.0L243.5 205.0L244.0 205.0L244.5 205.0L245.0 205.0L245.5 204.9L246.0 204.9L246.5 204.9L247.0 204.9L247.5 204.9L248.0 204.9L248.5 204.9L249.0 204.9L249.5 204.9L250.0 204.9L250.5 204.8L251.0 204.8L251.5 204.8L252.0 204.8L252.5 204.8L253.0 204.8L253.5 204.8L254.0 204.8L254.5 204.7L255.0 204.7L255.5 204.7L256.0 204.7L256.5 204.7L257.0 204.6L257.5 204.6L258.0 204.6L258.5 204.5L259.0 204.5L259.5 204.5L260.0 204.4L260.5 204.4L261.0 204.3L261.5 204.3L262.0 204.2L262.5 204.1L263.0 204.1L263.5 204.0L264.0 204.0L264.5 203.9L265.0 203.8L265.5 203.8L266.0 203.7L266.5 203.6L267.0 203.5L267.5 203.4L268.0 203.3L268.5 203.2L269.0 203.1L269.5 202.9L270.0 202.8L270.5 202.7L271.0 202.5L271.5 202.4L272.0 202.2L272.5 202.1L273.0 202.0L273.5 201.8L274.0 201.7L274.5 201.6L275.0 201.4L275.5 201.3L276.0 201.1L276.5 201.0L277.0 200.8L277.5 200.7L278.0 200.5L278.5 200.4L279.0 200.2L279.5 200.0L280.0 199.9L280.5 199.8L281.0 199.6L281.5 199.5L282.0 199.3L282.5 199.2L283.0 199.0L283.5 198.9L284.0 198.7L284.5 198.6L285.0 198.4L285.5 198.3L286.0 198.1L286.5 198.0L287.0 197.8L287.5 197.7L288.0 197.5L288.5 197.4L289.0 197.2L289.5 197.1L290.0 196.9L290.5 196.8L291.0 196.6L291.5 196.4L292.0 196.3" fill="none" stroke="#0000ff" stroke-width="2.6" stroke-linejoin="round"/><path d="M291.5 196.4L292.0 196.3L292.5 196.1L293.0 195.9L293.5 195.7L294.0 195.6L294.5 195.4L295.0 195.3L295.5 195.1L296.0 195.0L296.5 194.9L297.0 194.8L297.5 194.7L298.0 194.6L298.5 194.5L299.0 194.4L299.5 194.3L300.0 194.2" fill="none" stroke="#0000ff" stroke-width="2.0" stroke-linejoin="round"/><path d="M299.5 194.3L300.0 194.2L300.5 194.2L301.0 194.1L301.5 194.0L302.0 193.9L302.5 193.9L303.0 193.8L303.5 193.8L304.0 193.8L304.5 193.8L305.0 193.8L305.5 193.8L306.0 193.8L306.5 193.8L307.0 193.8L307.5 193.8L308.0 193.8L308.5 193.8L309.0 193.8L309.5 193.8L310.0 193.8L310.5 193.8L311.0 193.8L311.5 193.8L312.0 193.8L312.5 193.8L313.0 193.8L313.5 193.9L314.0 193.9L314.5 194.0L315.0 194.1L315.5 194.1L316.0 194.2L316.5 194.3L317.0 194.4L317.5 194.5L318.0 194.6L318.5 194.7L319.0 194.8L319.5 194.9L320.0 195.0L320.5 195.2L321.0 195.4L321.5 195.5L322.0 195.7L322.5 195.9L323.0 196.2L323.5 196.4L324.0 196.6L324.5 196.8L325.0 197.0L325.5 197.2L326.0 197.4L326.5 197.6L327.0 197.8L327.5 197.9L328.0 198.1L328.5 198.2L329.0 198.3L329.5 198.4L330.0 198.6L330.5 198.7L331.0 198.8L331.5 198.9L332.0 199.0L332.5 199.2L333.0 199.3L333.5 199.4L334.0 199.5L334.5 199.5L335.0 199.6L335.5 199.7L336.0 199.8L336.5 199.9L337.0 199.9L337.5 200.0L338.0 200.0L338.5 200.1L339.0 200.1L339.5 200.2L340.0 200.2L340.5 200.3L341.0 200.3L341.5 200.4L342.0 200.4L342.5 200.4L343.0 200.5L343.5 200.5L344.0 200.6L344.5 200.6L345.0 200.6L345.5 200.7L346.0 200.7L346.5 200.8L347.0 200.8L347.5 200.8L348.0 200.9L348.5 200.9L349.0 201.0L349.5 201.0L350.0 201.1L350.5 201.1L351.0 201.2L351.5 201.2L352.0 201.3L352.5 201.3L353.0 201.4L353.5 201.4L354.0 201.5L354.5 201.5L355.0 201.6L355.5 201.6L356.0 201.7L356.5 201.7L357.0 201.8" fill="none" stroke="#0000ff" stroke-width="1.5" stroke-linejoin="round"/>
<path d="M66.0 185.9L66.5 186.0L67.0 186.2L67.5 186.3L68.0 186.4L68.5 186.5L69.0 186.7L69.5 186.8L70.0 186.9L70.5 187.0L71.0 187.2L71.5 187.3L72.0 187.4L72.5 187.5L73.0 187.6L73.5 187.8L74.0 187.9L74.5 188.0L75.0 188.1L75.5 188.2L76.0 188.3L76.5 188.4L77.0 188.6L77.5 188.7L78.0 188.8L78.5 188.9L79.0 189.0L79.5 189.2L80.0 189.3L80.5 189.4L81.0 189.5L81.5 189.6L82.0 189.7L82.5 189.8L83.0 189.9L83.5 190.0L84.0 190.1L84.5 190.1L85.0 190.2L85.5 190.3L86.0 190.3L86.5 190.3L87.0 190.4L87.5 190.4L88.0 190.4L88.5 190.5L89.0 190.5L89.5 190.5L90.0 190.6L90.5 190.6L91.0 190.6L91.5 190.6L92.0 190.6L92.5 190.6L93.0 190.5L93.5 190.4L94.0 190.3L94.5 190.1L95.0 189.9L95.5 189.7L96.0 189.4L96.5 189.2L97.0 189.0L97.5 188.7L98.0 188.4L98.5 188.1L99.0 187.7L99.5 187.3L100.0 186.8L100.5 186.3L101.0 185.8L101.5 185.3L102.0 184.7L102.5 184.0L103.0 183.3L103.5 182.4L104.0 181.6L104.5 180.7L105.0 179.8L105.5 178.9L106.0 177.9L106.5 177.0L107.0 176.0L107.5 175.0L108.0 173.9L108.5 172.8L109.0 171.6L109.5 170.4L110.0 169.2L110.5 167.8L111.0 166.3L111.5 164.7L112.0 162.8L112.5 160.4L113.0 157.7L113.5 155.0L114.0 152.4L114.5 150.2L115.0 148.5L115.5 147.1L116.0 145.7L116.5 144.4L117.0 142.9L117.5 141.0L118.0 138.5L118.5 135.3L119.0 132.0L119.5 129.0L120.0 126.6L120.5 124.4L121.0 121.9L121.5 118.4L122.0 113.1L122.5 106.6L123.0 98.0L123.5 89.4L124.0 81.6L124.5 74.2L125.0 67.1L125.5 60.3L126.0 53.2L126.5 47.5L127.0 44.3L127.5 41.7L128.0 40.0L128.5 39.5L129.0 40.3L129.5 42.1L130.0 44.4L130.5 47.3L131.0 52.3L131.5 58.8L132.0 66.1L132.5 75.9L133.0 86.0L133.5 93.8L134.0 100.0L134.5 105.5L135.0 110.8L135.5 116.3L136.0 122.6L136.5 129.7L137.0 136.9L137.5 143.8L138.0 150.6L138.5 158.4L139.0 163.3L139.5 165.6L140.0 167.5L140.5 169.6L141.0 171.7L141.5 173.6L142.0 175.3L142.5 177.0L143.0 178.6L143.5 179.9L144.0 181.1L144.5 182.1L145.0 183.1L145.5 183.9L146.0 184.7L146.5 185.4L147.0 186.1L147.5 186.8L148.0 187.4L148.5 188.1L149.0 188.6L149.5 189.2L150.0 189.6L150.5 190.0L151.0 190.3L151.5 190.6L152.0 190.9L152.5 191.2L153.0 191.5L153.5 191.7L154.0 191.9L154.5 192.2L155.0 192.4L155.5 192.6L156.0 192.8L156.5 193.0L157.0 193.2L157.5 193.3L158.0 193.5L158.5 193.7L159.0 193.8L159.5 194.0L160.0 194.2L160.5 194.3L161.0 194.5L161.5 194.7L162.0 194.8L162.5 195.0L163.0 195.2L163.5 195.3L164.0 195.5L164.5 195.6L165.0 195.8L165.5 195.9L166.0 196.1L166.5 196.2L167.0 196.3L167.5 196.5L168.0 196.6L168.5 196.7L169.0 196.9L169.5 197.0L170.0 197.1L170.5 197.2L171.0 197.3L171.5 197.4L172.0 197.5L172.5 197.6L173.0 197.7L173.5 197.8L174.0 197.9L174.5 197.9L175.0 198.0L175.5 198.1L176.0 198.2L176.5 198.2L177.0 198.3L177.5 198.4L178.0 198.5L178.5 198.5L179.0 198.6L179.5 198.7L180.0 198.7L180.5 198.8L181.0 198.8L181.5 198.9L182.0 198.9L182.5 199.0L183.0 199.0L183.5 199.0L184.0 199.1L184.5 199.1L185.0 199.1L185.5 199.1L186.0 199.2L186.5 199.2L187.0 199.2L187.5 199.2L188.0 199.3L188.5 199.3L189.0 199.3L189.5 199.4L190.0 199.4L190.5 199.5L191.0 199.5L191.5 199.6L192.0 199.7L192.5 199.8L193.0 199.9L193.5 200.0L194.0 200.2L194.5 200.3L195.0 200.4L195.5 200.5L196.0 200.7L196.5 200.8L197.0 200.9L197.5 201.0L198.0 201.1L198.5 201.1L199.0 201.2L199.5 201.2L200.0 201.3L200.5 201.3L201.0 201.3L201.5 201.4L202.0 201.4L202.5 201.4L203.0 201.5L203.5 201.5L204.0 201.5L204.5 201.5L205.0 201.6L205.5 201.6L206.0 201.6L206.5 201.6L207.0 201.6L207.5 201.7L208.0 201.7L208.5 201.7L209.0 201.7L209.5 201.7L210.0 201.8L210.5 201.8L211.0 201.8L211.5 201.8L212.0 201.9L212.5 201.9L213.0 201.9L213.5 201.9L214.0 202.0L214.5 202.0L215.0 202.0L215.5 202.0L216.0 202.1L216.5 202.1L217.0 202.1L217.5 202.1L218.0 202.2L218.5 202.2L219.0 202.2L219.5 202.2L220.0 202.3L220.5 202.3L221.0 202.3L221.5 202.3L222.0 202.3L222.5 202.4L223.0 202.4L223.5 202.4L224.0 202.4L224.5 202.4L225.0 202.5L225.5 202.5L226.0 202.5L226.5 202.5L227.0 202.5L227.5 202.6L228.0 202.6L228.5 202.6L229.0 202.6L229.5 202.6L230.0 202.6L230.5 202.6L231.0 202.6L231.5 202.5L232.0 202.5L232.5 202.5L233.0 202.4L233.5 202.4L234.0 202.3L234.5 202.2L235.0 202.2L235.5 202.1L236.0 202.0L236.5 202.0L237.0 201.9L237.5 201.8L238.0 201.8L238.5 201.7L239.0 201.6L239.5 201.5L240.0 201.4L240.5 201.3L241.0 201.2L241.5 201.1L242.0 201.1L242.5 201.0L243.0 200.9L243.5 200.8L244.0 200.7L244.5 200.6L245.0 200.6L245.5 200.5L246.0 200.5L246.5 200.5L247.0 200.5L247.5 200.5L248.0 200.5L248.5 200.6L249.0 200.6L249.5 200.7L250.0 200.7L250.5 200.8L251.0 200.8L251.5 200.9L252.0 200.9L252.5 201.0L253.0 201.1L253.5 201.1L254.0 201.1L254.5 201.2L255.0 201.2L255.5 201.2L256.0 201.2L256.5 201.2L257.0 201.2L257.5 201.2L258.0 201.2L258.5 201.1L259.0 201.1L259.5 201.1L260.0 201.1L260.5 201.0L261.0 201.0L261.5 201.0L262.0 200.9L262.5 200.9L263.0 200.8L263.5 200.8L264.0 200.7L264.5 200.6L265.0 200.5L265.5 200.3L266.0 200.2L266.5 200.0L267.0 199.8L267.5 199.6L268.0 199.4L268.5 199.2L269.0 199.0L269.5 198.7L270.0 198.3L270.5 197.9L271.0 197.5L271.5 197.1L272.0 196.7L272.5 196.3L273.0 195.9L273.5 195.5L274.0 195.1L274.5 194.7L275.0 194.3L275.5 193.9L276.0 193.6L276.5 193.2L277.0 192.8L277.5 192.4L278.0 192.0L278.5 191.7L279.0 191.3L279.5 190.8L280.0 190.4L280.5 190.1L281.0 189.8L281.5 189.6L282.0 189.4L282.5 189.2L283.0 189.0L283.5 188.9L284.0 188.7L284.5 188.6L285.0 188.5L285.5 188.4L286.0 188.3L286.5 188.3L287.0 188.3L287.5 188.3L288.0 188.4L288.5 188.5L289.0 188.6L289.5 188.7L290.0 188.8L290.5 189.0L291.0 189.2L291.5 189.3L292.0 189.5L292.5 189.7L293.0 189.9L293.5 190.1L294.0 190.3L294.5 190.6L295.0 190.9L295.5 191.3L296.0 191.6L296.5 191.9L297.0 192.3L297.5 192.6L298.0 193.0L298.5 193.3L299.0 193.6L299.5 193.9L300.0 194.3L300.5 194.6L301.0 195.0L301.5 195.3L302.0 195.6L302.5 196.0L303.0 196.3L303.5 196.6L304.0 196.8L304.5 197.1L305.0 197.3L305.5 197.6L306.0 197.8L306.5 198.0L307.0 198.2L307.5 198.5L308.0 198.7L308.5 198.8L309.0 199.0L309.5 199.2L310.0 199.4L310.5 199.5L311.0 199.7L311.5 199.8L312.0 200.0L312.5 200.1L313.0 200.2L313.5 200.3L314.0 200.5L314.5 200.6L315.0 200.7L315.5 200.8L316.0 200.9L316.5 200.9L317.0 201.0L317.5 201.1L318.0 201.2L318.5 201.3L319.0 201.4L319.5 201.5L320.0 201.6L320.5 201.7L321.0 201.8L321.5 201.9L322.0 202.0L322.5 202.1L323.0 202.2L323.5 202.3L324.0 202.4L324.5 202.4L325.0 202.5L325.5 202.6L326.0 202.7L326.5 202.7L327.0 202.8L327.5 202.8L328.0 202.8L328.5 202.8L329.0 202.8L329.5 202.9L330.0 202.9L330.5 202.9L331.0 202.9L331.5 202.9L332.0 203.0L332.5 203.0L333.0 203.0L333.5 203.0L334.0 203.0L334.5 203.0L335.0 203.0L335.5 203.0L336.0 203.1L336.5 203.1L337.0 203.1L337.5 203.1L338.0 203.1L338.5 203.1L339.0 203.1L339.5 203.1L340.0 203.1L340.5 203.1L341.0 203.1L341.5 203.1L342.0 203.1L342.5 203.1L343.0 203.1L343.5 203.0L344.0 203.0L344.5 203.0L345.0 203.0L345.5 203.0L346.0 202.9L346.5 202.9L347.0 202.9L347.5 202.9L348.0 202.9L348.5 202.8L349.0 202.8L349.5 202.8L350.0 202.8L350.5 202.8L351.0 202.8L351.5 202.8L352.0 202.8L352.5 202.9L353.0 202.9L353.5 203.0L354.0 203.1L354.5 203.2L355.0 203.3L355.5 203.4L356.0 203.5L356.5 203.6L357.0 203.7" fill="none" stroke="#ff0000" stroke-width="2.4" stroke-linejoin="round"/>
</g>
<g clip-path="url(#clipB)">
<path d="M417.5 167.7L418.0 167.9L418.5 168.1L419.0 168.3L419.5 168.5L420.0 168.7L420.5 168.9L421.0 169.1L421.5 169.3L422.0 169.5L422.5 169.7L423.0 169.9L423.5 170.1L424.0 170.3L424.5 170.5L425.0 170.7L425.5 170.9L426.0 171.1L426.5 171.2L427.0 171.3L427.5 171.4L428.0 171.4L428.5 171.3L429.0 171.1L429.5 170.8L430.0 170.4L430.5 169.9L431.0 169.4L431.5 168.8L432.0 168.0L432.5 166.7L433.0 165.2L433.5 163.7L434.0 162.0L434.5 160.1L435.0 158.1L435.5 156.2L436.0 154.5L436.5 153.2L437.0 152.0L437.5 150.9L438.0 149.8L438.5 148.7L439.0 147.5L439.5 146.2L440.0 144.5L440.5 142.6L441.0 140.5L441.5 138.1L442.0 135.7L442.5 132.9L443.0 129.0L443.5 122.8L444.0 115.9L444.5 110.4L445.0 106.1L445.5 102.3L446.0 98.7L446.5 95.3L447.0 92.1L447.5 89.1L448.0 86.0L448.5 82.6L449.0 78.4L449.5 73.4L450.0 68.5L450.5 64.8L451.0 62.0L451.5 59.4L452.0 57.4L452.5 56.1L453.0 55.8L453.5 56.3L454.0 57.2L454.5 58.4L455.0 60.0L455.5 61.8L456.0 63.7L456.5 66.1L457.0 69.6L457.5 73.9L458.0 78.8L458.5 84.1L459.0 90.7L459.5 97.9L460.0 104.7L460.5 111.2L461.0 117.9L461.5 123.5L462.0 127.1L462.5 129.4L463.0 131.3L463.5 132.8L464.0 134.1L464.5 135.4L465.0 136.8L465.5 138.5L466.0 140.4L466.5 142.4L467.0 144.4L467.5 146.4L468.0 148.5L468.5 150.4L469.0 152.3L469.5 153.9L470.0 155.6L470.5 157.3L471.0 158.9L471.5 160.4L472.0 161.9L472.5 163.4L473.0 164.7L473.5 166.0L474.0 167.2L474.5 168.3L475.0 169.3L475.5 170.3L476.0 171.1L476.5 171.9L477.0 172.7L477.5 173.5L478.0 174.2L478.5 174.9L479.0 175.6L479.5 176.2L480.0 176.9L480.5 177.6L481.0 178.3L481.5 179.0L482.0 179.7L482.5 180.4L483.0 181.1L483.5 181.7L484.0 182.3L484.5 182.9L485.0 183.3L485.5 183.8L486.0 184.2L486.5 184.6L487.0 185.0L487.5 185.3L488.0 185.6L488.5 186.0L489.0 186.3L489.5 186.5L490.0 186.8L490.5 187.0L491.0 187.3L491.5 187.5L492.0 187.7L492.5 187.9L493.0 188.0L493.5 188.2L494.0 188.4L494.5 188.5L495.0 188.7L495.5 188.8L496.0 189.0L496.5 189.1L497.0 189.3L497.5 189.4L498.0 189.5L498.5 189.7L499.0 189.8L499.5 189.9L500.0 190.1L500.5 190.2L501.0 190.4L501.5 190.5L502.0 190.7L502.5 190.8L503.0 191.0L503.5 191.2L504.0 191.4L504.5 191.6L505.0 191.8L505.5 192.0L506.0 192.1L506.5 192.3L507.0 192.5L507.5 192.7L508.0 192.8L508.5 193.0L509.0 193.1L509.5 193.2L510.0 193.3L510.5 193.4L511.0 193.5L511.5 193.5L512.0 193.6L512.5 193.5L513.0 193.5L513.5 193.4L514.0 193.3L514.5 193.2L515.0 193.1L515.5 192.9L516.0 192.8L516.5 192.6L517.0 192.4L517.5 192.3L518.0 192.1L518.5 192.0L519.0 191.8L519.5 191.6L520.0 191.4L520.5 191.2L521.0 191.0L521.5 190.8L522.0 190.7L522.5 190.5L523.0 190.4L523.5 190.3L524.0 190.2L524.5 190.2L525.0 190.2L525.5 190.2L526.0 190.3L526.5 190.4L527.0 190.6L527.5 190.7L528.0 190.9L528.5 191.1L529.0 191.3L529.5 191.5L530.0 191.8L530.5 192.0L531.0 192.3L531.5 192.5L532.0 192.8L532.5 193.0L533.0 193.3L533.5 193.6L534.0 193.9L534.5 194.3L535.0 194.7L535.5 195.2L536.0 195.6L536.5 196.1L537.0 196.5L537.5 196.9L538.0 197.3L538.5 197.6L539.0 197.8L539.5 198.0L540.0 198.2L540.5 198.4L541.0 198.5L541.5 198.6L542.0 198.8L542.5 198.9L543.0 199.0L543.5 199.1L544.0 199.2L544.5 199.3L545.0 199.3L545.5 199.4L546.0 199.4L546.5 199.4L547.0 199.3L547.5 199.3L548.0 199.2L548.5 199.1L549.0 199.0L549.5 198.9L550.0 198.8L550.5 198.7L551.0 198.7L551.5 198.6L552.0 198.6L552.5 198.5L553.0 198.5L553.5 198.6L554.0 198.6L554.5 198.6L555.0 198.7L555.5 198.8L556.0 198.9L556.5 198.9L557.0 199.0L557.5 199.1L558.0 199.3L558.5 199.4L559.0 199.5L559.5 199.6L560.0 199.7L560.5 199.9L561.0 200.1L561.5 200.4L562.0 200.6L562.5 201.0L563.0 201.3L563.5 201.6L564.0 201.9L564.5 202.2L565.0 202.5L565.5 202.7L566.0 202.9L566.5 203.0L567.0 203.0L567.5 203.1L568.0 203.1L568.5 203.2L569.0 203.2L569.5 203.3L570.0 203.3L570.5 203.4L571.0 203.4L571.5 203.4L572.0 203.5L572.5 203.5L573.0 203.5L573.5 203.6L574.0 203.6L574.5 203.6L575.0 203.6L575.5 203.7L576.0 203.7L576.5 203.7L577.0 203.7L577.5 203.7L578.0 203.7L578.5 203.7L579.0 203.7L579.5 203.7L580.0 203.7L580.5 203.7L581.0 203.7L581.5 203.6L582.0 203.6L582.5 203.5L583.0 203.5L583.5 203.4L584.0 203.3L584.5 203.2L585.0 203.2L585.5 203.1L586.0 203.1L586.5 203.0L587.0 203.0L587.5 203.0L588.0 203.0L588.5 203.0L589.0 203.0L589.5 203.0L590.0 203.0L590.5 203.1L591.0 203.1L591.5 203.2L592.0 203.3L592.5 203.4L593.0 203.4L593.5 203.5L594.0 203.6L594.5 203.7L595.0 203.8L595.5 203.9L596.0 204.0L596.5 204.1L597.0 204.2L597.5 204.4L598.0 204.5L598.5 204.6L599.0 204.7L599.5 204.8L600.0 204.9L600.5 204.9L601.0 205.0L601.5 205.1L602.0 205.2L602.5 205.3L603.0 205.4L603.5 205.5L604.0 205.6L604.5 205.7L605.0 205.8L605.5 205.9L606.0 206.0L606.5 206.1L607.0 206.2L607.5 206.2L608.0 206.3L608.5 206.4L609.0 206.5L609.5 206.6L610.0 206.6L610.5 206.7L611.0 206.7L611.5 206.8L612.0 206.8L612.5 206.8L613.0 206.8L613.5 206.8L614.0 206.8L614.5 206.8L615.0 206.7L615.5 206.7L616.0 206.7L616.5 206.7L617.0 206.6L617.5 206.6L618.0 206.6L618.5 206.5L619.0 206.5L619.5 206.5L620.0 206.4L620.5 206.4L621.0 206.4L621.5 206.3L622.0 206.3L622.5 206.3L623.0 206.2L623.5 206.2L624.0 206.2L624.5 206.2L625.0 206.2L625.5 206.2L626.0 206.1L626.5 206.1L627.0 206.1L627.5 206.1L628.0 206.1L628.5 206.1L629.0 206.1L629.5 206.1L630.0 206.1L630.5 206.1L631.0 206.1L631.5 206.2L632.0 206.4L632.5 206.5L633.0 206.8L633.5 207.0L634.0 207.2L634.5 207.4L635.0 207.6L635.5 207.7L636.0 207.8L636.5 207.9L637.0 207.9L637.5 208.0L638.0 208.0L638.5 208.1L639.0 208.1L639.5 208.2L640.0 208.2L640.5 208.3L641.0 208.3L641.5 208.4L642.0 208.4L642.5 208.4L643.0 208.5L643.5 208.5L644.0 208.5L644.5 208.5L645.0 208.6L645.5 208.6L646.0 208.6L646.5 208.6L647.0 208.7L647.5 208.7L648.0 208.7L648.5 208.7L649.0 208.8L649.5 208.8L650.0 208.8L650.5 208.8L651.0 208.9L651.5 208.9L652.0 208.9L652.5 208.9L653.0 209.0L653.5 209.0L654.0 209.0L654.5 209.1L655.0 209.1L655.5 209.1L656.0 209.2L656.5 209.2L657.0 209.2L657.5 209.2L658.0 209.3L658.5 209.3L659.0 209.3L659.5 209.4L660.0 209.4L660.5 209.4L661.0 209.4L661.5 209.5L662.0 209.5L662.5 209.5L663.0 209.5L663.5 209.6L664.0 209.6L664.5 209.6L665.0 209.6L665.5 209.7L666.0 209.7L666.5 209.7L667.0 209.7L667.5 209.7L668.0 209.8L668.5 209.8L669.0 209.8L669.5 209.8L670.0 209.8L670.5 209.8L671.0 209.8L671.5 209.8L672.0 209.8L672.5 209.8L673.0 209.8L673.5 209.8L674.0 209.8L674.5 209.8L675.0 209.8L675.5 209.8L676.0 209.8L676.5 209.9L677.0 209.9L677.5 209.9L678.0 209.9L678.5 209.9L679.0 209.9L679.5 209.9L680.0 209.9L680.5 209.9L681.0 209.9L681.5 209.9L682.0 209.9L682.5 209.7L683.0 209.6L683.5 209.3L684.0 209.0L684.5 208.6L685.0 208.3L685.5 207.9L686.0 207.6L686.5 207.2L687.0 206.9L687.5 206.7L688.0 206.4L688.5 206.2L689.0 205.9L689.5 205.7L690.0 205.5L690.5 205.2L691.0 205.0L691.5 204.8L692.0 204.6L692.5 204.4L693.0 204.2L693.5 204.0L694.0 203.9L694.5 203.7L695.0 203.6L695.5 203.5L696.0 203.3L696.5 203.2L697.0 203.1L697.5 203.0L698.0 202.8L698.5 202.7L699.0 202.6L699.5 202.5L700.0 202.4L700.5 202.3L701.0 202.2L701.5 202.1L702.0 202.0L702.5 201.9L703.0 201.8L703.5 201.7L704.0 201.7L704.5 201.6L705.0 201.6L705.5 201.5L706.0 201.5L706.5 201.4L707.0 201.4L707.5 201.4L708.0 201.4" fill="none" stroke="#707070" stroke-width="0.65"/>
<path d="M417.5 167.4L418.0 167.6L418.5 167.8L419.0 168.0L419.5 168.2L420.0 168.4L420.5 168.6L421.0 168.8L421.5 169.0L422.0 169.2L422.5 169.4L423.0 169.6L423.5 169.8L424.0 170.0L424.5 170.2L425.0 170.4L425.5 170.6L426.0 170.8L426.5 170.9L427.0 171.0L427.5 171.1L428.0 171.1L428.5 171.0L429.0 170.8L429.5 170.5L430.0 170.1L430.5 169.7L431.0 169.2L431.5 168.6L432.0 167.8L432.5 166.6L433.0 165.2L433.5 163.7L434.0 162.0L434.5 160.1L435.0 158.2L435.5 156.4L436.0 154.8L436.5 153.4L437.0 152.3L437.5 151.2L438.0 150.2L438.5 149.1L439.0 147.9L439.5 146.6L440.0 145.0L440.5 143.2L441.0 141.1L441.5 138.8L442.0 136.3L442.5 133.6L443.0 129.8L443.5 123.8L444.0 117.1L444.5 111.7L445.0 107.6L445.5 103.8L446.0 100.4L446.5 97.0L447.0 93.8L447.5 90.9L448.0 87.9L448.5 84.5L449.0 80.4L449.5 75.5L450.0 70.7L450.5 67.0L451.0 64.3L451.5 61.8L452.0 59.7L452.5 58.4L453.0 58.1L453.5 58.5L454.0 59.3L454.5 60.5L455.0 61.9L455.5 63.6L456.0 65.4L456.5 67.6L457.0 70.9L457.5 75.0L458.0 79.6L458.5 84.7L459.0 91.0L459.5 97.9L460.0 104.3L460.5 110.6L461.0 116.9L461.5 122.3L462.0 125.7L462.5 127.8L463.0 129.5L463.5 130.8L464.0 132.0L464.5 133.1L465.0 134.4L465.5 135.9L466.0 137.6L466.5 139.4L467.0 141.3L467.5 143.3L468.0 145.3L468.5 147.2L469.0 149.0L469.5 150.8L470.0 152.5L470.5 154.2L471.0 155.9L471.5 157.5L472.0 159.1L472.5 160.7L473.0 162.2L473.5 163.6L474.0 165.0L474.5 166.2L475.0 167.4L475.5 168.4L476.0 169.3L476.5 170.2L477.0 171.1L477.5 171.9L478.0 172.8L478.5 173.6L479.0 174.3L479.5 175.0L480.0 175.8L480.5 176.5L481.0 177.3L481.5 178.0L482.0 178.8L482.5 179.6L483.0 180.3L483.5 180.9L484.0 181.6L484.5 182.2L485.0 182.7L485.5 183.1L486.0 183.6L486.5 184.0L487.0 184.4L487.5 184.8L488.0 185.1L488.5 185.4L489.0 185.7L489.5 186.0L490.0 186.2L490.5 186.5L491.0 186.7L491.5 186.9L492.0 187.1L492.5 187.2L493.0 187.4L493.5 187.5L494.0 187.7L494.5 187.8L495.0 188.0L495.5 188.1L496.0 188.2L496.5 188.3L497.0 188.4L497.5 188.6L498.0 188.7L498.5 188.8L499.0 188.9L499.5 189.1L500.0 189.2L500.5 189.3L501.0 189.5L501.5 189.6L502.0 189.8L502.5 190.0L503.0 190.2L503.5 190.3L504.0 190.5L504.5 190.7L505.0 190.9L505.5 191.1L506.0 191.3L506.5 191.5L507.0 191.7L507.5 191.8L508.0 192.0L508.5 192.1L509.0 192.3L509.5 192.4L510.0 192.5L510.5 192.6L511.0 192.6L511.5 192.7L512.0 192.7L512.5 192.7L513.0 192.7L513.5 192.6L514.0 192.5L514.5 192.4L515.0 192.2L515.5 192.1L516.0 191.9L516.5 191.7L517.0 191.6L517.5 191.4L518.0 191.2L518.5 191.1L519.0 190.9L519.5 190.7L520.0 190.5L520.5 190.3L521.0 190.1L521.5 189.9L522.0 189.7L522.5 189.6L523.0 189.4L523.5 189.3L524.0 189.3L524.5 189.3L525.0 189.3L525.5 189.3L526.0 189.4L526.5 189.5L527.0 189.7L527.5 189.9L528.0 190.0L528.5 190.3L529.0 190.5L529.5 190.7L530.0 191.0L530.5 191.2L531.0 191.5L531.5 191.7L532.0 192.0L532.5 192.2L533.0 192.5L533.5 192.8L534.0 193.2L534.5 193.6L535.0 194.0L535.5 194.4L536.0 194.9L536.5 195.3L537.0 195.7L537.5 196.1L538.0 196.5L538.5 196.8L539.0 197.0L539.5 197.2L540.0 197.4L540.5 197.5L541.0 197.7L541.5 197.8L542.0 198.0L542.5 198.1L543.0 198.2L543.5 198.3L544.0 198.4L544.5 198.5L545.0 198.5L545.5 198.6L546.0 198.6L546.5 198.6L547.0 198.5L547.5 198.5L548.0 198.4L548.5 198.3L549.0 198.2L549.5 198.1L550.0 198.1L550.5 198.0L551.0 197.9L551.5 197.8L552.0 197.8L552.5 197.8L553.0 197.8L553.5 197.8L554.0 197.8L554.5 197.9L555.0 198.0L555.5 198.0L556.0 198.1L556.5 198.2L557.0 198.3L557.5 198.4L558.0 198.5L558.5 198.6L559.0 198.7L559.5 198.8L560.0 198.9L560.5 199.1L561.0 199.3L561.5 199.6L562.0 199.9L562.5 200.2L563.0 200.5L563.5 200.8L564.0 201.1L564.5 201.4L565.0 201.7L565.5 201.9L566.0 202.1L566.5 202.2L567.0 202.2L567.5 202.3L568.0 202.3L568.5 202.4L569.0 202.4L569.5 202.5L570.0 202.5L570.5 202.5L571.0 202.6L571.5 202.6L572.0 202.6L572.5 202.7L573.0 202.7L573.5 202.7L574.0 202.7L574.5 202.8L575.0 202.8L575.5 202.8L576.0 202.8L576.5 202.8L577.0 202.8L577.5 202.9L578.0 202.9L578.5 202.9L579.0 202.9L579.5 202.9L580.0 202.9L580.5 202.8L581.0 202.8L581.5 202.8L582.0 202.7L582.5 202.7L583.0 202.6L583.5 202.5L584.0 202.5L584.5 202.4L585.0 202.3L585.5 202.3L586.0 202.2L586.5 202.2L587.0 202.1L587.5 202.1L588.0 202.1L588.5 202.1L589.0 202.1L589.5 202.2L590.0 202.2L590.5 202.2L591.0 202.3L591.5 202.4L592.0 202.4L592.5 202.5L593.0 202.6L593.5 202.7L594.0 202.8L594.5 202.9L595.0 203.0L595.5 203.1L596.0 203.2L596.5 203.3L597.0 203.4L597.5 203.5L598.0 203.6L598.5 203.7L599.0 203.8L599.5 203.9L600.0 204.0L600.5 204.1L601.0 204.2L601.5 204.3L602.0 204.4L602.5 204.4L603.0 204.5L603.5 204.6L604.0 204.7L604.5 204.8L605.0 204.9L605.5 205.0L606.0 205.1L606.5 205.2L607.0 205.3L607.5 205.4L608.0 205.5L608.5 205.6L609.0 205.7L609.5 205.7L610.0 205.8L610.5 205.9L611.0 205.9L611.5 205.9L612.0 206.0L612.5 206.0L613.0 206.0L613.5 206.0L614.0 206.0L614.5 206.0L615.0 205.9L615.5 205.9L616.0 205.9L616.5 205.9L617.0 205.8L617.5 205.8L618.0 205.8L618.5 205.7L619.0 205.7L619.5 205.6L620.0 205.6L620.5 205.5L621.0 205.5L621.5 205.5L622.0 205.4L622.5 205.4L623.0 205.3L623.5 205.3L624.0 205.3L624.5 205.3L625.0 205.3L625.5 205.2L626.0 205.2L626.5 205.2L627.0 205.2L627.5 205.2L628.0 205.2L628.5 205.1L629.0 205.1L629.5 205.1L630.0 205.1L630.5 205.1L631.0 205.2L631.5 205.3L632.0 205.4L632.5 205.6L633.0 205.8L633.5 206.0L634.0 206.2L634.5 206.4L635.0 206.6L635.5 206.8L636.0 206.9L636.5 206.9L637.0 207.0L637.5 207.0L638.0 207.1L638.5 207.1L639.0 207.2L639.5 207.2L640.0 207.3L640.5 207.3L641.0 207.3L641.5 207.4L642.0 207.4L642.5 207.4L643.0 207.5L643.5 207.5L644.0 207.5L644.5 207.5L645.0 207.6L645.5 207.6L646.0 207.6L646.5 207.7L647.0 207.7L647.5 207.7L648.0 207.7L648.5 207.8L649.0 207.8L649.5 207.8L650.0 207.9L650.5 207.9L651.0 207.9L651.5 207.9L652.0 208.0L652.5 208.0L653.0 208.0L653.5 208.1L654.0 208.1L654.5 208.1L655.0 208.2L655.5 208.2L656.0 208.2L656.5 208.3L657.0 208.3L657.5 208.3L658.0 208.4L658.5 208.4L659.0 208.4L659.5 208.5L660.0 208.5L660.5 208.5L661.0 208.6L661.5 208.6L662.0 208.6L662.5 208.6L663.0 208.7L663.5 208.7L664.0 208.7L664.5 208.8L665.0 208.8L665.5 208.8L666.0 208.8L666.5 208.9L667.0 208.9L667.5 208.9L668.0 208.9L668.5 208.9L669.0 209.0L669.5 209.0L670.0 209.0L670.5 209.0L671.0 209.0L671.5 209.0L672.0 209.0L672.5 209.0L673.0 209.0L673.5 209.1L674.0 209.1L674.5 209.1L675.0 209.1L675.5 209.1L676.0 209.1L676.5 209.1L677.0 209.1L677.5 209.1L678.0 209.1L678.5 209.1L679.0 209.1L679.5 209.1L680.0 209.1L680.5 209.1L681.0 209.2L681.5 209.2L682.0 209.1L682.5 209.0L683.0 208.8L683.5 208.6L684.0 208.3L684.5 207.9L685.0 207.6L685.5 207.2L686.0 206.9L686.5 206.5L687.0 206.3L687.5 206.0L688.0 205.8L688.5 205.5L689.0 205.3L689.5 205.0L690.0 204.8L690.5 204.6L691.0 204.4L691.5 204.1L692.0 203.9L692.5 203.7L693.0 203.6L693.5 203.4L694.0 203.2L694.5 203.1L695.0 202.9L695.5 202.8L696.0 202.7L696.5 202.6L697.0 202.4L697.5 202.3L698.0 202.2L698.5 202.1L699.0 201.9L699.5 201.8L700.0 201.7L700.5 201.6L701.0 201.5L701.5 201.4L702.0 201.3L702.5 201.3L703.0 201.2L703.5 201.1L704.0 201.0L704.5 201.0L705.0 200.9L705.5 200.9L706.0 200.8L706.5 200.8L707.0 200.7L707.5 200.7L708.0 200.7" fill="none" stroke="#8a8a8a" stroke-width="0.65"/>
<path d="M417.5 167.0L418.0 167.2L418.5 167.4L419.0 167.6L419.5 167.8L420.0 168.0L420.5 168.2L421.0 168.4L421.5 168.6L422.0 168.8L422.5 169.0L423.0 169.2L423.5 169.4L424.0 169.6L424.5 169.8L425.0 170.0L425.5 170.2L426.0 170.4L426.5 170.5L427.0 170.6L427.5 170.7L428.0 170.7L428.5 170.6L429.0 170.5L429.5 170.2L430.0 169.8L430.5 169.4L431.0 168.9L431.5 168.4L432.0 167.6L432.5 166.4L433.0 165.1L433.5 163.7L434.0 162.0L434.5 160.2L435.0 158.4L435.5 156.6L436.0 155.1L436.5 153.8L437.0 152.7L437.5 151.6L438.0 150.6L438.5 149.6L439.0 148.5L439.5 147.2L440.0 145.6L440.5 143.8L441.0 141.8L441.5 139.6L442.0 137.2L442.5 134.6L443.0 131.0L443.5 125.2L444.0 118.7L444.5 113.5L445.0 109.5L445.5 105.9L446.0 102.5L446.5 99.2L447.0 96.2L447.5 93.3L448.0 90.3L448.5 87.1L449.0 83.1L449.5 78.3L450.0 73.6L450.5 70.1L451.0 67.4L451.5 64.9L452.0 62.8L452.5 61.5L453.0 61.2L453.5 61.5L454.0 62.1L454.5 63.2L455.0 64.5L455.5 66.0L456.0 67.6L456.5 69.6L457.0 72.7L457.5 76.5L458.0 80.7L458.5 85.5L459.0 91.4L459.5 97.9L460.0 103.9L460.5 109.7L461.0 115.7L461.5 120.6L462.0 123.7L462.5 125.6L463.0 127.0L463.5 128.1L464.0 129.1L464.5 130.1L465.0 131.1L465.5 132.4L466.0 133.8L466.5 135.4L467.0 137.1L467.5 139.0L468.0 141.0L468.5 142.9L469.0 144.8L469.5 146.5L470.0 148.3L470.5 150.1L471.0 151.9L471.5 153.6L472.0 155.3L472.5 157.0L473.0 158.7L473.5 160.3L474.0 161.9L474.5 163.4L475.0 164.7L475.5 165.9L476.0 167.0L476.5 168.0L477.0 168.9L477.5 169.9L478.0 171.0L478.5 171.8L479.0 172.7L479.5 173.4L480.0 174.2L480.5 175.1L481.0 175.9L481.5 176.8L482.0 177.6L482.5 178.4L483.0 179.2L483.5 179.9L484.0 180.6L484.5 181.2L485.0 181.8L485.5 182.3L486.0 182.8L486.5 183.2L487.0 183.7L487.5 184.0L488.0 184.4L488.5 184.7L489.0 185.0L489.5 185.3L490.0 185.5L490.5 185.7L491.0 185.9L491.5 186.1L492.0 186.2L492.5 186.3L493.0 186.5L493.5 186.6L494.0 186.7L494.5 186.8L495.0 186.9L495.5 187.0L496.0 187.1L496.5 187.2L497.0 187.3L497.5 187.4L498.0 187.5L498.5 187.6L499.0 187.7L499.5 187.8L500.0 187.9L500.5 188.0L501.0 188.2L501.5 188.3L502.0 188.5L502.5 188.7L503.0 188.9L503.5 189.1L504.0 189.3L504.5 189.5L505.0 189.6L505.5 189.8L506.0 190.0L506.5 190.2L507.0 190.4L507.5 190.6L508.0 190.7L508.5 190.9L509.0 191.0L509.5 191.1L510.0 191.2L510.5 191.3L511.0 191.4L511.5 191.4L512.0 191.5L512.5 191.5L513.0 191.4L513.5 191.3L514.0 191.2L514.5 191.1L515.0 191.0L515.5 190.8L516.0 190.6L516.5 190.5L517.0 190.3L517.5 190.1L518.0 189.9L518.5 189.8L519.0 189.6L519.5 189.4L520.0 189.1L520.5 188.9L521.0 188.7L521.5 188.5L522.0 188.3L522.5 188.2L523.0 188.0L523.5 187.9L524.0 187.9L524.5 187.9L525.0 187.9L525.5 188.0L526.0 188.1L526.5 188.2L527.0 188.4L527.5 188.6L528.0 188.8L528.5 189.0L529.0 189.2L529.5 189.5L530.0 189.8L530.5 190.0L531.0 190.3L531.5 190.6L532.0 190.8L532.5 191.1L533.0 191.4L533.5 191.7L534.0 192.0L534.5 192.4L535.0 192.9L535.5 193.3L536.0 193.7L536.5 194.2L537.0 194.6L537.5 195.0L538.0 195.3L538.5 195.6L539.0 195.9L539.5 196.0L540.0 196.2L540.5 196.4L541.0 196.5L541.5 196.6L542.0 196.8L542.5 196.9L543.0 197.0L543.5 197.1L544.0 197.2L544.5 197.3L545.0 197.3L545.5 197.4L546.0 197.4L546.5 197.4L547.0 197.4L547.5 197.3L548.0 197.2L548.5 197.2L549.0 197.1L549.5 197.0L550.0 196.9L550.5 196.8L551.0 196.8L551.5 196.7L552.0 196.7L552.5 196.7L553.0 196.7L553.5 196.7L554.0 196.7L554.5 196.8L555.0 196.8L555.5 196.9L556.0 197.0L556.5 197.1L557.0 197.1L557.5 197.2L558.0 197.3L558.5 197.5L559.0 197.6L559.5 197.7L560.0 197.8L560.5 198.0L561.0 198.2L561.5 198.4L562.0 198.7L562.5 199.0L563.0 199.3L563.5 199.6L564.0 199.9L564.5 200.2L565.0 200.5L565.5 200.7L566.0 200.8L566.5 200.9L567.0 201.0L567.5 201.0L568.0 201.1L568.5 201.1L569.0 201.2L569.5 201.2L570.0 201.3L570.5 201.3L571.0 201.3L571.5 201.4L572.0 201.4L572.5 201.4L573.0 201.5L573.5 201.5L574.0 201.5L574.5 201.5L575.0 201.5L575.5 201.6L576.0 201.6L576.5 201.6L577.0 201.6L577.5 201.6L578.0 201.6L578.5 201.6L579.0 201.6L579.5 201.6L580.0 201.6L580.5 201.6L581.0 201.5L581.5 201.5L582.0 201.5L582.5 201.4L583.0 201.3L583.5 201.3L584.0 201.2L584.5 201.1L585.0 201.1L585.5 201.0L586.0 201.0L586.5 200.9L587.0 200.9L587.5 200.9L588.0 200.9L588.5 200.9L589.0 200.9L589.5 200.9L590.0 200.9L590.5 201.0L591.0 201.0L591.5 201.1L592.0 201.2L592.5 201.2L593.0 201.3L593.5 201.4L594.0 201.5L594.5 201.6L595.0 201.7L595.5 201.8L596.0 201.9L596.5 202.0L597.0 202.1L597.5 202.2L598.0 202.4L598.5 202.5L599.0 202.6L599.5 202.7L600.0 202.8L600.5 202.9L601.0 202.9L601.5 203.0L602.0 203.1L602.5 203.2L603.0 203.3L603.5 203.4L604.0 203.5L604.5 203.6L605.0 203.7L605.5 203.8L606.0 203.9L606.5 204.0L607.0 204.1L607.5 204.2L608.0 204.3L608.5 204.4L609.0 204.5L609.5 204.6L610.0 204.6L610.5 204.7L611.0 204.7L611.5 204.8L612.0 204.8L612.5 204.8L613.0 204.8L613.5 204.8L614.0 204.8L614.5 204.8L615.0 204.8L615.5 204.7L616.0 204.7L616.5 204.7L617.0 204.6L617.5 204.6L618.0 204.6L618.5 204.5L619.0 204.5L619.5 204.4L620.0 204.4L620.5 204.3L621.0 204.2L621.5 204.2L622.0 204.2L622.5 204.1L623.0 204.1L623.5 204.0L624.0 204.0L624.5 204.0L625.0 204.0L625.5 203.9L626.0 203.9L626.5 203.9L627.0 203.9L627.5 203.9L628.0 203.8L628.5 203.8L629.0 203.8L629.5 203.8L630.0 203.8L630.5 203.8L631.0 203.9L631.5 204.0L632.0 204.1L632.5 204.3L633.0 204.5L633.5 204.7L634.0 204.9L634.5 205.1L635.0 205.3L635.5 205.4L636.0 205.5L636.5 205.6L637.0 205.6L637.5 205.7L638.0 205.7L638.5 205.8L639.0 205.8L639.5 205.9L640.0 205.9L640.5 205.9L641.0 206.0L641.5 206.0L642.0 206.1L642.5 206.1L643.0 206.1L643.5 206.1L644.0 206.2L644.5 206.2L645.0 206.2L645.5 206.2L646.0 206.3L646.5 206.3L647.0 206.3L647.5 206.4L648.0 206.4L648.5 206.4L649.0 206.4L649.5 206.5L650.0 206.5L650.5 206.5L651.0 206.6L651.5 206.6L652.0 206.6L652.5 206.7L653.0 206.7L653.5 206.7L654.0 206.8L654.5 206.8L655.0 206.8L655.5 206.9L656.0 206.9L656.5 206.9L657.0 207.0L657.5 207.0L658.0 207.1L658.5 207.1L659.0 207.1L659.5 207.2L660.0 207.2L660.5 207.2L661.0 207.3L661.5 207.3L662.0 207.3L662.5 207.4L663.0 207.4L663.5 207.5L664.0 207.5L664.5 207.5L665.0 207.6L665.5 207.6L666.0 207.6L666.5 207.7L667.0 207.7L667.5 207.7L668.0 207.7L668.5 207.8L669.0 207.8L669.5 207.8L670.0 207.8L670.5 207.8L671.0 207.9L671.5 207.9L672.0 207.9L672.5 207.9L673.0 207.9L673.5 207.9L674.0 207.9L674.5 208.0L675.0 208.0L675.5 208.0L676.0 208.0L676.5 208.0L677.0 208.0L677.5 208.0L678.0 208.1L678.5 208.1L679.0 208.1L679.5 208.1L680.0 208.1L680.5 208.1L681.0 208.1L681.5 208.1L682.0 208.1L682.5 208.0L683.0 207.8L683.5 207.5L684.0 207.3L684.5 206.9L685.0 206.6L685.5 206.2L686.0 205.9L686.5 205.5L687.0 205.3L687.5 205.0L688.0 204.8L688.5 204.5L689.0 204.3L689.5 204.1L690.0 203.8L690.5 203.6L691.0 203.4L691.5 203.2L692.0 203.0L692.5 202.8L693.0 202.6L693.5 202.4L694.0 202.3L694.5 202.1L695.0 202.0L695.5 201.8L696.0 201.7L696.5 201.6L697.0 201.4L697.5 201.3L698.0 201.2L698.5 201.1L699.0 201.0L699.5 200.9L700.0 200.7L700.5 200.6L701.0 200.6L701.5 200.5L702.0 200.4L702.5 200.3L703.0 200.2L703.5 200.1L704.0 200.1L704.5 200.0L705.0 200.0L705.5 199.9L706.0 199.9L706.5 199.8L707.0 199.8L707.5 199.8L708.0 199.8" fill="none" stroke="#a0a0a0" stroke-width="0.65"/>
<path d="M417.5 166.2L418.0 166.4L418.5 166.6L419.0 166.8L419.5 167.0L420.0 167.2L420.5 167.4L421.0 167.6L421.5 167.8L422.0 168.0L422.5 168.2L423.0 168.4L423.5 168.6L424.0 168.8L424.5 169.0L425.0 169.2L425.5 169.4L426.0 169.6L426.5 169.7L427.0 169.8L427.5 169.9L428.0 170.0L428.5 169.9L429.0 169.7L429.5 169.5L430.0 169.2L430.5 168.8L431.0 168.4L431.5 167.9L432.0 167.2L432.5 166.1L433.0 164.9L433.5 163.6L434.0 162.1L434.5 160.4L435.0 158.7L435.5 157.1L436.0 155.7L436.5 154.5L437.0 153.5L437.5 152.5L438.0 151.6L438.5 150.6L439.0 149.6L439.5 148.3L440.0 146.9L440.5 145.2L441.0 143.3L441.5 141.3L442.0 139.1L442.5 136.6L443.0 133.2L443.5 127.9L444.0 121.9L444.5 117.1L445.0 113.4L445.5 110.0L446.0 106.8L446.5 103.7L447.0 100.8L447.5 98.0L448.0 95.2L448.5 92.1L449.0 88.3L449.5 83.8L450.0 79.5L450.5 76.1L451.0 73.6L451.5 71.1L452.0 69.1L452.5 67.8L453.0 67.3L453.5 67.4L454.0 67.8L454.5 68.6L455.0 69.6L455.5 70.7L456.0 72.0L456.5 73.6L457.0 76.1L457.5 79.3L458.0 83.0L458.5 87.0L459.0 92.2L459.5 97.8L460.0 103.0L460.5 108.0L461.0 113.1L461.5 117.3L462.0 119.8L462.5 121.2L463.0 122.2L463.5 122.8L464.0 123.4L464.5 123.9L465.0 124.5L465.5 125.3L466.0 126.3L466.5 127.5L467.0 128.9L467.5 130.5L468.0 132.4L468.5 134.3L469.0 136.2L469.5 138.1L470.0 140.0L470.5 141.9L471.0 143.9L471.5 145.8L472.0 147.8L472.5 149.8L473.0 151.8L473.5 153.8L474.0 155.8L474.5 157.8L475.0 159.5L475.5 161.0L476.0 162.2L476.5 163.4L477.0 164.6L477.5 165.9L478.0 167.3L478.5 168.3L479.0 169.3L479.5 170.2L480.0 171.2L480.5 172.2L481.0 173.2L481.5 174.2L482.0 175.2L482.5 176.2L483.0 177.1L483.5 177.9L484.0 178.6L484.5 179.4L485.0 180.0L485.5 180.6L486.0 181.2L486.5 181.7L487.0 182.2L487.5 182.6L488.0 183.0L488.5 183.3L489.0 183.6L489.5 183.9L490.0 184.1L490.5 184.3L491.0 184.5L491.5 184.6L492.0 184.7L492.5 184.8L493.0 184.9L493.5 185.0L494.0 185.1L494.5 185.2L495.0 185.2L495.5 185.3L496.0 185.4L496.5 185.4L497.0 185.5L497.5 185.6L498.0 185.6L498.5 185.7L499.0 185.8L499.5 185.9L500.0 186.0L500.5 186.2L501.0 186.3L501.5 186.4L502.0 186.6L502.5 186.8L503.0 187.0L503.5 187.2L504.0 187.4L504.5 187.6L505.0 187.8L505.5 188.0L506.0 188.2L506.5 188.4L507.0 188.6L507.5 188.8L508.0 188.9L508.5 189.1L509.0 189.2L509.5 189.3L510.0 189.4L510.5 189.5L511.0 189.6L511.5 189.7L512.0 189.7L512.5 189.7L513.0 189.6L513.5 189.6L514.0 189.5L514.5 189.3L515.0 189.2L515.5 189.0L516.0 188.9L516.5 188.7L517.0 188.5L517.5 188.3L518.0 188.1L518.5 188.0L519.0 187.7L519.5 187.5L520.0 187.3L520.5 187.1L521.0 186.9L521.5 186.7L522.0 186.5L522.5 186.3L523.0 186.2L523.5 186.1L524.0 186.0L524.5 186.0L525.0 186.1L525.5 186.2L526.0 186.3L526.5 186.4L527.0 186.6L527.5 186.8L528.0 187.1L528.5 187.3L529.0 187.6L529.5 187.9L530.0 188.2L530.5 188.5L531.0 188.8L531.5 189.0L532.0 189.3L532.5 189.6L533.0 189.9L533.5 190.2L534.0 190.5L534.5 190.9L535.0 191.3L535.5 191.7L536.0 192.2L536.5 192.6L537.0 193.0L537.5 193.3L538.0 193.7L538.5 194.0L539.0 194.2L539.5 194.4L540.0 194.5L540.5 194.7L541.0 194.8L541.5 195.0L542.0 195.1L542.5 195.2L543.0 195.3L543.5 195.4L544.0 195.5L544.5 195.6L545.0 195.6L545.5 195.7L546.0 195.7L546.5 195.7L547.0 195.7L547.5 195.6L548.0 195.6L548.5 195.5L549.0 195.5L549.5 195.4L550.0 195.3L550.5 195.2L551.0 195.2L551.5 195.1L552.0 195.1L552.5 195.1L553.0 195.1L553.5 195.1L554.0 195.2L554.5 195.2L555.0 195.3L555.5 195.3L556.0 195.4L556.5 195.5L557.0 195.6L557.5 195.7L558.0 195.8L558.5 195.9L559.0 196.0L559.5 196.1L560.0 196.2L560.5 196.3L561.0 196.5L561.5 196.8L562.0 197.1L562.5 197.4L563.0 197.7L563.5 198.0L564.0 198.3L564.5 198.5L565.0 198.8L565.5 199.0L566.0 199.1L566.5 199.2L567.0 199.3L567.5 199.3L568.0 199.3L568.5 199.4L569.0 199.4L569.5 199.5L570.0 199.5L570.5 199.5L571.0 199.6L571.5 199.6L572.0 199.6L572.5 199.6L573.0 199.7L573.5 199.7L574.0 199.7L574.5 199.7L575.0 199.7L575.5 199.7L576.0 199.7L576.5 199.8L577.0 199.8L577.5 199.8L578.0 199.8L578.5 199.8L579.0 199.8L579.5 199.8L580.0 199.8L580.5 199.7L581.0 199.7L581.5 199.7L582.0 199.6L582.5 199.6L583.0 199.5L583.5 199.4L584.0 199.4L584.5 199.3L585.0 199.3L585.5 199.2L586.0 199.1L586.5 199.1L587.0 199.1L587.5 199.1L588.0 199.1L588.5 199.1L589.0 199.1L589.5 199.1L590.0 199.1L590.5 199.2L591.0 199.2L591.5 199.3L592.0 199.4L592.5 199.4L593.0 199.5L593.5 199.6L594.0 199.7L594.5 199.8L595.0 199.9L595.5 200.0L596.0 200.1L596.5 200.2L597.0 200.3L597.5 200.4L598.0 200.5L598.5 200.6L599.0 200.7L599.5 200.8L600.0 200.9L600.5 201.0L601.0 201.1L601.5 201.2L602.0 201.3L602.5 201.4L603.0 201.5L603.5 201.6L604.0 201.7L604.5 201.8L605.0 201.9L605.5 202.0L606.0 202.1L606.5 202.2L607.0 202.3L607.5 202.4L608.0 202.5L608.5 202.6L609.0 202.7L609.5 202.8L610.0 202.8L610.5 202.9L611.0 203.0L611.5 203.0L612.0 203.0L612.5 203.0L613.0 203.0L613.5 203.0L614.0 203.0L614.5 203.0L615.0 203.0L615.5 202.9L616.0 202.9L616.5 202.9L617.0 202.8L617.5 202.8L618.0 202.7L618.5 202.6L619.0 202.6L619.5 202.5L620.0 202.4L620.5 202.3L621.0 202.3L621.5 202.2L622.0 202.1L622.5 202.1L623.0 202.0L623.5 202.0L624.0 201.9L624.5 201.9L625.0 201.8L625.5 201.8L626.0 201.8L626.5 201.7L627.0 201.7L627.5 201.7L628.0 201.6L628.5 201.6L629.0 201.6L629.5 201.6L630.0 201.6L630.5 201.6L631.0 201.6L631.5 201.7L632.0 201.8L632.5 202.0L633.0 202.2L633.5 202.4L634.0 202.6L634.5 202.8L635.0 202.9L635.5 203.0L636.0 203.1L636.5 203.2L637.0 203.2L637.5 203.3L638.0 203.3L638.5 203.4L639.0 203.4L639.5 203.5L640.0 203.5L640.5 203.5L641.0 203.6L641.5 203.6L642.0 203.6L642.5 203.7L643.0 203.7L643.5 203.7L644.0 203.7L644.5 203.8L645.0 203.8L645.5 203.8L646.0 203.9L646.5 203.9L647.0 203.9L647.5 204.0L648.0 204.0L648.5 204.1L649.0 204.1L649.5 204.2L650.0 204.2L650.5 204.2L651.0 204.3L651.5 204.3L652.0 204.4L652.5 204.4L653.0 204.5L653.5 204.5L654.0 204.6L654.5 204.6L655.0 204.7L655.5 204.7L656.0 204.8L656.5 204.8L657.0 204.9L657.5 204.9L658.0 205.0L658.5 205.0L659.0 205.1L659.5 205.1L660.0 205.2L660.5 205.2L661.0 205.3L661.5 205.3L662.0 205.3L662.5 205.4L663.0 205.4L663.5 205.5L664.0 205.5L664.5 205.6L665.0 205.6L665.5 205.7L666.0 205.7L666.5 205.8L667.0 205.8L667.5 205.9L668.0 205.9L668.5 205.9L669.0 206.0L669.5 206.0L670.0 206.1L670.5 206.1L671.0 206.1L671.5 206.1L672.0 206.2L672.5 206.2L673.0 206.2L673.5 206.2L674.0 206.3L674.5 206.3L675.0 206.3L675.5 206.3L676.0 206.4L676.5 206.4L677.0 206.4L677.5 206.4L678.0 206.5L678.5 206.5L679.0 206.5L679.5 206.5L680.0 206.5L680.5 206.5L681.0 206.5L681.5 206.5L682.0 206.5L682.5 206.4L683.0 206.2L683.5 206.0L684.0 205.7L684.5 205.4L685.0 205.1L685.5 204.8L686.0 204.4L686.5 204.1L687.0 203.8L687.5 203.6L688.0 203.4L688.5 203.1L689.0 202.9L689.5 202.6L690.0 202.4L690.5 202.2L691.0 202.0L691.5 201.8L692.0 201.6L692.5 201.4L693.0 201.2L693.5 201.0L694.0 200.9L694.5 200.7L695.0 200.6L695.5 200.4L696.0 200.3L696.5 200.2L697.0 200.0L697.5 199.9L698.0 199.8L698.5 199.7L699.0 199.6L699.5 199.4L700.0 199.3L700.5 199.3L701.0 199.2L701.5 199.1L702.0 199.0L702.5 198.9L703.0 198.8L703.5 198.8L704.0 198.7L704.5 198.6L705.0 198.6L705.5 198.5L706.0 198.5L706.5 198.5L707.0 198.4L707.5 198.4L708.0 198.4" fill="none" stroke="#b4b4b4" stroke-width="0.65"/>
<path d="M417.5 164.4L418.0 164.6L418.5 164.8L419.0 165.0L419.5 165.3L420.0 165.5L420.5 165.7L421.0 165.9L421.5 166.1L422.0 166.2L422.5 166.4L423.0 166.6L423.5 166.8L424.0 167.0L424.5 167.2L425.0 167.4L425.5 167.6L426.0 167.8L426.5 167.9L427.0 168.1L427.5 168.2L428.0 168.2L428.5 168.2L429.0 168.1L429.5 168.0L430.0 167.7L430.5 167.5L431.0 167.1L431.5 166.8L432.0 166.2L432.5 165.4L433.0 164.4L433.5 163.4L434.0 162.2L434.5 160.9L435.0 159.6L435.5 158.2L436.0 157.1L436.5 156.1L437.0 155.3L437.5 154.5L438.0 153.7L438.5 152.9L439.0 152.0L439.5 151.0L440.0 149.8L440.5 148.3L441.0 146.7L441.5 145.0L442.0 143.1L442.5 141.1L443.0 138.3L443.5 133.9L444.0 129.1L444.5 125.2L445.0 122.1L445.5 119.2L446.0 116.4L446.5 113.7L447.0 111.2L447.5 108.7L448.0 106.2L448.5 103.5L449.0 100.2L449.5 96.4L450.0 92.7L450.5 89.7L451.0 87.4L451.5 85.2L452.0 83.2L452.5 81.8L453.0 81.1L453.5 80.7L454.0 80.6L454.5 80.7L455.0 81.0L455.5 81.4L456.0 81.9L456.5 82.6L457.0 83.9L457.5 85.8L458.0 88.0L458.5 90.5L459.0 93.9L459.5 97.6L460.0 100.9L460.5 104.2L461.0 107.4L461.5 109.9L462.0 111.1L462.5 111.4L463.0 111.2L463.5 110.9L464.0 110.5L464.5 110.1L465.0 109.7L465.5 109.5L466.0 109.4L466.5 109.6L467.0 110.3L467.5 111.4L468.0 113.0L468.5 114.9L469.0 116.9L469.5 119.0L470.0 121.3L470.5 123.6L471.0 125.8L471.5 128.2L472.0 130.8L472.5 133.5L473.0 136.3L473.5 139.2L474.0 142.2L474.5 145.1L475.0 147.7L475.5 149.8L476.0 151.6L476.5 153.2L477.0 154.9L477.5 156.9L478.0 158.9L478.5 160.5L479.0 161.8L479.5 163.1L480.0 164.3L480.5 165.6L481.0 167.0L481.5 168.4L482.0 169.8L482.5 171.1L483.0 172.2L483.5 173.3L484.0 174.2L484.5 175.2L485.0 176.0L485.5 176.8L486.0 177.6L486.5 178.2L487.0 178.9L487.5 179.4L488.0 179.9L488.5 180.3L489.0 180.6L489.5 180.9L490.0 181.2L490.5 181.4L491.0 181.6L491.5 181.7L492.0 181.9L492.5 182.0L493.0 182.0L493.5 182.1L494.0 182.2L494.5 182.2L495.0 182.3L495.5 182.3L496.0 182.4L496.5 182.5L497.0 182.5L497.5 182.6L498.0 182.7L498.5 182.8L499.0 182.9L499.5 183.0L500.0 183.1L500.5 183.3L501.0 183.4L501.5 183.6L502.0 183.8L502.5 184.0L503.0 184.2L503.5 184.4L504.0 184.7L504.5 184.9L505.0 185.1L505.5 185.3L506.0 185.5L506.5 185.7L507.0 185.9L507.5 186.1L508.0 186.3L508.5 186.4L509.0 186.6L509.5 186.7L510.0 186.8L510.5 186.9L511.0 187.0L511.5 187.1L512.0 187.1L512.5 187.1L513.0 187.1L513.5 187.0L514.0 187.0L514.5 186.9L515.0 186.7L515.5 186.6L516.0 186.4L516.5 186.3L517.0 186.1L517.5 185.9L518.0 185.7L518.5 185.5L519.0 185.3L519.5 185.1L520.0 184.9L520.5 184.7L521.0 184.5L521.5 184.3L522.0 184.1L522.5 184.0L523.0 183.9L523.5 183.8L524.0 183.8L524.5 183.8L525.0 183.9L525.5 184.0L526.0 184.2L526.5 184.3L527.0 184.5L527.5 184.8L528.0 185.0L528.5 185.3L529.0 185.6L529.5 185.9L530.0 186.2L530.5 186.5L531.0 186.8L531.5 187.2L532.0 187.4L532.5 187.7L533.0 188.0L533.5 188.3L534.0 188.6L534.5 189.0L535.0 189.4L535.5 189.7L536.0 190.1L536.5 190.4L537.0 190.8L537.5 191.1L538.0 191.4L538.5 191.7L539.0 191.9L539.5 192.0L540.0 192.2L540.5 192.3L541.0 192.4L541.5 192.6L542.0 192.7L542.5 192.8L543.0 192.9L543.5 193.0L544.0 193.1L544.5 193.2L545.0 193.2L545.5 193.3L546.0 193.3L546.5 193.3L547.0 193.3L547.5 193.3L548.0 193.3L548.5 193.2L549.0 193.2L549.5 193.1L550.0 193.1L550.5 193.1L551.0 193.0L551.5 193.0L552.0 193.0L552.5 193.0L553.0 193.0L553.5 193.0L554.0 193.1L554.5 193.1L555.0 193.2L555.5 193.2L556.0 193.3L556.5 193.4L557.0 193.4L557.5 193.5L558.0 193.6L558.5 193.7L559.0 193.8L559.5 193.9L560.0 194.0L560.5 194.1L561.0 194.3L561.5 194.5L562.0 194.8L562.5 195.1L563.0 195.3L563.5 195.6L564.0 195.9L564.5 196.1L565.0 196.3L565.5 196.5L566.0 196.7L566.5 196.7L567.0 196.8L567.5 196.8L568.0 196.8L568.5 196.9L569.0 196.9L569.5 196.9L570.0 196.9L570.5 197.0L571.0 197.0L571.5 197.0L572.0 197.0L572.5 197.0L573.0 197.0L573.5 197.0L574.0 197.0L574.5 197.1L575.0 197.1L575.5 197.1L576.0 197.1L576.5 197.1L577.0 197.1L577.5 197.1L578.0 197.0L578.5 197.0L579.0 197.0L579.5 197.0L580.0 197.0L580.5 197.0L581.0 197.0L581.5 196.9L582.0 196.9L582.5 196.8L583.0 196.8L583.5 196.7L584.0 196.7L584.5 196.6L585.0 196.6L585.5 196.5L586.0 196.5L586.5 196.4L587.0 196.4L587.5 196.4L588.0 196.4L588.5 196.4L589.0 196.4L589.5 196.4L590.0 196.5L590.5 196.5L591.0 196.6L591.5 196.6L592.0 196.7L592.5 196.7L593.0 196.8L593.5 196.9L594.0 197.0L594.5 197.1L595.0 197.2L595.5 197.3L596.0 197.4L596.5 197.5L597.0 197.6L597.5 197.7L598.0 197.8L598.5 197.9L599.0 198.0L599.5 198.1L600.0 198.2L600.5 198.3L601.0 198.4L601.5 198.5L602.0 198.5L602.5 198.6L603.0 198.7L603.5 198.8L604.0 198.9L604.5 199.0L605.0 199.1L605.5 199.2L606.0 199.3L606.5 199.4L607.0 199.5L607.5 199.6L608.0 199.7L608.5 199.8L609.0 199.9L609.5 199.9L610.0 200.0L610.5 200.1L611.0 200.1L611.5 200.2L612.0 200.2L612.5 200.2L613.0 200.2L613.5 200.2L614.0 200.1L614.5 200.1L615.0 200.0L615.5 200.0L616.0 199.9L616.5 199.9L617.0 199.8L617.5 199.7L618.0 199.6L618.5 199.5L619.0 199.4L619.5 199.2L620.0 199.1L620.5 199.0L621.0 198.8L621.5 198.7L622.0 198.6L622.5 198.5L623.0 198.4L623.5 198.3L624.0 198.2L624.5 198.1L625.0 198.0L625.5 197.9L626.0 197.8L626.5 197.7L627.0 197.7L627.5 197.6L628.0 197.6L628.5 197.5L629.0 197.5L629.5 197.4L630.0 197.4L630.5 197.4L631.0 197.4L631.5 197.4L632.0 197.5L632.5 197.6L633.0 197.7L633.5 197.9L634.0 198.0L634.5 198.1L635.0 198.2L635.5 198.3L636.0 198.4L636.5 198.4L637.0 198.4L637.5 198.5L638.0 198.5L638.5 198.6L639.0 198.6L639.5 198.7L640.0 198.7L640.5 198.7L641.0 198.8L641.5 198.8L642.0 198.8L642.5 198.9L643.0 198.9L643.5 198.9L644.0 198.9L644.5 199.0L645.0 199.0L645.5 199.1L646.0 199.1L646.5 199.2L647.0 199.3L647.5 199.4L648.0 199.5L648.5 199.6L649.0 199.6L649.5 199.7L650.0 199.8L650.5 199.9L651.0 200.0L651.5 200.1L652.0 200.2L652.5 200.2L653.0 200.3L653.5 200.4L654.0 200.5L654.5 200.6L655.0 200.7L655.5 200.8L656.0 200.9L656.5 201.0L657.0 201.1L657.5 201.1L658.0 201.2L658.5 201.3L659.0 201.4L659.5 201.5L660.0 201.6L660.5 201.7L661.0 201.7L661.5 201.8L662.0 201.9L662.5 202.0L663.0 202.1L663.5 202.2L664.0 202.2L664.5 202.3L665.0 202.4L665.5 202.5L666.0 202.6L666.5 202.6L667.0 202.7L667.5 202.8L668.0 202.9L668.5 202.9L669.0 203.0L669.5 203.1L670.0 203.2L670.5 203.2L671.0 203.3L671.5 203.3L672.0 203.4L672.5 203.4L673.0 203.5L673.5 203.5L674.0 203.6L674.5 203.6L675.0 203.7L675.5 203.7L676.0 203.8L676.5 203.8L677.0 203.9L677.5 203.9L678.0 204.0L678.5 204.0L679.0 204.0L679.5 204.1L680.0 204.1L680.5 204.1L681.0 204.1L681.5 204.1L682.0 204.1L682.5 204.0L683.0 203.9L683.5 203.7L684.0 203.4L684.5 203.2L685.0 202.9L685.5 202.6L686.0 202.3L686.5 202.0L687.0 201.7L687.5 201.5L688.0 201.3L688.5 201.0L689.0 200.8L689.5 200.6L690.0 200.4L690.5 200.1L691.0 199.9L691.5 199.7L692.0 199.6L692.5 199.4L693.0 199.2L693.5 199.0L694.0 198.8L694.5 198.7L695.0 198.5L695.5 198.4L696.0 198.2L696.5 198.1L697.0 198.0L697.5 197.8L698.0 197.7L698.5 197.6L699.0 197.5L699.5 197.4L700.0 197.3L700.5 197.2L701.0 197.1L701.5 197.1L702.0 197.0L702.5 196.9L703.0 196.9L703.5 196.8L704.0 196.7L704.5 196.7L705.0 196.6L705.5 196.6L706.0 196.6L706.5 196.5L707.0 196.5L707.5 196.5L708.0 196.5" fill="none" stroke="#bcbcbc" stroke-width="0.65"/>
<path d="M417.5 163.0L418.0 163.2L418.5 163.4L419.0 163.7L419.5 163.9L420.0 164.1L420.5 164.3L421.0 164.5L421.5 164.7L422.0 164.9L422.5 165.0L423.0 165.2L423.5 165.4L424.0 165.6L424.5 165.8L425.0 166.0L425.5 166.2L426.0 166.4L426.5 166.5L427.0 166.7L427.5 166.8L428.0 166.9L428.5 166.9L429.0 166.8L429.5 166.8L430.0 166.6L430.5 166.4L431.0 166.2L431.5 165.9L432.0 165.5L432.5 164.9L433.0 164.1L433.5 163.3L434.0 162.3L434.5 161.3L435.0 160.2L435.5 159.1L436.0 158.2L436.5 157.4L437.0 156.7L437.5 156.0L438.0 155.3L438.5 154.6L439.0 153.9L439.5 153.0L440.0 152.0L440.5 150.8L441.0 149.4L441.5 147.9L442.0 146.3L442.5 144.6L443.0 142.2L443.5 138.7L444.0 134.8L444.5 131.5L445.0 128.8L445.5 126.3L446.0 123.9L446.5 121.5L447.0 119.2L447.5 117.0L448.0 114.7L448.5 112.3L449.0 109.5L449.5 106.2L450.0 102.9L450.5 100.3L451.0 98.2L451.5 96.1L452.0 94.2L452.5 92.7L453.0 91.8L453.5 91.1L454.0 90.6L454.5 90.2L455.0 90.0L455.5 89.8L456.0 89.6L456.5 89.5L457.0 90.0L457.5 90.9L458.0 92.0L458.5 93.3L459.0 95.2L459.5 97.4L460.0 99.4L460.5 101.2L461.0 102.9L461.5 104.2L462.0 104.3L462.5 103.7L463.0 102.7L463.5 101.6L464.0 100.4L464.5 99.4L465.0 98.2L465.5 97.1L466.0 96.2L466.5 95.7L467.0 95.8L467.5 96.6L468.0 98.0L468.5 99.8L469.0 101.9L469.5 104.2L470.0 106.7L470.5 109.3L471.0 111.8L471.5 114.5L472.0 117.6L472.5 120.9L473.0 124.2L473.5 127.8L474.0 131.6L474.5 135.2L475.0 138.5L475.5 141.1L476.0 143.3L476.5 145.3L477.0 147.4L477.5 149.8L478.0 152.4L478.5 154.4L479.0 156.0L479.5 157.5L480.0 159.0L480.5 160.6L481.0 162.2L481.5 163.9L482.0 165.5L482.5 167.1L483.0 168.5L483.5 169.7L484.0 170.8L484.5 171.9L485.0 172.9L485.5 173.9L486.0 174.7L486.5 175.6L487.0 176.3L487.5 176.9L488.0 177.5L488.5 177.9L489.0 178.3L489.5 178.6L490.0 178.9L490.5 179.2L491.0 179.3L491.5 179.5L492.0 179.6L492.5 179.7L493.0 179.8L493.5 179.8L494.0 179.9L494.5 179.9L495.0 180.0L495.5 180.0L496.0 180.1L496.5 180.1L497.0 180.2L497.5 180.3L498.0 180.4L498.5 180.5L499.0 180.6L499.5 180.7L500.0 180.8L500.5 181.0L501.0 181.1L501.5 181.3L502.0 181.5L502.5 181.8L503.0 182.0L503.5 182.3L504.0 182.5L504.5 182.7L505.0 182.9L505.5 183.2L506.0 183.4L506.5 183.6L507.0 183.8L507.5 184.0L508.0 184.2L508.5 184.3L509.0 184.5L509.5 184.6L510.0 184.7L510.5 184.8L511.0 184.9L511.5 185.0L512.0 185.0L512.5 185.1L513.0 185.1L513.5 185.0L514.0 185.0L514.5 184.9L515.0 184.8L515.5 184.6L516.0 184.5L516.5 184.3L517.0 184.2L517.5 184.0L518.0 183.8L518.5 183.6L519.0 183.4L519.5 183.2L520.0 183.0L520.5 182.8L521.0 182.6L521.5 182.4L522.0 182.3L522.5 182.2L523.0 182.1L523.5 182.0L524.0 182.0L524.5 182.1L525.0 182.1L525.5 182.3L526.0 182.4L526.5 182.6L527.0 182.9L527.5 183.1L528.0 183.4L528.5 183.7L529.0 184.0L529.5 184.4L530.0 184.7L530.5 185.0L531.0 185.3L531.5 185.6L532.0 185.9L532.5 186.2L533.0 186.5L533.5 186.8L534.0 187.1L534.5 187.4L535.0 187.8L535.5 188.1L536.0 188.4L536.5 188.8L537.0 189.1L537.5 189.3L538.0 189.6L538.5 189.8L539.0 190.0L539.5 190.2L540.0 190.3L540.5 190.4L541.0 190.5L541.5 190.7L542.0 190.8L542.5 190.9L543.0 191.0L543.5 191.1L544.0 191.2L544.5 191.2L545.0 191.3L545.5 191.3L546.0 191.4L546.5 191.4L547.0 191.4L547.5 191.4L548.0 191.4L548.5 191.4L549.0 191.4L549.5 191.4L550.0 191.4L550.5 191.3L551.0 191.3L551.5 191.3L552.0 191.3L552.5 191.3L553.0 191.3L553.5 191.4L554.0 191.4L554.5 191.5L555.0 191.5L555.5 191.6L556.0 191.6L556.5 191.7L557.0 191.7L557.5 191.8L558.0 191.9L558.5 192.0L559.0 192.1L559.5 192.2L560.0 192.2L560.5 192.4L561.0 192.5L561.5 192.7L562.0 193.0L562.5 193.2L563.0 193.5L563.5 193.7L564.0 194.0L564.5 194.2L565.0 194.4L565.5 194.6L566.0 194.7L566.5 194.8L567.0 194.8L567.5 194.8L568.0 194.8L568.5 194.8L569.0 194.9L569.5 194.9L570.0 194.9L570.5 194.9L571.0 194.9L571.5 194.9L572.0 194.9L572.5 194.9L573.0 194.9L573.5 194.9L574.0 194.9L574.5 194.9L575.0 194.9L575.5 194.9L576.0 194.9L576.5 194.9L577.0 194.9L577.5 194.9L578.0 194.9L578.5 194.9L579.0 194.9L579.5 194.9L580.0 194.8L580.5 194.8L581.0 194.8L581.5 194.8L582.0 194.7L582.5 194.7L583.0 194.6L583.5 194.6L584.0 194.5L584.5 194.5L585.0 194.4L585.5 194.4L586.0 194.4L586.5 194.3L587.0 194.3L587.5 194.3L588.0 194.3L588.5 194.3L589.0 194.3L589.5 194.3L590.0 194.4L590.5 194.4L591.0 194.4L591.5 194.5L592.0 194.5L592.5 194.6L593.0 194.7L593.5 194.8L594.0 194.8L594.5 194.9L595.0 195.0L595.5 195.1L596.0 195.2L596.5 195.3L597.0 195.4L597.5 195.5L598.0 195.6L598.5 195.7L599.0 195.8L599.5 195.9L600.0 196.0L600.5 196.1L601.0 196.2L601.5 196.3L602.0 196.3L602.5 196.4L603.0 196.5L603.5 196.6L604.0 196.7L604.5 196.8L605.0 196.9L605.5 197.0L606.0 197.1L606.5 197.2L607.0 197.3L607.5 197.4L608.0 197.4L608.5 197.5L609.0 197.6L609.5 197.7L610.0 197.8L610.5 197.8L611.0 197.9L611.5 197.9L612.0 197.9L612.5 197.9L613.0 197.9L613.5 197.9L614.0 197.8L614.5 197.8L615.0 197.7L615.5 197.6L616.0 197.6L616.5 197.5L617.0 197.4L617.5 197.3L618.0 197.1L618.5 197.0L619.0 196.8L619.5 196.7L620.0 196.5L620.5 196.3L621.0 196.1L621.5 196.0L622.0 195.8L622.5 195.7L623.0 195.5L623.5 195.4L624.0 195.2L624.5 195.1L625.0 195.0L625.5 194.8L626.0 194.7L626.5 194.6L627.0 194.5L627.5 194.4L628.0 194.4L628.5 194.3L629.0 194.2L629.5 194.2L630.0 194.1L630.5 194.0L631.0 194.0L631.5 194.0L632.0 194.1L632.5 194.2L633.0 194.2L633.5 194.3L634.0 194.4L634.5 194.5L635.0 194.6L635.5 194.7L636.0 194.7L636.5 194.7L637.0 194.7L637.5 194.7L638.0 194.8L638.5 194.8L639.0 194.9L639.5 194.9L640.0 194.9L640.5 195.0L641.0 195.0L641.5 195.1L642.0 195.1L642.5 195.1L643.0 195.2L643.5 195.2L644.0 195.2L644.5 195.2L645.0 195.3L645.5 195.4L646.0 195.5L646.5 195.6L647.0 195.7L647.5 195.8L648.0 195.9L648.5 196.0L649.0 196.2L649.5 196.3L650.0 196.4L650.5 196.5L651.0 196.6L651.5 196.7L652.0 196.8L652.5 197.0L653.0 197.1L653.5 197.2L654.0 197.4L654.5 197.5L655.0 197.6L655.5 197.7L656.0 197.8L656.5 198.0L657.0 198.1L657.5 198.2L658.0 198.3L658.5 198.4L659.0 198.5L659.5 198.6L660.0 198.8L660.5 198.9L661.0 199.0L661.5 199.1L662.0 199.2L662.5 199.3L663.0 199.4L663.5 199.5L664.0 199.6L664.5 199.7L665.0 199.9L665.5 200.0L666.0 200.1L666.5 200.2L667.0 200.3L667.5 200.4L668.0 200.5L668.5 200.6L669.0 200.7L669.5 200.8L670.0 200.9L670.5 200.9L671.0 201.0L671.5 201.1L672.0 201.2L672.5 201.2L673.0 201.3L673.5 201.4L674.0 201.5L674.5 201.5L675.0 201.6L675.5 201.7L676.0 201.7L676.5 201.8L677.0 201.9L677.5 201.9L678.0 202.0L678.5 202.0L679.0 202.1L679.5 202.1L680.0 202.1L680.5 202.2L681.0 202.2L681.5 202.2L682.0 202.2L682.5 202.1L683.0 202.0L683.5 201.8L684.0 201.6L684.5 201.4L685.0 201.1L685.5 200.8L686.0 200.5L686.5 200.3L687.0 200.0L687.5 199.8L688.0 199.6L688.5 199.4L689.0 199.1L689.5 198.9L690.0 198.7L690.5 198.5L691.0 198.3L691.5 198.1L692.0 197.9L692.5 197.8L693.0 197.6L693.5 197.4L694.0 197.2L694.5 197.1L695.0 196.9L695.5 196.8L696.0 196.6L696.5 196.5L697.0 196.3L697.5 196.2L698.0 196.1L698.5 196.0L699.0 195.9L699.5 195.8L700.0 195.7L700.5 195.6L701.0 195.5L701.5 195.5L702.0 195.4L702.5 195.3L703.0 195.3L703.5 195.2L704.0 195.2L704.5 195.1L705.0 195.1L705.5 195.0L706.0 195.0L706.5 195.0L707.0 195.0L707.5 195.0L708.0 195.0" fill="none" stroke="#bcbcbc" stroke-width="0.65"/>
<path d="M417.5 161.8L418.0 162.0L418.5 162.2L419.0 162.5L419.5 162.7L420.0 162.9L420.5 163.1L421.0 163.3L421.5 163.5L422.0 163.7L422.5 163.9L423.0 164.0L423.5 164.2L424.0 164.4L424.5 164.6L425.0 164.8L425.5 165.0L426.0 165.2L426.5 165.3L427.0 165.5L427.5 165.6L428.0 165.7L428.5 165.8L429.0 165.8L429.5 165.7L430.0 165.6L430.5 165.5L431.0 165.4L431.5 165.2L432.0 164.9L432.5 164.4L433.0 163.8L433.5 163.2L434.0 162.4L434.5 161.6L435.0 160.7L435.5 159.9L436.0 159.1L436.5 158.5L437.0 157.8L437.5 157.3L438.0 156.7L438.5 156.1L439.0 155.5L439.5 154.7L440.0 153.9L440.5 152.8L441.0 151.7L441.5 150.4L442.0 149.0L442.5 147.6L443.0 145.6L443.5 142.7L444.0 139.6L444.5 136.9L445.0 134.6L445.5 132.5L446.0 130.4L446.5 128.2L447.0 126.2L447.5 124.1L448.0 122.1L448.5 119.9L449.0 117.4L449.5 114.5L450.0 111.7L450.5 109.4L451.0 107.4L451.5 105.4L452.0 103.6L452.5 102.1L453.0 100.9L453.5 100.0L454.0 99.1L454.5 98.3L455.0 97.6L455.5 96.9L456.0 96.2L456.5 95.5L457.0 95.2L457.5 95.2L458.0 95.3L458.5 95.6L459.0 96.4L459.5 97.3L460.0 98.0L460.5 98.6L461.0 99.1L461.5 99.2L462.0 98.5L462.5 97.1L463.0 95.4L463.5 93.6L464.0 91.8L464.5 90.2L465.0 88.4L465.5 86.6L466.0 85.0L466.5 83.8L467.0 83.4L467.5 83.8L468.0 85.1L468.5 86.9L469.0 89.1L469.5 91.5L470.0 94.2L470.5 97.0L471.0 99.8L471.5 102.8L472.0 106.3L472.5 110.0L473.0 113.9L473.5 118.0L474.0 122.4L474.5 126.7L475.0 130.6L475.5 133.6L476.0 136.2L476.5 138.5L477.0 140.9L477.5 143.8L478.0 146.9L478.5 149.1L479.0 151.0L479.5 152.7L480.0 154.4L480.5 156.2L481.0 158.1L481.5 160.1L482.0 161.9L482.5 163.7L483.0 165.2L483.5 166.6L484.0 167.9L484.5 169.1L485.0 170.2L485.5 171.3L486.0 172.3L486.5 173.3L487.0 174.1L487.5 174.8L488.0 175.5L488.5 176.0L489.0 176.5L489.5 176.9L490.0 177.3L490.5 177.6L491.0 177.9L491.5 178.1L492.0 178.3L492.5 178.5L493.0 178.6L493.5 178.7L494.0 178.9L494.5 179.0L495.0 179.1L495.5 179.3L496.0 179.4L496.5 179.5L497.0 179.7L497.5 179.8L498.0 180.0L498.5 180.1L499.0 180.3L499.5 180.5L500.0 180.7L500.5 180.9L501.0 181.1L501.5 181.3L502.0 181.5L502.5 181.8L503.0 182.0L503.5 182.3L504.0 182.5L504.5 182.8L505.0 183.0L505.5 183.2L506.0 183.5L506.5 183.7L507.0 183.9L507.5 184.1L508.0 184.3L508.5 184.4L509.0 184.6L509.5 184.7L510.0 184.9L510.5 185.0L511.0 185.1L511.5 185.2L512.0 185.2L512.5 185.3L513.0 185.3L513.5 185.3L514.0 185.2L514.5 185.2L515.0 185.1L515.5 185.0L516.0 184.9L516.5 184.8L517.0 184.7L517.5 184.5L518.0 184.4L518.5 184.3L519.0 184.1L519.5 183.9L520.0 183.8L520.5 183.6L521.0 183.5L521.5 183.3L522.0 183.2L522.5 183.1L523.0 183.1L523.5 183.0L524.0 183.1L524.5 183.1L525.0 183.2L525.5 183.3L526.0 183.5L526.5 183.7L527.0 183.9L527.5 184.1L528.0 184.4L528.5 184.7L529.0 185.0L529.5 185.3L530.0 185.6L530.5 185.9L531.0 186.2L531.5 186.5L532.0 186.7L532.5 187.0L533.0 187.3L533.5 187.5L534.0 187.8L534.5 188.1L535.0 188.4L535.5 188.7L536.0 189.0L536.5 189.2L537.0 189.5L537.5 189.7L538.0 190.0L538.5 190.2L539.0 190.3L539.5 190.5L540.0 190.6L540.5 190.7L541.0 190.8L541.5 190.9L542.0 191.0L542.5 191.1L543.0 191.2L543.5 191.3L544.0 191.4L544.5 191.5L545.0 191.5L545.5 191.6L546.0 191.7L546.5 191.7L547.0 191.7L547.5 191.7L548.0 191.7L548.5 191.8L549.0 191.8L549.5 191.8L550.0 191.8L550.5 191.8L551.0 191.8L551.5 191.8L552.0 191.8L552.5 191.8L553.0 191.8L553.5 191.9L554.0 191.9L554.5 191.9L555.0 192.0L555.5 192.0L556.0 192.1L556.5 192.1L557.0 192.2L557.5 192.3L558.0 192.3L558.5 192.4L559.0 192.5L559.5 192.6L560.0 192.6L560.5 192.8L561.0 192.9L561.5 193.1L562.0 193.3L562.5 193.6L563.0 193.8L563.5 194.0L564.0 194.3L564.5 194.5L565.0 194.7L565.5 194.8L566.0 194.9L566.5 195.0L567.0 195.0L567.5 195.0L568.0 195.0L568.5 195.0L569.0 195.0L569.5 195.0L570.0 195.1L570.5 195.1L571.0 195.1L571.5 195.1L572.0 195.1L572.5 195.1L573.0 195.1L573.5 195.1L574.0 195.0L574.5 195.0L575.0 195.0L575.5 195.0L576.0 195.0L576.5 195.0L577.0 195.0L577.5 195.0L578.0 194.9L578.5 194.9L579.0 194.9L579.5 194.9L580.0 194.9L580.5 194.9L581.0 194.8L581.5 194.8L582.0 194.8L582.5 194.7L583.0 194.7L583.5 194.6L584.0 194.6L584.5 194.6L585.0 194.5L585.5 194.5L586.0 194.5L586.5 194.4L587.0 194.4L587.5 194.4L588.0 194.4L588.5 194.4L589.0 194.4L589.5 194.4L590.0 194.5L590.5 194.5L591.0 194.5L591.5 194.6L592.0 194.6L592.5 194.7L593.0 194.7L593.5 194.8L594.0 194.9L594.5 194.9L595.0 195.0L595.5 195.1L596.0 195.2L596.5 195.3L597.0 195.4L597.5 195.5L598.0 195.5L598.5 195.6L599.0 195.7L599.5 195.8L600.0 195.9L600.5 196.0L601.0 196.1L601.5 196.1L602.0 196.2L602.5 196.3L603.0 196.4L603.5 196.5L604.0 196.5L604.5 196.6L605.0 196.7L605.5 196.8L606.0 196.9L606.5 196.9L607.0 197.0L607.5 197.1L608.0 197.2L608.5 197.2L609.0 197.3L609.5 197.4L610.0 197.4L610.5 197.5L611.0 197.5L611.5 197.6L612.0 197.6L612.5 197.6L613.0 197.5L613.5 197.5L614.0 197.4L614.5 197.3L615.0 197.2L615.5 197.1L616.0 197.0L616.5 196.9L617.0 196.8L617.5 196.7L618.0 196.5L618.5 196.3L619.0 196.1L619.5 195.9L620.0 195.6L620.5 195.4L621.0 195.2L621.5 195.0L622.0 194.8L622.5 194.6L623.0 194.4L623.5 194.2L624.0 194.0L624.5 193.9L625.0 193.7L625.5 193.5L626.0 193.3L626.5 193.2L627.0 193.0L627.5 192.9L628.0 192.8L628.5 192.7L629.0 192.6L629.5 192.5L630.0 192.4L630.5 192.3L631.0 192.2L631.5 192.2L632.0 192.2L632.5 192.2L633.0 192.2L633.5 192.3L634.0 192.3L634.5 192.4L635.0 192.4L635.5 192.4L636.0 192.4L636.5 192.4L637.0 192.4L637.5 192.4L638.0 192.4L638.5 192.4L639.0 192.5L639.5 192.5L640.0 192.5L640.5 192.6L641.0 192.6L641.5 192.7L642.0 192.7L642.5 192.7L643.0 192.8L643.5 192.8L644.0 192.9L644.5 192.9L645.0 193.0L645.5 193.1L646.0 193.2L646.5 193.4L647.0 193.5L647.5 193.7L648.0 193.9L648.5 194.0L649.0 194.2L649.5 194.4L650.0 194.5L650.5 194.7L651.0 194.8L651.5 195.0L652.0 195.2L652.5 195.4L653.0 195.5L653.5 195.7L654.0 195.9L654.5 196.1L655.0 196.2L655.5 196.4L656.0 196.5L656.5 196.7L657.0 196.8L657.5 197.0L658.0 197.2L658.5 197.3L659.0 197.5L659.5 197.6L660.0 197.8L660.5 197.9L661.0 198.0L661.5 198.2L662.0 198.3L662.5 198.4L663.0 198.6L663.5 198.7L664.0 198.9L664.5 199.0L665.0 199.1L665.5 199.3L666.0 199.4L666.5 199.5L667.0 199.7L667.5 199.8L668.0 199.9L668.5 200.0L669.0 200.2L669.5 200.3L670.0 200.4L670.5 200.5L671.0 200.6L671.5 200.7L672.0 200.8L672.5 200.9L673.0 201.0L673.5 201.0L674.0 201.1L674.5 201.2L675.0 201.3L675.5 201.4L676.0 201.5L676.5 201.6L677.0 201.6L677.5 201.7L678.0 201.8L678.5 201.8L679.0 201.9L679.5 201.9L680.0 202.0L680.5 202.0L681.0 202.0L681.5 202.1L682.0 202.0L682.5 202.0L683.0 201.9L683.5 201.7L684.0 201.5L684.5 201.3L685.0 201.1L685.5 200.8L686.0 200.6L686.5 200.3L687.0 200.1L687.5 199.9L688.0 199.7L688.5 199.4L689.0 199.2L689.5 199.0L690.0 198.8L690.5 198.6L691.0 198.4L691.5 198.2L692.0 198.1L692.5 197.9L693.0 197.7L693.5 197.5L694.0 197.3L694.5 197.2L695.0 197.0L695.5 196.9L696.0 196.7L696.5 196.6L697.0 196.4L697.5 196.3L698.0 196.2L698.5 196.0L699.0 195.9L699.5 195.8L700.0 195.8L700.5 195.7L701.0 195.6L701.5 195.6L702.0 195.5L702.5 195.5L703.0 195.4L703.5 195.4L704.0 195.3L704.5 195.3L705.0 195.2L705.5 195.2L706.0 195.2L706.5 195.2L707.0 195.1L707.5 195.1L708.0 195.1" fill="none" stroke="#bcbcbc" stroke-width="0.65"/>
<path d="M417.5 160.4L418.0 160.6L418.5 160.8L419.0 161.1L419.5 161.3L420.0 161.5L420.5 161.7L421.0 161.9L421.5 162.1L422.0 162.3L422.5 162.5L423.0 162.7L423.5 162.8L424.0 163.0L424.5 163.2L425.0 163.4L425.5 163.6L426.0 163.7L426.5 163.9L427.0 164.1L427.5 164.2L428.0 164.4L428.5 164.4L429.0 164.5L429.5 164.5L430.0 164.5L430.5 164.5L431.0 164.4L431.5 164.3L432.0 164.1L432.5 163.8L433.0 163.5L433.5 163.0L434.0 162.5L434.5 162.0L435.0 161.4L435.5 160.8L436.0 160.2L436.5 159.7L437.0 159.2L437.5 158.8L438.0 158.3L438.5 157.9L439.0 157.4L439.5 156.8L440.0 156.1L440.5 155.2L441.0 154.3L441.5 153.3L442.0 152.2L442.5 151.0L443.0 149.5L443.5 147.5L444.0 145.2L444.5 143.2L445.0 141.4L445.5 139.6L446.0 137.9L446.5 136.0L447.0 134.2L447.5 132.4L448.0 130.6L448.5 128.7L449.0 126.6L449.5 124.3L450.0 122.0L450.5 120.0L451.0 118.2L451.5 116.4L452.0 114.6L452.5 113.0L453.0 111.7L453.5 110.4L454.0 109.1L454.5 107.8L455.0 106.5L455.5 105.2L456.0 103.9L456.5 102.5L457.0 101.3L457.5 100.2L458.0 99.3L458.5 98.4L459.0 97.7L459.5 97.2L460.0 96.4L460.5 95.6L461.0 94.7L461.5 93.4L462.0 91.7L462.5 89.4L463.0 86.9L463.5 84.3L464.0 81.8L464.5 79.5L465.0 76.9L465.5 74.2L466.0 71.8L466.5 69.9L467.0 68.9L467.5 69.0L468.0 70.1L468.5 71.8L469.0 74.1L469.5 76.7L470.0 79.7L470.5 82.7L471.0 85.8L471.5 89.1L472.0 93.1L472.5 97.4L473.0 101.8L473.5 106.6L474.0 111.8L474.5 116.9L475.0 121.4L475.5 124.9L476.0 127.9L476.5 130.6L477.0 133.4L477.5 136.8L478.0 140.4L478.5 143.0L479.0 145.1L479.5 147.1L480.0 149.1L480.5 151.2L481.0 153.4L481.5 155.6L482.0 157.7L482.5 159.7L483.0 161.5L483.5 163.0L484.0 164.5L484.5 165.8L485.0 167.1L485.5 168.4L486.0 169.5L486.5 170.6L487.0 171.5L487.5 172.4L488.0 173.2L488.5 173.8L489.0 174.4L489.5 174.9L490.0 175.4L490.5 175.8L491.0 176.2L491.5 176.5L492.0 176.8L492.5 177.1L493.0 177.3L493.5 177.6L494.0 177.8L494.5 178.0L495.0 178.3L495.5 178.5L496.0 178.7L496.5 179.0L497.0 179.2L497.5 179.5L498.0 179.7L498.5 179.9L499.0 180.2L499.5 180.4L500.0 180.7L500.5 180.9L501.0 181.2L501.5 181.5L502.0 181.7L502.5 182.0L503.0 182.3L503.5 182.5L504.0 182.8L504.5 183.0L505.0 183.3L505.5 183.5L506.0 183.8L506.5 184.0L507.0 184.2L507.5 184.4L508.0 184.6L508.5 184.8L509.0 185.0L509.5 185.1L510.0 185.3L510.5 185.4L511.0 185.5L511.5 185.6L512.0 185.7L512.5 185.7L513.0 185.8L513.5 185.8L514.0 185.8L514.5 185.8L515.0 185.8L515.5 185.7L516.0 185.7L516.5 185.6L517.0 185.5L517.5 185.4L518.0 185.4L518.5 185.3L519.0 185.2L519.5 185.1L520.0 185.0L520.5 184.9L521.0 184.8L521.5 184.7L522.0 184.6L522.5 184.6L523.0 184.6L523.5 184.6L524.0 184.6L524.5 184.7L525.0 184.8L525.5 184.9L526.0 185.0L526.5 185.2L527.0 185.4L527.5 185.6L528.0 185.9L528.5 186.1L529.0 186.4L529.5 186.6L530.0 186.9L530.5 187.1L531.0 187.4L531.5 187.7L532.0 187.9L532.5 188.1L533.0 188.4L533.5 188.6L534.0 188.9L534.5 189.1L535.0 189.3L535.5 189.6L536.0 189.8L536.5 190.0L537.0 190.2L537.5 190.4L538.0 190.6L538.5 190.8L539.0 190.9L539.5 191.0L540.0 191.2L540.5 191.3L541.0 191.4L541.5 191.5L542.0 191.6L542.5 191.7L543.0 191.8L543.5 191.8L544.0 191.9L544.5 192.0L545.0 192.1L545.5 192.1L546.0 192.2L546.5 192.2L547.0 192.3L547.5 192.3L548.0 192.4L548.5 192.4L549.0 192.4L549.5 192.4L550.0 192.5L550.5 192.5L551.0 192.5L551.5 192.5L552.0 192.5L552.5 192.6L553.0 192.6L553.5 192.6L554.0 192.7L554.5 192.7L555.0 192.8L555.5 192.8L556.0 192.8L556.5 192.9L557.0 192.9L557.5 193.0L558.0 193.1L558.5 193.1L559.0 193.2L559.5 193.3L560.0 193.3L560.5 193.5L561.0 193.6L561.5 193.8L562.0 194.0L562.5 194.2L563.0 194.4L563.5 194.6L564.0 194.8L564.5 195.0L565.0 195.2L565.5 195.3L566.0 195.4L566.5 195.4L567.0 195.4L567.5 195.5L568.0 195.5L568.5 195.5L569.0 195.5L569.5 195.5L570.0 195.5L570.5 195.5L571.0 195.5L571.5 195.5L572.0 195.4L572.5 195.4L573.0 195.4L573.5 195.4L574.0 195.4L574.5 195.4L575.0 195.4L575.5 195.3L576.0 195.3L576.5 195.3L577.0 195.3L577.5 195.3L578.0 195.2L578.5 195.2L579.0 195.2L579.5 195.2L580.0 195.2L580.5 195.1L581.0 195.1L581.5 195.1L582.0 195.0L582.5 195.0L583.0 195.0L583.5 194.9L584.0 194.9L584.5 194.9L585.0 194.8L585.5 194.8L586.0 194.8L586.5 194.8L587.0 194.8L587.5 194.8L588.0 194.8L588.5 194.8L589.0 194.8L589.5 194.8L590.0 194.8L590.5 194.8L591.0 194.9L591.5 194.9L592.0 194.9L592.5 195.0L593.0 195.0L593.5 195.1L594.0 195.2L594.5 195.2L595.0 195.3L595.5 195.4L596.0 195.4L596.5 195.5L597.0 195.6L597.5 195.6L598.0 195.7L598.5 195.8L599.0 195.9L599.5 195.9L600.0 196.0L600.5 196.1L601.0 196.2L601.5 196.2L602.0 196.3L602.5 196.4L603.0 196.4L603.5 196.5L604.0 196.6L604.5 196.6L605.0 196.7L605.5 196.7L606.0 196.8L606.5 196.9L607.0 196.9L607.5 197.0L608.0 197.0L608.5 197.1L609.0 197.1L609.5 197.2L610.0 197.2L610.5 197.3L611.0 197.3L611.5 197.3L612.0 197.3L612.5 197.3L613.0 197.2L613.5 197.2L614.0 197.1L614.5 197.0L615.0 196.8L615.5 196.7L616.0 196.6L616.5 196.5L617.0 196.3L617.5 196.1L618.0 195.9L618.5 195.7L619.0 195.4L619.5 195.1L620.0 194.8L620.5 194.6L621.0 194.3L621.5 194.0L622.0 193.8L622.5 193.5L623.0 193.3L623.5 193.0L624.0 192.8L624.5 192.5L625.0 192.3L625.5 192.1L626.0 191.8L626.5 191.6L627.0 191.4L627.5 191.3L628.0 191.1L628.5 190.9L629.0 190.8L629.5 190.6L630.0 190.5L630.5 190.3L631.0 190.2L631.5 190.1L632.0 190.1L632.5 190.0L633.0 190.0L633.5 190.0L634.0 189.9L634.5 189.9L635.0 189.9L635.5 189.9L636.0 189.8L636.5 189.8L637.0 189.7L637.5 189.7L638.0 189.7L638.5 189.7L639.0 189.8L639.5 189.8L640.0 189.8L640.5 189.9L641.0 189.9L641.5 190.0L642.0 190.0L642.5 190.1L643.0 190.1L643.5 190.2L644.0 190.2L644.5 190.3L645.0 190.4L645.5 190.6L646.0 190.7L646.5 190.9L647.0 191.2L647.5 191.4L648.0 191.6L648.5 191.8L649.0 192.1L649.5 192.3L650.0 192.5L650.5 192.7L651.0 192.9L651.5 193.1L652.0 193.4L652.5 193.6L653.0 193.9L653.5 194.1L654.0 194.3L654.5 194.6L655.0 194.8L655.5 195.0L656.0 195.2L656.5 195.4L657.0 195.6L657.5 195.8L658.0 196.0L658.5 196.2L659.0 196.4L659.5 196.6L660.0 196.7L660.5 196.9L661.0 197.1L661.5 197.3L662.0 197.5L662.5 197.6L663.0 197.8L663.5 198.0L664.0 198.1L664.5 198.3L665.0 198.5L665.5 198.6L666.0 198.8L666.5 199.0L667.0 199.1L667.5 199.3L668.0 199.4L668.5 199.6L669.0 199.7L669.5 199.9L670.0 200.0L670.5 200.1L671.0 200.3L671.5 200.4L672.0 200.5L672.5 200.6L673.0 200.7L673.5 200.8L674.0 200.9L674.5 201.0L675.0 201.1L675.5 201.3L676.0 201.4L676.5 201.5L677.0 201.6L677.5 201.6L678.0 201.7L678.5 201.8L679.0 201.9L679.5 201.9L680.0 202.0L680.5 202.0L681.0 202.1L681.5 202.1L682.0 202.1L682.5 202.0L683.0 201.9L683.5 201.8L684.0 201.6L684.5 201.4L685.0 201.2L685.5 201.0L686.0 200.8L686.5 200.6L687.0 200.3L687.5 200.1L688.0 199.9L688.5 199.7L689.0 199.5L689.5 199.3L690.0 199.1L690.5 198.9L691.0 198.7L691.5 198.6L692.0 198.4L692.5 198.2L693.0 198.0L693.5 197.8L694.0 197.7L694.5 197.5L695.0 197.3L695.5 197.2L696.0 197.0L696.5 196.8L697.0 196.7L697.5 196.6L698.0 196.4L698.5 196.3L699.0 196.2L699.5 196.1L700.0 196.1L700.5 196.0L701.0 196.0L701.5 195.9L702.0 195.9L702.5 195.8L703.0 195.8L703.5 195.7L704.0 195.7L704.5 195.6L705.0 195.6L705.5 195.6L706.0 195.6L706.5 195.5L707.0 195.5L707.5 195.5L708.0 195.5" fill="none" stroke="#bcbcbc" stroke-width="0.65"/>
<path d="M417.5 159.2L418.0 159.4L418.5 159.7L419.0 159.9L419.5 160.1L420.0 160.3L420.5 160.5L421.0 160.7L421.5 160.9L422.0 161.1L422.5 161.3L423.0 161.5L423.5 161.7L424.0 161.8L424.5 162.0L425.0 162.2L425.5 162.4L426.0 162.5L426.5 162.7L427.0 162.9L427.5 163.0L428.0 163.2L428.5 163.3L429.0 163.4L429.5 163.5L430.0 163.6L430.5 163.6L431.0 163.6L431.5 163.6L432.0 163.5L432.5 163.4L433.0 163.2L433.5 162.9L434.0 162.6L434.5 162.3L435.0 161.9L435.5 161.5L436.0 161.1L436.5 160.8L437.0 160.4L437.5 160.1L438.0 159.7L438.5 159.4L439.0 159.0L439.5 158.5L440.0 158.0L440.5 157.3L441.0 156.6L441.5 155.8L442.0 154.9L442.5 154.0L443.0 152.9L443.5 151.5L444.0 150.0L444.5 148.6L445.0 147.2L445.5 145.8L446.0 144.3L446.5 142.7L447.0 141.2L447.5 139.6L448.0 137.9L448.5 136.3L449.0 134.5L449.5 132.7L450.0 130.8L450.5 129.1L451.0 127.4L451.5 125.7L452.0 124.0L452.5 122.4L453.0 120.8L453.5 119.2L454.0 117.6L454.5 115.9L455.0 114.2L455.5 112.4L456.0 110.5L456.5 108.4L457.0 106.5L457.5 104.6L458.0 102.6L458.5 100.7L459.0 98.9L459.5 97.0L460.0 95.1L460.5 93.0L461.0 90.9L461.5 88.5L462.0 85.8L462.5 82.8L463.0 79.6L463.5 76.4L464.0 73.2L464.5 70.3L465.0 67.0L465.5 63.7L466.0 60.5L466.5 58.0L467.0 56.5L467.5 56.3L468.0 57.2L468.5 58.9L469.0 61.2L469.5 64.0L470.0 67.2L470.5 70.5L471.0 73.8L471.5 77.4L472.0 81.7L472.5 86.5L473.0 91.4L473.5 96.9L474.0 102.7L474.5 108.4L475.0 113.5L475.5 117.5L476.0 120.7L476.5 123.8L477.0 126.9L477.5 130.7L478.0 134.8L478.5 137.7L479.0 140.1L479.5 142.3L480.0 144.5L480.5 146.8L481.0 149.3L481.5 151.7L482.0 154.1L482.5 156.3L483.0 158.3L483.5 159.9L484.0 161.5L484.5 163.0L485.0 164.5L485.5 165.8L486.0 167.1L486.5 168.3L487.0 169.4L487.5 170.3L488.0 171.2L488.5 172.0L489.0 172.7L489.5 173.3L490.0 173.9L490.5 174.4L491.0 174.9L491.5 175.4L492.0 175.8L492.5 176.2L493.0 176.6L493.5 177.0L494.0 177.3L494.5 177.7L495.0 178.0L495.5 178.4L496.0 178.8L496.5 179.1L497.0 179.5L497.5 179.8L498.0 180.2L498.5 180.5L499.0 180.9L499.5 181.2L500.0 181.5L500.5 181.9L501.0 182.2L501.5 182.5L502.0 182.7L502.5 183.0L503.0 183.3L503.5 183.6L504.0 183.9L504.5 184.1L505.0 184.4L505.5 184.7L506.0 184.9L506.5 185.1L507.0 185.3L507.5 185.6L508.0 185.8L508.5 186.0L509.0 186.1L509.5 186.3L510.0 186.4L510.5 186.6L511.0 186.7L511.5 186.8L512.0 186.9L512.5 187.0L513.0 187.1L513.5 187.1L514.0 187.2L514.5 187.2L515.0 187.2L515.5 187.2L516.0 187.2L516.5 187.2L517.0 187.2L517.5 187.2L518.0 187.2L518.5 187.1L519.0 187.1L519.5 187.1L520.0 187.0L520.5 187.0L521.0 187.0L521.5 187.0L522.0 186.9L522.5 186.9L523.0 187.0L523.5 187.0L524.0 187.1L524.5 187.1L525.0 187.2L525.5 187.3L526.0 187.5L526.5 187.6L527.0 187.8L527.5 188.0L528.0 188.2L528.5 188.4L529.0 188.6L529.5 188.8L530.0 189.0L530.5 189.2L531.0 189.4L531.5 189.6L532.0 189.9L532.5 190.1L533.0 190.2L533.5 190.4L534.0 190.6L534.5 190.8L535.0 191.0L535.5 191.2L536.0 191.4L536.5 191.6L537.0 191.7L537.5 191.9L538.0 192.0L538.5 192.2L539.0 192.3L539.5 192.4L540.0 192.5L540.5 192.6L541.0 192.7L541.5 192.8L542.0 192.9L542.5 193.0L543.0 193.1L543.5 193.2L544.0 193.2L544.5 193.3L545.0 193.4L545.5 193.4L546.0 193.5L546.5 193.6L547.0 193.6L547.5 193.7L548.0 193.7L548.5 193.8L549.0 193.8L549.5 193.9L550.0 193.9L550.5 193.9L551.0 194.0L551.5 194.0L552.0 194.1L552.5 194.1L553.0 194.1L553.5 194.2L554.0 194.2L554.5 194.2L555.0 194.3L555.5 194.3L556.0 194.4L556.5 194.4L557.0 194.4L557.5 194.5L558.0 194.5L558.5 194.6L559.0 194.7L559.5 194.7L560.0 194.8L560.5 194.9L561.0 195.0L561.5 195.2L562.0 195.4L562.5 195.6L563.0 195.8L563.5 196.0L564.0 196.1L564.5 196.3L565.0 196.5L565.5 196.6L566.0 196.7L566.5 196.7L567.0 196.7L567.5 196.7L568.0 196.7L568.5 196.7L569.0 196.7L569.5 196.7L570.0 196.7L570.5 196.7L571.0 196.7L571.5 196.6L572.0 196.6L572.5 196.6L573.0 196.6L573.5 196.6L574.0 196.5L574.5 196.5L575.0 196.5L575.5 196.5L576.0 196.5L576.5 196.4L577.0 196.4L577.5 196.4L578.0 196.3L578.5 196.3L579.0 196.3L579.5 196.3L580.0 196.2L580.5 196.2L581.0 196.2L581.5 196.2L582.0 196.1L582.5 196.1L583.0 196.1L583.5 196.0L584.0 196.0L584.5 196.0L585.0 196.0L585.5 196.0L586.0 195.9L586.5 195.9L587.0 195.9L587.5 195.9L588.0 195.9L588.5 195.9L589.0 195.9L589.5 195.9L590.0 195.9L590.5 196.0L591.0 196.0L591.5 196.0L592.0 196.1L592.5 196.1L593.0 196.1L593.5 196.2L594.0 196.2L594.5 196.3L595.0 196.3L595.5 196.4L596.0 196.5L596.5 196.5L597.0 196.6L597.5 196.6L598.0 196.7L598.5 196.8L599.0 196.8L599.5 196.9L600.0 196.9L600.5 197.0L601.0 197.0L601.5 197.1L602.0 197.1L602.5 197.2L603.0 197.2L603.5 197.3L604.0 197.3L604.5 197.4L605.0 197.4L605.5 197.5L606.0 197.5L606.5 197.5L607.0 197.6L607.5 197.6L608.0 197.7L608.5 197.7L609.0 197.7L609.5 197.8L610.0 197.8L610.5 197.8L611.0 197.8L611.5 197.8L612.0 197.8L612.5 197.8L613.0 197.7L613.5 197.6L614.0 197.5L614.5 197.3L615.0 197.2L615.5 197.0L616.0 196.9L616.5 196.7L617.0 196.5L617.5 196.3L618.0 196.0L618.5 195.8L619.0 195.4L619.5 195.1L620.0 194.8L620.5 194.5L621.0 194.1L621.5 193.8L622.0 193.5L622.5 193.2L623.0 192.9L623.5 192.6L624.0 192.3L624.5 192.0L625.0 191.7L625.5 191.4L626.0 191.1L626.5 190.9L627.0 190.6L627.5 190.4L628.0 190.2L628.5 189.9L629.0 189.7L629.5 189.5L630.0 189.3L630.5 189.1L631.0 189.0L631.5 188.8L632.0 188.7L632.5 188.6L633.0 188.5L633.5 188.4L634.0 188.3L634.5 188.2L635.0 188.2L635.5 188.1L636.0 188.0L636.5 187.9L637.0 187.8L637.5 187.8L638.0 187.8L638.5 187.8L639.0 187.8L639.5 187.8L640.0 187.9L640.5 187.9L641.0 188.0L641.5 188.0L642.0 188.1L642.5 188.2L643.0 188.2L643.5 188.3L644.0 188.4L644.5 188.5L645.0 188.6L645.5 188.8L646.0 189.0L646.5 189.3L647.0 189.5L647.5 189.8L648.0 190.1L648.5 190.4L649.0 190.7L649.5 190.9L650.0 191.2L650.5 191.5L651.0 191.8L651.5 192.1L652.0 192.4L652.5 192.7L653.0 193.0L653.5 193.3L654.0 193.6L654.5 193.8L655.0 194.1L655.5 194.4L656.0 194.6L656.5 194.9L657.0 195.1L657.5 195.4L658.0 195.6L658.5 195.8L659.0 196.1L659.5 196.3L660.0 196.5L660.5 196.7L661.0 197.0L661.5 197.2L662.0 197.4L662.5 197.6L663.0 197.8L663.5 198.0L664.0 198.2L664.5 198.4L665.0 198.6L665.5 198.8L666.0 199.0L666.5 199.2L667.0 199.3L667.5 199.5L668.0 199.7L668.5 199.9L669.0 200.0L669.5 200.2L670.0 200.4L670.5 200.5L671.0 200.7L671.5 200.8L672.0 200.9L672.5 201.1L673.0 201.2L673.5 201.3L674.0 201.4L674.5 201.6L675.0 201.7L675.5 201.8L676.0 201.9L676.5 202.0L677.0 202.2L677.5 202.3L678.0 202.4L678.5 202.4L679.0 202.5L679.5 202.6L680.0 202.7L680.5 202.7L681.0 202.7L681.5 202.7L682.0 202.7L682.5 202.7L683.0 202.6L683.5 202.5L684.0 202.4L684.5 202.2L685.0 202.0L685.5 201.8L686.0 201.6L686.5 201.4L687.0 201.2L687.5 201.0L688.0 200.8L688.5 200.6L689.0 200.4L689.5 200.2L690.0 200.0L690.5 199.8L691.0 199.7L691.5 199.5L692.0 199.3L692.5 199.2L693.0 199.0L693.5 198.8L694.0 198.6L694.5 198.4L695.0 198.3L695.5 198.1L696.0 197.9L696.5 197.8L697.0 197.6L697.5 197.5L698.0 197.3L698.5 197.2L699.0 197.1L699.5 197.1L700.0 197.0L700.5 197.0L701.0 196.9L701.5 196.9L702.0 196.8L702.5 196.8L703.0 196.7L703.5 196.7L704.0 196.7L704.5 196.6L705.0 196.6L705.5 196.6L706.0 196.6L706.5 196.5L707.0 196.5L707.5 196.5L708.0 196.5" fill="none" stroke="#c4c4c4" stroke-width="0.65"/>
<path d="M417.5 168.0L418.0 168.2L418.5 168.4L419.0 168.6L419.5 168.8L420.0 169.0L420.5 169.2L421.0 169.4L421.5 169.6L422.0 169.8L422.5 170.0L423.0 170.2L423.5 170.4L424.0 170.6L424.5 170.8L425.0 171.0L425.5 171.2L426.0 171.4L426.5 171.5L427.0 171.6L427.5 171.7L428.0 171.7L428.5 171.6L429.0 171.4L429.5 171.0L430.0 170.6L430.5 170.1L431.0 169.6" fill="none" stroke="#000" stroke-width="2.2" stroke-linejoin="round"/><path d="M430.5 170.1L431.0 169.6L431.5 169.0L432.0 168.1L432.5 166.8L433.0 165.3L433.5 163.8L434.0 162.0L434.5 160.0L435.0 157.9L435.5 156.0L436.0 154.3L436.5 152.9L437.0 151.7L437.5 150.6L438.0 149.5L438.5 148.4L439.0 147.1L439.5 145.7L440.0 144.1L440.5 142.1L441.0 139.9L441.5 137.5L442.0 135.0L442.5 132.1L443.0 128.1L443.5 121.8L444.0 114.7L444.5 109.0L445.0 104.7L445.5 100.8L446.0 97.1L446.5 93.6L447.0 90.4L447.5 87.3" fill="none" stroke="#000" stroke-width="1.5" stroke-linejoin="round"/><path d="M447.0 90.4L447.5 87.3L448.0 84.2L448.5 80.8L449.0 76.5L449.5 71.3L450.0 66.3L450.5 62.5L451.0 59.7L451.5 57.1L452.0 55.0L452.5 53.7L453.0 53.5L453.5 54.0L454.0 55.0L454.5 56.4L455.0 58.1L455.5 60.0L456.0 62.1L456.5 64.6L457.0 68.3L457.5 72.9L458.0 77.9L458.5 83.5L459.0 90.5L459.5 98.0L460.0 105.0L460.5 111.9L461.0 118.8L461.5 124.8L462.0 128.6L462.5 131.1L463.0 133.1L463.5 134.8L464.0 136.3L464.5 137.7L465.0 139.3L465.5 141.2L466.0 143.2L466.5 145.3L467.0 147.5L467.5 149.6L468.0 151.7L468.5 153.7L469.0 155.5L469.5 157.1L470.0 158.7L470.5 160.3L471.0 161.9L471.5 163.3L472.0 164.7L472.5 166.1L473.0 167.3L473.5 168.5L474.0 169.5L474.5 170.5L475.0 171.3L475.5 172.1L476.0 172.9L476.5 173.6L477.0 174.3L477.5 175.0L478.0 175.6L478.5 176.2L479.0 176.8L479.5 177.4L480.0 178.0L480.5 178.7L481.0 179.3L481.5 180.0L482.0 180.6L482.5 181.3L483.0 181.9L483.5 182.5L484.0 183.0L484.5 183.6L485.0 184.0L485.5 184.4L486.0 184.8L486.5 185.2L487.0 185.5L487.5 185.9L488.0 186.2L488.5 186.5L489.0 186.8L489.5 187.1L490.0 187.3L490.5 187.6L491.0 187.8L491.5 188.1L492.0 188.3L492.5 188.5L493.0 188.7L493.5 188.9L494.0 189.1L494.5 189.2L495.0 189.4L495.5 189.6L496.0 189.7L496.5 189.9L497.0 190.1L497.5 190.2L498.0 190.4L498.5 190.5L499.0 190.7L499.5 190.8L500.0 191.0L500.5 191.1L501.0 191.2L501.5 191.4L502.0 191.6L502.5 191.7L503.0 191.9L503.5 192.1L504.0 192.3L504.5 192.4L505.0 192.6L505.5 192.8L506.0 193.0L506.5 193.2L507.0 193.4L507.5 193.5L508.0 193.7L508.5 193.8L509.0 194.0L509.5 194.1L510.0 194.2L510.5 194.3L511.0 194.3L511.5 194.4L512.0 194.4L512.5 194.4L513.0 194.4L513.5 194.3L514.0 194.2L514.5 194.1L515.0 193.9L515.5 193.8L516.0 193.6L516.5 193.4L517.0 193.3L517.5 193.1L518.0 193.0L518.5 192.9L519.0 192.7L519.5 192.5L520.0 192.3L520.5 192.1L521.0 191.9L521.5 191.8L522.0 191.6L522.5 191.4L523.0 191.3L523.5 191.2L524.0 191.1L524.5 191.1L525.0 191.1L525.5 191.2L526.0 191.2L526.5 191.3L527.0 191.4L527.5 191.6L528.0 191.8L528.5 191.9L529.0 192.1L529.5 192.3L530.0 192.6L530.5 192.8L531.0 193.0L531.5 193.3L532.0 193.5L532.5 193.8L533.0 194.0L533.5 194.3L534.0 194.6L534.5 195.0L535.0 195.5L535.5 195.9L536.0 196.4L536.5 196.8L537.0 197.3L537.5 197.7L538.0 198.1L538.5 198.4L539.0 198.6L539.5 198.8L540.0 199.0L540.5 199.2L541.0 199.3L541.5 199.5L542.0 199.6L542.5 199.7L543.0 199.8L543.5 199.9L544.0 200.0L544.5 200.1L545.0 200.2L545.5 200.2L546.0 200.2L546.5 200.2L547.0 200.1L547.5 200.1L548.0 200.0L548.5 199.9L549.0 199.8L549.5 199.7L550.0 199.6L550.5 199.5L551.0 199.4L551.5 199.4L552.0 199.3L552.5 199.3L553.0 199.3L553.5 199.3L554.0 199.4L554.5 199.4L555.0 199.5L555.5 199.5L556.0 199.6L556.5 199.7L557.0 199.8L557.5 199.9L558.0 200.0L558.5 200.1L559.0 200.3L559.5 200.4L560.0 200.5L560.5 200.7L561.0 200.9L561.5 201.1L562.0 201.4L562.5 201.8L563.0 202.1L563.5 202.4L564.0 202.7L564.5 203.0L565.0 203.3L565.5 203.5L566.0 203.7L566.5 203.8L567.0 203.9L567.5 203.9L568.0 204.0L568.5 204.0L569.0 204.1L569.5 204.1L570.0 204.2L570.5 204.2L571.0 204.2L571.5 204.3L572.0 204.3L572.5 204.4L573.0 204.4L573.5 204.4L574.0 204.4L574.5 204.5L575.0 204.5L575.5 204.5L576.0 204.5L576.5 204.6L577.0 204.6L577.5 204.6L578.0 204.6L578.5 204.6L579.0 204.6L579.5 204.6L580.0 204.6L580.5 204.6L581.0 204.5L581.5 204.5L582.0 204.4L582.5 204.4L583.0 204.3L583.5 204.3L584.0 204.2L584.5 204.1L585.0 204.0L585.5 204.0L586.0 203.9L586.5 203.9L587.0 203.8L587.5 203.8L588.0 203.8L588.5 203.8L589.0 203.8L589.5 203.9L590.0 203.9L590.5 203.9L591.0 204.0L591.5 204.1L592.0 204.1L592.5 204.2L593.0 204.3L593.5 204.4L594.0 204.5L594.5 204.6L595.0 204.7L595.5 204.8L596.0 204.9L596.5 205.0L597.0 205.1L597.5 205.2L598.0 205.3L598.5 205.4L599.0 205.5L599.5 205.6L600.0 205.7L600.5 205.8L601.0 205.9L601.5 205.9L602.0 206.0L602.5 206.1L603.0 206.2L603.5 206.3L604.0 206.4L604.5 206.5L605.0 206.6L605.5 206.7L606.0 206.8L606.5 206.9L607.0 207.0L607.5 207.1L608.0 207.2L608.5 207.2L609.0 207.3L609.5 207.4L610.0 207.4L610.5 207.5L611.0 207.5L611.5 207.6L612.0 207.6L612.5 207.6L613.0 207.6L613.5 207.6L614.0 207.6L614.5 207.6L615.0 207.6L615.5 207.5L616.0 207.5L616.5 207.5L617.0 207.5L617.5 207.4L618.0 207.4L618.5 207.4L619.0 207.3L619.5 207.3L620.0 207.3L620.5 207.3L621.0 207.2L621.5 207.2L622.0 207.2L622.5 207.2L623.0 207.1L623.5 207.1L624.0 207.1L624.5 207.1L625.0 207.1L625.5 207.1L626.0 207.1L626.5 207.0L627.0 207.0L627.5 207.0L628.0 207.0L628.5 207.0L629.0 207.0L629.5 207.0L630.0 207.0L630.5 207.0L631.0 207.0L631.5 207.1L632.0 207.3L632.5 207.5L633.0 207.7L633.5 207.9L634.0 208.2L634.5 208.4L635.0 208.6L635.5 208.7L636.0 208.8L636.5 208.9L637.0 208.9L637.5 209.0L638.0 209.0L638.5 209.1L639.0 209.1L639.5 209.2L640.0 209.2L640.5 209.3L641.0 209.3L641.5 209.3L642.0 209.4L642.5 209.4L643.0 209.4L643.5 209.5L644.0 209.5L644.5 209.5L645.0 209.5L645.5 209.6L646.0 209.6L646.5 209.6L647.0 209.6L647.5 209.7L648.0 209.7L648.5 209.7L649.0 209.7L649.5 209.8L650.0 209.8L650.5 209.8L651.0 209.8L651.5 209.9L652.0 209.9L652.5 209.9L653.0 209.9L653.5 209.9L654.0 210.0L654.5 210.0L655.0 210.0L655.5 210.1L656.0 210.1L656.5 210.1L657.0 210.1L657.5 210.2L658.0 210.2L658.5 210.2L659.0 210.2L659.5 210.3L660.0 210.3L660.5 210.3L661.0 210.3L661.5 210.4L662.0 210.4L662.5 210.4L663.0 210.4L663.5 210.4L664.0 210.5L664.5 210.5L665.0 210.5L665.5 210.5L666.0 210.5L666.5 210.5L667.0 210.6L667.5 210.6L668.0 210.6L668.5 210.6L669.0 210.6L669.5 210.6L670.0 210.6L670.5 210.6L671.0 210.6L671.5 210.6L672.0 210.6L672.5 210.6L673.0 210.6L673.5 210.6L674.0 210.6L674.5 210.6L675.0 210.6L675.5 210.6L676.0 210.6L676.5 210.6L677.0 210.6L677.5 210.6L678.0 210.6L678.5 210.6L679.0 210.6L679.5 210.6L680.0 210.6L680.5 210.6L681.0 210.6L681.5 210.6L682.0 210.6L682.5 210.5L683.0 210.3L683.5 210.0L684.0 209.7L684.5 209.3L685.0 209.0L685.5 208.6L686.0 208.2L686.5 207.9L687.0 207.6L687.5 207.4L688.0 207.1L688.5 206.9L689.0 206.6L689.5 206.4L690.0 206.1L690.5 205.9L691.0 205.7L691.5 205.5L692.0 205.2L692.5 205.1L693.0 204.9L693.5 204.7L694.0 204.5L694.5 204.4L695.0 204.3L695.5 204.1L696.0 204.0L696.5 203.9L697.0 203.8L697.5 203.6L698.0 203.5L698.5 203.4L699.0 203.3L699.5 203.2L700.0 203.0L700.5 202.9L701.0 202.8L701.5 202.7L702.0 202.6L702.5 202.6L703.0 202.5L703.5 202.4L704.0 202.3L704.5 202.3L705.0 202.2L705.5 202.1L706.0 202.1L706.5 202.1L707.0 202.0L707.5 202.0L708.0 202.0" fill="none" stroke="#000" stroke-width="2.2" stroke-linejoin="round"/>
<path d="M417.5 158.0L418.0 158.2L418.5 158.5L419.0 158.7L419.5 158.9L420.0 159.1L420.5 159.3L421.0 159.5L421.5 159.7L422.0 159.9L422.5 160.1L423.0 160.3L423.5 160.5L424.0 160.6L424.5 160.8L425.0 161.0L425.5 161.1L426.0 161.3L426.5 161.5L427.0 161.7L427.5 161.9L428.0 162.0L428.5 162.2L429.0 162.3L429.5 162.5L430.0 162.6L430.5 162.7L431.0 162.8L431.5 162.9L432.0 162.9L432.5 162.9L433.0 162.9L433.5 162.8L434.0 162.7L434.5 162.6L435.0 162.4L435.5 162.3L436.0 162.1L436.5 161.9L437.0 161.6L437.5 161.4L438.0 161.1L438.5 160.9L439.0 160.6L439.5 160.3L440.0 159.9L440.5 159.4L441.0 158.9L441.5 158.3L442.0 157.7L442.5 157.0L443.0 156.3L443.5 155.6L444.0 154.8L444.5 154.0L445.0 153.0L445.5 151.9L446.0 150.7L446.5 149.4L447.0 148.1L447.5 146.7L448.0 145.3L448.5 143.9L449.0 142.5L449.5 141.1L450.0 139.6L450.5 138.2L451.0 136.6L451.5 135.1L452.0 133.5L452.5 131.8L453.0 130.0L453.5 128.1L454.0 126.1L454.5 124.0L455.0 121.8L455.5 119.5L456.0 117.1L456.5 114.4L457.0 111.7L457.5 108.9L458.0 106.0L458.5 103.1L459.0 100.0L459.5 96.9L460.0 93.7L460.5 90.4L461.0 87.0L461.5 83.6L462.0 80.0L462.5 76.3L463.0 72.3L463.5 68.4L464.0 64.6L464.5 61.1L465.0 57.2L465.5 53.1L466.0 49.3L466.5 46.1L467.0 44.1L467.5 43.5L468.0 44.3L468.5 45.9L469.0 48.3L469.5 51.3L470.0 54.7L470.5 58.2L471.0 61.8L471.5 65.7L472.0 70.4L472.5 75.7L473.0 81.1L473.5 87.1L474.0 93.6L474.5 100.0L475.0 105.6L475.5 110.0L476.0 113.6L476.5 117.0L477.0 120.4L477.5 124.7L478.0 129.3L478.5 132.5L479.0 135.1L479.5 137.5L480.0 139.9L480.5 142.5L481.0 145.2L481.5 147.9L482.0 150.5L482.5 152.9L483.0 155.0L483.5 156.9L484.0 158.6L484.5 160.3L485.0 161.8L485.5 163.3L486.0 164.7L486.5 166.0L487.0 167.2L487.5 168.3L488.0 169.3L488.5 170.3L489.0 171.1L489.5 171.9L490.0 172.7L490.5 173.4L491.0 174.1L491.5 174.8L492.0 175.4L492.5 176.0L493.0 176.6L493.5 177.1L494.0 177.7L494.5 178.3L495.0 178.8L495.5 179.4L496.0 180.0L496.5 180.5L497.0 181.1L497.5 181.6L498.0 182.2L498.5 182.7L499.0 183.2L499.5 183.6L500.0 184.1L500.5 184.5L501.0 184.9L501.5 185.2L502.0 185.5L502.5 185.8L503.0 186.1L503.5 186.4L504.0 186.7L504.5 187.0L505.0 187.3L505.5 187.5L506.0 187.8L506.5 188.0L507.0 188.2L507.5 188.5L508.0 188.7L508.5 188.9L509.0 189.1L509.5 189.2L510.0 189.4L510.5 189.6L511.0 189.7L511.5 189.8L512.0 189.9L512.5 190.1L513.0 190.2L513.5 190.3L514.0 190.4L514.5 190.5L515.0 190.6L515.5 190.7L516.0 190.7L516.5 190.8L517.0 190.9L517.5 191.0L518.0 191.0L518.5 191.1L519.0 191.2L519.5 191.3L520.0 191.3L520.5 191.4L521.0 191.5L521.5 191.5L522.0 191.6L522.5 191.7L523.0 191.7L523.5 191.8L524.0 191.9L524.5 192.0L525.0 192.1L525.5 192.2L526.0 192.3L526.5 192.4L527.0 192.5L527.5 192.6L528.0 192.7L528.5 192.8L529.0 192.9L529.5 193.1L530.0 193.2L530.5 193.3L531.0 193.4L531.5 193.6L532.0 193.7L532.5 193.8L533.0 194.0L533.5 194.1L534.0 194.2L534.5 194.4L535.0 194.5L535.5 194.6L536.0 194.8L536.5 194.9L537.0 195.0L537.5 195.1L538.0 195.2L538.5 195.3L539.0 195.4L539.5 195.5L540.0 195.6L540.5 195.7L541.0 195.8L541.5 195.9L542.0 196.0L542.5 196.0L543.0 196.1L543.5 196.2L544.0 196.3L544.5 196.4L545.0 196.4L545.5 196.5L546.0 196.6L546.5 196.7L547.0 196.7L547.5 196.8L548.0 196.9L548.5 196.9L549.0 197.0L549.5 197.0L550.0 197.1L550.5 197.2L551.0 197.2L551.5 197.3L552.0 197.3L552.5 197.4L553.0 197.4L553.5 197.4L554.0 197.5L554.5 197.5L555.0 197.5L555.5 197.6L556.0 197.6L556.5 197.6L557.0 197.7L557.5 197.7L558.0 197.8L558.5 197.8L559.0 197.9L559.5 197.9L560.0 198.0L560.5 198.1L561.0 198.2L561.5 198.3L562.0 198.5L562.5 198.7L563.0 198.9L563.5 199.0L564.0 199.2L564.5 199.4L565.0 199.5L565.5 199.6L566.0 199.7L566.5 199.7L567.0 199.7L567.5 199.7L568.0 199.7L568.5 199.7L569.0 199.7L569.5 199.7L570.0 199.6L570.5 199.6L571.0 199.6L571.5 199.6L572.0 199.6L572.5 199.5L573.0 199.5L573.5 199.5L574.0 199.4L574.5 199.4L575.0 199.4L575.5 199.4L576.0 199.3L576.5 199.3L577.0 199.3L577.5 199.2L578.0 199.2L578.5 199.2L579.0 199.1L579.5 199.1L580.0 199.1L580.5 199.1L581.0 199.0L581.5 199.0L582.0 199.0L582.5 198.9L583.0 198.9L583.5 198.9L584.0 198.9L584.5 198.9L585.0 198.8L585.5 198.8L586.0 198.8L586.5 198.8L587.0 198.8L587.5 198.8L588.0 198.8L588.5 198.8L589.0 198.8L589.5 198.8L590.0 198.8L590.5 198.8L591.0 198.9L591.5 198.9L592.0 198.9L592.5 198.9L593.0 199.0L593.5 199.0L594.0 199.0L594.5 199.1L595.0 199.1L595.5 199.2L596.0 199.2L596.5 199.2L597.0 199.3L597.5 199.3L598.0 199.3L598.5 199.4L599.0 199.4L599.5 199.5L600.0 199.5L600.5 199.5L601.0 199.6L601.5 199.6L602.0 199.6L602.5 199.6L603.0 199.7L603.5 199.7L604.0 199.7L604.5 199.7L605.0 199.7L605.5 199.7L606.0 199.7L606.5 199.7L607.0 199.8L607.5 199.8L608.0 199.8L608.5 199.8L609.0 199.8L609.5 199.8L610.0 199.8L610.5 199.8L611.0 199.8L611.5 199.8L612.0 199.7L612.5 199.6L613.0 199.5L613.5 199.4L614.0 199.2L614.5 199.1L615.0 198.9L615.5 198.7L616.0 198.5L616.5 198.3L617.0 198.1L617.5 197.8L618.0 197.5L618.5 197.2L619.0 196.8L619.5 196.4L620.0 196.0L620.5 195.6L621.0 195.2L621.5 194.9L622.0 194.5L622.5 194.1L623.0 193.8L623.5 193.4L624.0 193.0L624.5 192.7L625.0 192.3L625.5 191.9L626.0 191.6L626.5 191.2L627.0 190.9L627.5 190.6L628.0 190.3L628.5 190.0L629.0 189.7L629.5 189.5L630.0 189.2L630.5 188.9L631.0 188.7L631.5 188.5L632.0 188.3L632.5 188.1L633.0 187.9L633.5 187.7L634.0 187.6L634.5 187.4L635.0 187.3L635.5 187.1L636.0 187.0L636.5 186.8L637.0 186.7L637.5 186.7L638.0 186.6L638.5 186.6L639.0 186.6L639.5 186.6L640.0 186.7L640.5 186.7L641.0 186.8L641.5 186.8L642.0 186.9L642.5 187.0L643.0 187.1L643.5 187.2L644.0 187.3L644.5 187.4L645.0 187.6L645.5 187.9L646.0 188.2L646.5 188.5L647.0 188.8L647.5 189.2L648.0 189.5L648.5 189.9L649.0 190.3L649.5 190.6L650.0 190.9L650.5 191.3L651.0 191.7L651.5 192.0L652.0 192.4L652.5 192.8L653.0 193.2L653.5 193.6L654.0 193.9L654.5 194.3L655.0 194.6L655.5 194.9L656.0 195.2L656.5 195.5L657.0 195.9L657.5 196.2L658.0 196.5L658.5 196.7L659.0 197.0L659.5 197.3L660.0 197.6L660.5 197.8L661.0 198.1L661.5 198.4L662.0 198.6L662.5 198.8L663.0 199.1L663.5 199.3L664.0 199.5L664.5 199.8L665.0 200.0L665.5 200.2L666.0 200.5L666.5 200.7L667.0 200.9L667.5 201.1L668.0 201.3L668.5 201.5L669.0 201.7L669.5 201.9L670.0 202.1L670.5 202.3L671.0 202.4L671.5 202.6L672.0 202.7L672.5 202.9L673.0 203.0L673.5 203.2L674.0 203.3L674.5 203.4L675.0 203.6L675.5 203.7L676.0 203.9L676.5 204.0L677.0 204.1L677.5 204.2L678.0 204.4L678.5 204.5L679.0 204.6L679.5 204.6L680.0 204.7L680.5 204.7L681.0 204.8L681.5 204.8L682.0 204.8L682.5 204.8L683.0 204.7L683.5 204.6L684.0 204.5L684.5 204.4L685.0 204.2L685.5 204.0L686.0 203.9L686.5 203.7L687.0 203.5L687.5 203.3L688.0 203.1L688.5 202.9L689.0 202.7L689.5 202.5L690.0 202.3L690.5 202.1L691.0 202.0L691.5 201.8L692.0 201.6L692.5 201.5L693.0 201.3L693.5 201.1L694.0 200.9L694.5 200.7L695.0 200.6L695.5 200.4L696.0 200.2L696.5 200.1L697.0 199.9L697.5 199.8L698.0 199.6L698.5 199.5L699.0 199.4L699.5 199.4L700.0 199.3L700.5 199.3L701.0 199.2L701.5 199.2L702.0 199.1L702.5 199.1L703.0 199.1L703.5 199.0L704.0 199.0L704.5 199.0L705.0 199.0L705.5 198.9L706.0 198.9L706.5 198.9L707.0 198.9L707.5 198.9L708.0 198.9" fill="none" stroke="#ff0000" stroke-width="2.2" stroke-linejoin="round"/>
</g>
<defs><clipPath id="clipA"><rect x="66" y="21" width="291" height="205"/></clipPath><clipPath id="clipB"><rect x="417" y="21" width="291" height="205"/></clipPath><marker id="ah" viewBox="0 0 10 10" refX="10" refY="5" markerWidth="6" markerHeight="6" markerUnits="userSpaceOnUse" orient="auto"><path d="M0 0L10 5L0 10z" fill="#000"/></marker></defs>
<rect x="65.7" y="21.4" width="290.9" height="204.1" fill="none" stroke="#333" stroke-width="1.15"/><line x1="61.7" y1="225.5" x2="65.7" y2="225.5" stroke="#333" stroke-width="1"/><text x="58.8" y="229.1" font-size="12.2" text-anchor="end" fill="#111" stroke="#111" stroke-width="0.15">0.00</text><line x1="61.7" y1="202.8" x2="65.7" y2="202.8" stroke="#333" stroke-width="1"/><text x="58.8" y="206.4" font-size="12.2" text-anchor="end" fill="#111" stroke="#111" stroke-width="0.15">0.05</text><line x1="61.7" y1="180.1" x2="65.7" y2="180.1" stroke="#333" stroke-width="1"/><text x="58.8" y="183.7" font-size="12.2" text-anchor="end" fill="#111" stroke="#111" stroke-width="0.15">0.10</text><line x1="61.7" y1="157.5" x2="65.7" y2="157.5" stroke="#333" stroke-width="1"/><text x="58.8" y="161.1" font-size="12.2" text-anchor="end" fill="#111" stroke="#111" stroke-width="0.15">0.15</text><line x1="61.7" y1="134.8" x2="65.7" y2="134.8" stroke="#333" stroke-width="1"/><text x="58.8" y="138.4" font-size="12.2" text-anchor="end" fill="#111" stroke="#111" stroke-width="0.15">0.20</text><line x1="61.7" y1="112.1" x2="65.7" y2="112.1" stroke="#333" stroke-width="1"/><text x="58.8" y="115.7" font-size="12.2" text-anchor="end" fill="#111" stroke="#111" stroke-width="0.15">0.25</text><line x1="61.7" y1="89.4" x2="65.7" y2="89.4" stroke="#333" stroke-width="1"/><text x="58.8" y="93.0" font-size="12.2" text-anchor="end" fill="#111" stroke="#111" stroke-width="0.15">0.30</text><line x1="61.7" y1="66.8" x2="65.7" y2="66.8" stroke="#333" stroke-width="1"/><text x="58.8" y="70.4" font-size="12.2" text-anchor="end" fill="#111" stroke="#111" stroke-width="0.15">0.35</text><line x1="61.7" y1="44.1" x2="65.7" y2="44.1" stroke="#333" stroke-width="1"/><text x="58.8" y="47.7" font-size="12.2" text-anchor="end" fill="#111" stroke="#111" stroke-width="0.15">0.40</text><line x1="61.7" y1="21.4" x2="65.7" y2="21.4" stroke="#333" stroke-width="1"/><text x="58.8" y="25.0" font-size="12.2" text-anchor="end" fill="#111" stroke="#111" stroke-width="0.15">0.45</text><line x1="63.7" y1="214.2" x2="65.7" y2="214.2" stroke="#333" stroke-width="1"/><line x1="63.7" y1="191.5" x2="65.7" y2="191.5" stroke="#333" stroke-width="1"/><line x1="63.7" y1="168.8" x2="65.7" y2="168.8" stroke="#333" stroke-width="1"/><line x1="63.7" y1="146.1" x2="65.7" y2="146.1" stroke="#333" stroke-width="1"/><line x1="63.7" y1="123.5" x2="65.7" y2="123.5" stroke="#333" stroke-width="1"/><line x1="63.7" y1="100.8" x2="65.7" y2="100.8" stroke="#333" stroke-width="1"/><line x1="63.7" y1="78.1" x2="65.7" y2="78.1" stroke="#333" stroke-width="1"/><line x1="63.7" y1="55.4" x2="65.7" y2="55.4" stroke="#333" stroke-width="1"/><line x1="63.7" y1="32.7" x2="65.7" y2="32.7" stroke="#333" stroke-width="1"/><line x1="102.4" y1="225.5" x2="102.4" y2="229.5" stroke="#333" stroke-width="1"/><text x="102.4" y="241.6" font-size="12.3" text-anchor="middle" fill="#111" stroke="#111" stroke-width="0.15">400</text><line x1="175.1" y1="225.5" x2="175.1" y2="229.5" stroke="#333" stroke-width="1"/><text x="175.1" y="241.6" font-size="12.3" text-anchor="middle" fill="#111" stroke="#111" stroke-width="0.15">500</text><line x1="247.9" y1="225.5" x2="247.9" y2="229.5" stroke="#333" stroke-width="1"/><text x="247.9" y="241.6" font-size="12.3" text-anchor="middle" fill="#111" stroke="#111" stroke-width="0.15">600</text><line x1="320.6" y1="225.5" x2="320.6" y2="229.5" stroke="#333" stroke-width="1"/><text x="320.6" y="241.6" font-size="12.3" text-anchor="middle" fill="#111" stroke="#111" stroke-width="0.15">700</text><line x1="66.0" y1="225.5" x2="66.0" y2="227.5" stroke="#333" stroke-width="1"/><line x1="138.8" y1="225.5" x2="138.8" y2="227.5" stroke="#333" stroke-width="1"/><line x1="211.5" y1="225.5" x2="211.5" y2="227.5" stroke="#333" stroke-width="1"/><line x1="284.2" y1="225.5" x2="284.2" y2="227.5" stroke="#333" stroke-width="1"/><line x1="357.0" y1="225.5" x2="357.0" y2="227.5" stroke="#333" stroke-width="1"/>
<rect x="417.3" y="21.4" width="290.4" height="204.1" fill="none" stroke="#333" stroke-width="1.15"/><line x1="413.3" y1="209.8" x2="417.3" y2="209.8" stroke="#333" stroke-width="1"/><text x="410.4" y="213.4" font-size="12.2" text-anchor="end" fill="#111" stroke="#111" stroke-width="0.15">0.04</text><line x1="413.3" y1="178.4" x2="417.3" y2="178.4" stroke="#333" stroke-width="1"/><text x="410.4" y="182.0" font-size="12.2" text-anchor="end" fill="#111" stroke="#111" stroke-width="0.15">0.06</text><line x1="413.3" y1="147.0" x2="417.3" y2="147.0" stroke="#333" stroke-width="1"/><text x="410.4" y="150.6" font-size="12.2" text-anchor="end" fill="#111" stroke="#111" stroke-width="0.15">0.08</text><line x1="413.3" y1="115.6" x2="417.3" y2="115.6" stroke="#333" stroke-width="1"/><text x="410.4" y="119.2" font-size="12.2" text-anchor="end" fill="#111" stroke="#111" stroke-width="0.15">0.10</text><line x1="413.3" y1="84.2" x2="417.3" y2="84.2" stroke="#333" stroke-width="1"/><text x="410.4" y="87.8" font-size="12.2" text-anchor="end" fill="#111" stroke="#111" stroke-width="0.15">0.12</text><line x1="413.3" y1="52.8" x2="417.3" y2="52.8" stroke="#333" stroke-width="1"/><text x="410.4" y="56.4" font-size="12.2" text-anchor="end" fill="#111" stroke="#111" stroke-width="0.15">0.14</text><line x1="413.3" y1="21.4" x2="417.3" y2="21.4" stroke="#333" stroke-width="1"/><text x="410.4" y="25.0" font-size="12.2" text-anchor="end" fill="#111" stroke="#111" stroke-width="0.15">0.16</text><line x1="415.3" y1="225.5" x2="417.3" y2="225.5" stroke="#333" stroke-width="1"/><line x1="415.3" y1="194.1" x2="417.3" y2="194.1" stroke="#333" stroke-width="1"/><line x1="415.3" y1="162.7" x2="417.3" y2="162.7" stroke="#333" stroke-width="1"/><line x1="415.3" y1="131.3" x2="417.3" y2="131.3" stroke="#333" stroke-width="1"/><line x1="415.3" y1="99.9" x2="417.3" y2="99.9" stroke="#333" stroke-width="1"/><line x1="415.3" y1="68.5" x2="417.3" y2="68.5" stroke="#333" stroke-width="1"/><line x1="415.3" y1="37.1" x2="417.3" y2="37.1" stroke="#333" stroke-width="1"/><line x1="436.4" y1="225.5" x2="436.4" y2="229.5" stroke="#333" stroke-width="1"/><text x="436.4" y="241.6" font-size="12.3" text-anchor="middle" fill="#111" stroke="#111" stroke-width="0.15">400</text><line x1="514.0" y1="225.5" x2="514.0" y2="229.5" stroke="#333" stroke-width="1"/><text x="514.0" y="241.6" font-size="12.3" text-anchor="middle" fill="#111" stroke="#111" stroke-width="0.15">500</text><line x1="591.6" y1="225.5" x2="591.6" y2="229.5" stroke="#333" stroke-width="1"/><text x="591.6" y="241.6" font-size="12.3" text-anchor="middle" fill="#111" stroke="#111" stroke-width="0.15">600</text><line x1="669.2" y1="225.5" x2="669.2" y2="229.5" stroke="#333" stroke-width="1"/><text x="669.2" y="241.6" font-size="12.3" text-anchor="middle" fill="#111" stroke="#111" stroke-width="0.15">700</text><line x1="475.2" y1="225.5" x2="475.2" y2="227.5" stroke="#333" stroke-width="1"/><line x1="552.8" y1="225.5" x2="552.8" y2="227.5" stroke="#333" stroke-width="1"/><line x1="630.4" y1="225.5" x2="630.4" y2="227.5" stroke="#333" stroke-width="1"/><line x1="708.0" y1="225.5" x2="708.0" y2="227.5" stroke="#333" stroke-width="1"/>
<text x="67" y="16.3" font-size="17" fill="#111" stroke="#111" stroke-width="0.3">A</text>
<text x="418.3" y="15.7" font-size="17" fill="#111" stroke="#111" stroke-width="0.3">B</text>
<text x="193.2" y="267.4" font-size="17" fill="#111" stroke="#111" stroke-width="0.2"><tspan font-family="Liberation Serif" font-size="18">λ</tspan>/nm</text>
<text x="541.3" y="266.4" font-size="17" fill="#111" stroke="#111" stroke-width="0.2"><tspan font-family="Liberation Serif" font-size="18">λ</tspan>/nm</text>
<text transform="translate(19.2,136.2) rotate(-90)" font-size="22.1" fill="#111" stroke="#111" stroke-width="0.25">Abs</text>
<text transform="translate(379.2,142.5) rotate(-90)" font-size="22.1" fill="#111" stroke="#111" stroke-width="0.25">Abs</text>
<text x="300.6" y="34.9" font-size="10.6" fill="#111" stroke="#111" stroke-width="0.25">pH</text><line x1="283.2" y1="51.4" x2="306.4" y2="51.4" stroke="#000" stroke-width="2.0" stroke-linecap="round"/><text x="309.7" y="55.0" font-size="10" fill="#111" stroke="#111" stroke-width="0.25">5.35</text><line x1="283.2" y1="64.4" x2="306.4" y2="64.4" stroke="#0000ff" stroke-width="2.7" stroke-linecap="round"/><text x="309.7" y="67.6" font-size="10" fill="#111" stroke="#111" stroke-width="0.25">2.54</text><line x1="283.2" y1="77.3" x2="306.4" y2="77.3" stroke="#ff0000" stroke-width="1.8" stroke-linecap="round"/><text x="309.7" y="80.8" font-size="10" fill="#111" stroke="#111" stroke-width="0.25">1.5</text>
<text x="668.2" y="35.6" font-size="10.6" fill="#111" stroke="#111" stroke-width="0.25">pH</text><line x1="650.9" y1="46.4" x2="674.1" y2="46.4" stroke="#000" stroke-width="2.0" stroke-linecap="round"/><text x="677.4" y="49.6" font-size="10" fill="#111" stroke="#111" stroke-width="0.25">5.05</text><line x1="650.9" y1="59.3" x2="674.1" y2="59.3" stroke="#ff0000" stroke-width="1.8" stroke-linecap="round"/><text x="677.4" y="62.3" font-size="10" fill="#111" stroke="#111" stroke-width="0.25">1.67</text>
<text x="134.8" y="40.9" font-size="10.4" fill="#111" stroke="#111" stroke-width="0.25">436 nm</text>
<line x1="141.50" y1="119.00" x2="141.50" y2="53.40" stroke="#000" stroke-width="0.80"/><path d="M141.50 48.40L143.20 53.90L139.80 53.90z" fill="#000"/>
<text x="72.2" y="101.8" font-size="10.4" fill="#111" stroke="#111" stroke-width="0.25">421 nm</text>
<line x1="107.00" y1="105.50" x2="110.69" y2="112.05" stroke="#000" stroke-width="0.80"/><path d="M112.80 115.80L109.05 112.40L111.84 110.83z" fill="#000"/>
<text x="150.2" y="125.9" font-size="10.4" fill="#111" stroke="#111" stroke-width="0.25">426 nm</text>
<line x1="122.20" y1="123.00" x2="141.72" y2="125.05" stroke="#000" stroke-width="0.80"/><path d="M146.00 125.50L141.08 126.39L141.37 123.61z" fill="#000"/>
<line x1="137.00" y1="205.00" x2="159.41" y2="185.76" stroke="#000" stroke-width="0.80"/><path d="M163.20 182.50L160.14 187.37L157.92 184.79z" fill="#000"/>
<text x="255.3" y="176.6" font-size="10.4" fill="#111" stroke="#111" stroke-width="0.25">653 nm</text>
<line x1="299.20" y1="207.00" x2="277.08" y2="184.19" stroke="#000" stroke-width="0.80"/><path d="M273.60 180.60L278.65 183.37L276.21 185.73z" fill="#000"/>
<text x="300.5" y="180.4" font-size="10.4" fill="#111" stroke="#111" stroke-width="0.25">686 nm</text>
<line x1="315.80" y1="211.50" x2="315.80" y2="189.30" stroke="#000" stroke-width="0.80"/><path d="M315.80 184.80L317.30 189.80L314.30 189.80z" fill="#000"/>
<text x="426.1" y="46.1" font-size="10.4" fill="#111" stroke="#111" stroke-width="0.25">421 nm</text>
<line x1="435.60" y1="53.00" x2="435.60" y2="103.20" stroke="#000" stroke-width="0.80"/><path d="M435.60 108.20L433.90 102.70L437.30 102.70z" fill="#000"/>
<text x="470.1" y="38.0" font-size="10.4" fill="#111" stroke="#111" stroke-width="0.25">440 nm</text>
<line x1="484.20" y1="144.20" x2="484.20" y2="48.30" stroke="#000" stroke-width="0.80"/><path d="M484.20 43.30L485.90 48.80L482.50 48.80z" fill="#000"/>
<text x="623.4" y="172.5" font-size="10.4" fill="#111" stroke="#111" stroke-width="0.25">660 nm</text>
<line x1="640.20" y1="215.80" x2="640.20" y2="182.20" stroke="#000" stroke-width="0.80"/><path d="M640.20 177.20L641.90 182.70L638.50 182.70z" fill="#000"/>
</svg></body></html>
